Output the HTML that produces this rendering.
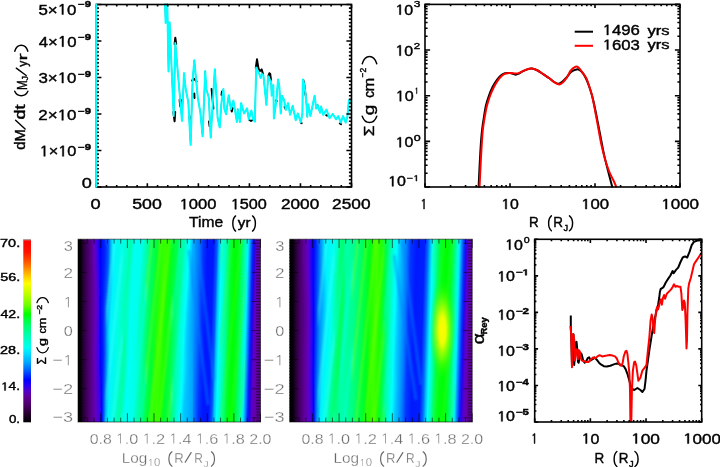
<!DOCTYPE html><html><head><meta charset="utf-8"><title>Figure</title><style>html,body{margin:0;padding:0;background:#fff;}body{width:720px;height:467px;overflow:hidden;}svg{display:block;font-family:"Liberation Sans",sans-serif;}</style></head><body>
<svg width="720" height="467" viewBox="0 0 720 467">
<defs>
<linearGradient id="g1" gradientUnits="userSpaceOnUse" x1="78.0" y1="0" x2="260.5" y2="0">
<stop offset="0.0000" stop-color="rgb(0,0,0)"/>
<stop offset="0.0137" stop-color="rgb(8,0,10)"/>
<stop offset="0.0247" stop-color="rgb(50,0,60)"/>
<stop offset="0.0438" stop-color="rgb(80,0,110)"/>
<stop offset="0.0712" stop-color="rgb(95,0,140)"/>
<stop offset="0.0932" stop-color="rgb(100,0,190)"/>
<stop offset="0.1151" stop-color="rgb(60,0,235)"/>
<stop offset="0.1288" stop-color="rgb(0,0,255)"/>
<stop offset="0.1425" stop-color="rgb(0,40,255)"/>
<stop offset="0.1534" stop-color="rgb(0,140,255)"/>
<stop offset="0.1644" stop-color="rgb(0,220,255)"/>
<stop offset="0.1808" stop-color="rgb(0,250,255)"/>
<stop offset="0.1973" stop-color="rgb(0,215,255)"/>
<stop offset="0.2137" stop-color="rgb(0,205,255)"/>
<stop offset="0.2301" stop-color="rgb(0,240,240)"/>
<stop offset="0.2521" stop-color="rgb(0,255,200)"/>
<stop offset="0.2740" stop-color="rgb(0,255,225)"/>
<stop offset="0.2849" stop-color="rgb(0,255,250)"/>
<stop offset="0.2959" stop-color="rgb(0,255,225)"/>
<stop offset="0.3178" stop-color="rgb(0,255,190)"/>
<stop offset="0.3397" stop-color="rgb(0,255,165)"/>
<stop offset="0.3671" stop-color="rgb(0,255,140)"/>
<stop offset="0.3945" stop-color="rgb(0,255,90)"/>
<stop offset="0.4164" stop-color="rgb(0,255,50)"/>
<stop offset="0.4384" stop-color="rgb(30,255,0)"/>
<stop offset="0.4603" stop-color="rgb(55,255,0)"/>
<stop offset="0.4767" stop-color="rgb(30,255,0)"/>
<stop offset="0.4932" stop-color="rgb(0,255,40)"/>
<stop offset="0.5096" stop-color="rgb(10,255,20)"/>
<stop offset="0.5205" stop-color="rgb(0,255,90)"/>
<stop offset="0.5425" stop-color="rgb(0,255,150)"/>
<stop offset="0.5589" stop-color="rgb(0,255,210)"/>
<stop offset="0.5726" stop-color="rgb(0,255,255)"/>
<stop offset="0.5863" stop-color="rgb(0,210,255)"/>
<stop offset="0.6027" stop-color="rgb(0,175,255)"/>
<stop offset="0.6247" stop-color="rgb(0,150,255)"/>
<stop offset="0.6411" stop-color="rgb(0,90,255)"/>
<stop offset="0.6630" stop-color="rgb(0,40,255)"/>
<stop offset="0.6849" stop-color="rgb(0,20,255)"/>
<stop offset="0.7068" stop-color="rgb(0,30,255)"/>
<stop offset="0.7233" stop-color="rgb(0,60,255)"/>
<stop offset="0.7397" stop-color="rgb(0,140,255)"/>
<stop offset="0.7562" stop-color="rgb(0,220,255)"/>
<stop offset="0.7726" stop-color="rgb(0,255,255)"/>
<stop offset="0.7863" stop-color="rgb(0,255,210)"/>
<stop offset="0.8055" stop-color="rgb(0,255,140)"/>
<stop offset="0.8274" stop-color="rgb(0,255,40)"/>
<stop offset="0.8493" stop-color="rgb(0,255,0)"/>
<stop offset="0.8712" stop-color="rgb(0,255,40)"/>
<stop offset="0.8877" stop-color="rgb(0,255,110)"/>
<stop offset="0.9041" stop-color="rgb(0,255,190)"/>
<stop offset="0.9178" stop-color="rgb(0,240,255)"/>
<stop offset="0.9288" stop-color="rgb(0,150,255)"/>
<stop offset="0.9425" stop-color="rgb(0,40,255)"/>
<stop offset="0.9534" stop-color="rgb(40,0,230)"/>
<stop offset="0.9644" stop-color="rgb(90,0,200)"/>
<stop offset="0.9808" stop-color="rgb(100,0,170)"/>
<stop offset="1.0000" stop-color="rgb(90,0,150)"/>
</linearGradient>
<linearGradient id="g2" gradientUnits="userSpaceOnUse" x1="289.7" y1="0" x2="472.2" y2="0">
<stop offset="0.0000" stop-color="rgb(0,0,0)"/>
<stop offset="0.0153" stop-color="rgb(15,0,20)"/>
<stop offset="0.0290" stop-color="rgb(55,0,70)"/>
<stop offset="0.0510" stop-color="rgb(80,0,115)"/>
<stop offset="0.0729" stop-color="rgb(95,0,150)"/>
<stop offset="0.1003" stop-color="rgb(95,0,200)"/>
<stop offset="0.1222" stop-color="rgb(50,0,240)"/>
<stop offset="0.1359" stop-color="rgb(0,0,255)"/>
<stop offset="0.1496" stop-color="rgb(0,100,255)"/>
<stop offset="0.1660" stop-color="rgb(0,170,255)"/>
<stop offset="0.1825" stop-color="rgb(0,200,255)"/>
<stop offset="0.2044" stop-color="rgb(0,210,255)"/>
<stop offset="0.2208" stop-color="rgb(0,225,255)"/>
<stop offset="0.2318" stop-color="rgb(0,255,230)"/>
<stop offset="0.2482" stop-color="rgb(0,255,200)"/>
<stop offset="0.2701" stop-color="rgb(0,255,180)"/>
<stop offset="0.2921" stop-color="rgb(0,255,185)"/>
<stop offset="0.3085" stop-color="rgb(0,255,235)"/>
<stop offset="0.3222" stop-color="rgb(0,255,200)"/>
<stop offset="0.3414" stop-color="rgb(0,255,150)"/>
<stop offset="0.3688" stop-color="rgb(0,255,120)"/>
<stop offset="0.3962" stop-color="rgb(0,255,80)"/>
<stop offset="0.4181" stop-color="rgb(0,255,40)"/>
<stop offset="0.4400" stop-color="rgb(20,255,0)"/>
<stop offset="0.4674" stop-color="rgb(70,255,0)"/>
<stop offset="0.4893" stop-color="rgb(50,255,0)"/>
<stop offset="0.5112" stop-color="rgb(0,255,60)"/>
<stop offset="0.5277" stop-color="rgb(0,255,120)"/>
<stop offset="0.5496" stop-color="rgb(0,255,190)"/>
<stop offset="0.5688" stop-color="rgb(0,255,255)"/>
<stop offset="0.5852" stop-color="rgb(0,215,255)"/>
<stop offset="0.6044" stop-color="rgb(0,175,255)"/>
<stop offset="0.6263" stop-color="rgb(0,130,255)"/>
<stop offset="0.6427" stop-color="rgb(0,70,255)"/>
<stop offset="0.6701" stop-color="rgb(0,40,255)"/>
<stop offset="0.6975" stop-color="rgb(0,30,255)"/>
<stop offset="0.7195" stop-color="rgb(0,50,255)"/>
<stop offset="0.7359" stop-color="rgb(0,140,255)"/>
<stop offset="0.7523" stop-color="rgb(0,220,255)"/>
<stop offset="0.7660" stop-color="rgb(0,255,255)"/>
<stop offset="0.7797" stop-color="rgb(0,255,190)"/>
<stop offset="0.7962" stop-color="rgb(0,255,100)"/>
<stop offset="0.8126" stop-color="rgb(0,255,40)"/>
<stop offset="0.8345" stop-color="rgb(0,255,0)"/>
<stop offset="0.8564" stop-color="rgb(0,255,0)"/>
<stop offset="0.8784" stop-color="rgb(0,255,40)"/>
<stop offset="0.8948" stop-color="rgb(0,255,140)"/>
<stop offset="0.9112" stop-color="rgb(0,255,220)"/>
<stop offset="0.9222" stop-color="rgb(0,220,255)"/>
<stop offset="0.9332" stop-color="rgb(0,120,255)"/>
<stop offset="0.9468" stop-color="rgb(0,40,255)"/>
<stop offset="0.9605" stop-color="rgb(60,0,230)"/>
<stop offset="0.9770" stop-color="rgb(95,0,190)"/>
<stop offset="1.0000" stop-color="rgb(95,0,160)"/>
</linearGradient>
<linearGradient id="gcb" gradientUnits="userSpaceOnUse" x1="0" y1="239.3" x2="0" y2="422.3">
<stop offset="0.0000" stop-color="rgb(255,0,0)"/>
<stop offset="0.0700" stop-color="rgb(255,20,0)"/>
<stop offset="0.1200" stop-color="rgb(255,80,0)"/>
<stop offset="0.1600" stop-color="rgb(255,140,0)"/>
<stop offset="0.2000" stop-color="rgb(255,200,0)"/>
<stop offset="0.2400" stop-color="rgb(255,255,0)"/>
<stop offset="0.3000" stop-color="rgb(190,255,0)"/>
<stop offset="0.3600" stop-color="rgb(110,255,0)"/>
<stop offset="0.4100" stop-color="rgb(0,255,0)"/>
<stop offset="0.4400" stop-color="rgb(0,255,60)"/>
<stop offset="0.4800" stop-color="rgb(0,255,120)"/>
<stop offset="0.5400" stop-color="rgb(0,255,190)"/>
<stop offset="0.5900" stop-color="rgb(0,255,240)"/>
<stop offset="0.6200" stop-color="rgb(0,225,255)"/>
<stop offset="0.6700" stop-color="rgb(0,170,255)"/>
<stop offset="0.7200" stop-color="rgb(0,90,255)"/>
<stop offset="0.7700" stop-color="rgb(0,0,255)"/>
<stop offset="0.8000" stop-color="rgb(40,0,240)"/>
<stop offset="0.8300" stop-color="rgb(85,0,200)"/>
<stop offset="0.8600" stop-color="rgb(95,0,150)"/>
<stop offset="0.9000" stop-color="rgb(80,0,110)"/>
<stop offset="0.9500" stop-color="rgb(40,0,50)"/>
<stop offset="1.0000" stop-color="rgb(0,0,0)"/>
</linearGradient>
<radialGradient id="yb" cx="0.5" cy="0.5" r="0.5"><stop offset="0" stop-color="rgb(255,250,0)" stop-opacity="1"/><stop offset="0.28" stop-color="rgb(255,255,0)" stop-opacity="0.92"/><stop offset="0.55" stop-color="rgb(180,255,0)" stop-opacity="0.62"/><stop offset="0.8" stop-color="rgb(90,255,0)" stop-opacity="0.28"/><stop offset="1" stop-color="rgb(40,255,0)" stop-opacity="0"/></radialGradient>
<clipPath id="c1"><rect x="78.0" y="239.2" width="182.50" height="182.80"/></clipPath>
<clipPath id="c2"><rect x="289.7" y="239.2" width="182.50" height="182.80"/></clipPath>
<clipPath id="cp1"><rect x="96.30" y="3.70" width="255.20" height="183.30"/></clipPath>
<clipPath id="cp4"><rect x="534.70" y="239.30" width="167.00" height="182.70"/></clipPath>
<filter id="sblur" x="-0.1" y="-0.1" width="1.2" height="1.2"><feGaussianBlur stdDeviation="0.9"/></filter>
</defs>
<g clip-path="url(#c1)">
<g transform="translate(0 330.60) skewX(-0.000) translate(0 -330.60)">
<linearGradient id="c1r" gradientUnits="userSpaceOnUse" x1="176.91" y1="0" x2="260.50" y2="0"><stop offset="0.0000" stop-color="#00ff96"/><stop offset="0.0482" stop-color="#00ffdc"/><stop offset="0.0841" stop-color="#00ffff"/><stop offset="0.1200" stop-color="#00cdff"/><stop offset="0.1806" stop-color="#00a5ff"/><stop offset="0.2404" stop-color="#006eff"/><stop offset="0.2882" stop-color="#0032ff"/><stop offset="0.3361" stop-color="#0016ff"/><stop offset="0.4079" stop-color="#0016ff"/><stop offset="0.4497" stop-color="#005aff"/><stop offset="0.4736" stop-color="#00beff"/><stop offset="0.5036" stop-color="#00ffff"/><stop offset="0.5394" stop-color="#00ffd2"/><stop offset="0.5813" stop-color="#00ff8c"/><stop offset="0.6232" stop-color="#00ff28"/><stop offset="0.6710" stop-color="#00ff00"/><stop offset="0.7189" stop-color="#00ff28"/><stop offset="0.7548" stop-color="#00ff6e"/><stop offset="0.7907" stop-color="#00ffbe"/><stop offset="0.8206" stop-color="#00f0ff"/><stop offset="0.8445" stop-color="#0096ff"/><stop offset="0.8744" stop-color="#0028ff"/><stop offset="0.8983" stop-color="#2800e6"/><stop offset="0.9222" stop-color="#5a00c8"/><stop offset="0.9581" stop-color="#6400aa"/><stop offset="1.0000" stop-color="#5a0096"/></linearGradient>
<g transform="translate(0 330.60) skewX(-1.718) translate(0 -330.60)"><rect x="189.05" y="236.20" width="79.45" height="188.80" fill="url(#c1r)"/></g>
<linearGradient id="c1s0" gradientUnits="userSpaceOnUse" x1="78.00" y1="0" x2="202.10" y2="0"><stop offset="0.000" stop-color="#000000"/><stop offset="0.020" stop-color="#050008"/><stop offset="0.040" stop-color="#230032"/><stop offset="0.073" stop-color="#41005f"/><stop offset="0.105" stop-color="#580087"/><stop offset="0.127" stop-color="#6400be"/><stop offset="0.155" stop-color="#3c00eb"/><stop offset="0.178" stop-color="#0000ff"/><stop offset="0.219" stop-color="#0023ff"/><stop offset="0.247" stop-color="#005aff"/><stop offset="0.263" stop-color="#00b4ff"/><stop offset="0.282" stop-color="#00f5ff"/><stop offset="0.361" stop-color="#00ffe1"/><stop offset="0.408" stop-color="#00ffc3"/><stop offset="0.430" stop-color="#00ffa5"/><stop offset="0.463" stop-color="#00fff5"/><stop offset="0.513" stop-color="#00ffe6"/><stop offset="0.540" stop-color="#00ffbe"/><stop offset="0.566" stop-color="#00ffa0"/><stop offset="0.597" stop-color="#00ff64"/><stop offset="0.639" stop-color="#00ff32"/><stop offset="0.680" stop-color="#2dff00"/><stop offset="0.707" stop-color="#3cff00"/><stop offset="0.734" stop-color="#19ff00"/><stop offset="0.766" stop-color="#00ff28"/><stop offset="0.798" stop-color="#00ff46"/><stop offset="0.839" stop-color="#00ff96"/><stop offset="0.875" stop-color="#00ffdc"/><stop offset="0.899" stop-color="#00ffff"/><stop offset="0.919" stop-color="#00cdff"/><stop offset="0.927" stop-color="#00a5ff"/><stop offset="0.968" stop-color="#006eff"/><stop offset="1.000" stop-color="#0032ff"/></linearGradient>
<rect x="72.0" y="239.00" width="121.05" height="4.00" fill="url(#c1s0)"/>
<linearGradient id="c1s1" gradientUnits="userSpaceOnUse" x1="78.00" y1="0" x2="202.07" y2="0"><stop offset="0.000" stop-color="#000000"/><stop offset="0.020" stop-color="#050008"/><stop offset="0.040" stop-color="#230032"/><stop offset="0.073" stop-color="#41005f"/><stop offset="0.105" stop-color="#580087"/><stop offset="0.128" stop-color="#6400be"/><stop offset="0.156" stop-color="#3c00eb"/><stop offset="0.178" stop-color="#0000ff"/><stop offset="0.219" stop-color="#0023ff"/><stop offset="0.246" stop-color="#005aff"/><stop offset="0.263" stop-color="#00b4ff"/><stop offset="0.283" stop-color="#00f5ff"/><stop offset="0.361" stop-color="#00ffe1"/><stop offset="0.406" stop-color="#00ffc3"/><stop offset="0.428" stop-color="#00ffa5"/><stop offset="0.461" stop-color="#00fff5"/><stop offset="0.512" stop-color="#00ffe6"/><stop offset="0.539" stop-color="#00ffbe"/><stop offset="0.565" stop-color="#00ffa0"/><stop offset="0.596" stop-color="#00ff64"/><stop offset="0.638" stop-color="#00ff32"/><stop offset="0.680" stop-color="#2dff00"/><stop offset="0.706" stop-color="#3cff00"/><stop offset="0.733" stop-color="#19ff00"/><stop offset="0.765" stop-color="#00ff28"/><stop offset="0.797" stop-color="#00ff46"/><stop offset="0.838" stop-color="#00ff96"/><stop offset="0.874" stop-color="#00ffdc"/><stop offset="0.898" stop-color="#00ffff"/><stop offset="0.918" stop-color="#00cdff"/><stop offset="0.927" stop-color="#00a5ff"/><stop offset="0.968" stop-color="#006eff"/><stop offset="1.000" stop-color="#0032ff"/></linearGradient>
<rect x="72.0" y="242.00" width="121.05" height="4.00" fill="url(#c1s1)"/>
<linearGradient id="c1s2" gradientUnits="userSpaceOnUse" x1="78.00" y1="0" x2="202.03" y2="0"><stop offset="0.000" stop-color="#000000"/><stop offset="0.020" stop-color="#050008"/><stop offset="0.040" stop-color="#230032"/><stop offset="0.073" stop-color="#41005f"/><stop offset="0.105" stop-color="#580087"/><stop offset="0.129" stop-color="#6400be"/><stop offset="0.157" stop-color="#3c00eb"/><stop offset="0.178" stop-color="#0000ff"/><stop offset="0.218" stop-color="#0023ff"/><stop offset="0.246" stop-color="#005aff"/><stop offset="0.263" stop-color="#00b4ff"/><stop offset="0.283" stop-color="#00f5ff"/><stop offset="0.360" stop-color="#00ffe1"/><stop offset="0.404" stop-color="#00ffc3"/><stop offset="0.426" stop-color="#00ffa5"/><stop offset="0.460" stop-color="#00fff5"/><stop offset="0.510" stop-color="#00ffe6"/><stop offset="0.538" stop-color="#00ffbe"/><stop offset="0.564" stop-color="#00ffa0"/><stop offset="0.595" stop-color="#00ff64"/><stop offset="0.637" stop-color="#00ff32"/><stop offset="0.679" stop-color="#2dff00"/><stop offset="0.705" stop-color="#3cff00"/><stop offset="0.732" stop-color="#19ff00"/><stop offset="0.764" stop-color="#00ff28"/><stop offset="0.796" stop-color="#00ff46"/><stop offset="0.837" stop-color="#00ff96"/><stop offset="0.873" stop-color="#00ffdc"/><stop offset="0.897" stop-color="#00ffff"/><stop offset="0.917" stop-color="#00cdff"/><stop offset="0.927" stop-color="#00a5ff"/><stop offset="0.968" stop-color="#006eff"/><stop offset="1.000" stop-color="#0032ff"/></linearGradient>
<rect x="72.0" y="245.00" width="121.05" height="4.00" fill="url(#c1s2)"/>
<linearGradient id="c1s3" gradientUnits="userSpaceOnUse" x1="78.00" y1="0" x2="201.99" y2="0"><stop offset="0.000" stop-color="#000000"/><stop offset="0.020" stop-color="#050008"/><stop offset="0.040" stop-color="#230032"/><stop offset="0.073" stop-color="#41005f"/><stop offset="0.105" stop-color="#580087"/><stop offset="0.130" stop-color="#6400be"/><stop offset="0.157" stop-color="#3c00eb"/><stop offset="0.178" stop-color="#0000ff"/><stop offset="0.218" stop-color="#0023ff"/><stop offset="0.245" stop-color="#005aff"/><stop offset="0.263" stop-color="#00b4ff"/><stop offset="0.284" stop-color="#00f5ff"/><stop offset="0.359" stop-color="#00ffe1"/><stop offset="0.403" stop-color="#00ffc3"/><stop offset="0.425" stop-color="#00ffa5"/><stop offset="0.459" stop-color="#00fff5"/><stop offset="0.509" stop-color="#00ffe6"/><stop offset="0.537" stop-color="#00ffbe"/><stop offset="0.563" stop-color="#00ffa0"/><stop offset="0.594" stop-color="#00ff64"/><stop offset="0.637" stop-color="#00ff32"/><stop offset="0.678" stop-color="#2dff00"/><stop offset="0.704" stop-color="#3cff00"/><stop offset="0.730" stop-color="#19ff00"/><stop offset="0.763" stop-color="#00ff28"/><stop offset="0.795" stop-color="#00ff46"/><stop offset="0.836" stop-color="#00ff96"/><stop offset="0.871" stop-color="#00ffdc"/><stop offset="0.896" stop-color="#00ffff"/><stop offset="0.917" stop-color="#00cdff"/><stop offset="0.927" stop-color="#00a5ff"/><stop offset="0.968" stop-color="#006eff"/><stop offset="1.000" stop-color="#0032ff"/></linearGradient>
<rect x="72.0" y="248.00" width="121.05" height="4.00" fill="url(#c1s3)"/>
<linearGradient id="c1s4" gradientUnits="userSpaceOnUse" x1="78.00" y1="0" x2="201.96" y2="0"><stop offset="0.000" stop-color="#000000"/><stop offset="0.020" stop-color="#050008"/><stop offset="0.040" stop-color="#230032"/><stop offset="0.073" stop-color="#41005f"/><stop offset="0.105" stop-color="#580087"/><stop offset="0.131" stop-color="#6400be"/><stop offset="0.158" stop-color="#3c00eb"/><stop offset="0.178" stop-color="#0000ff"/><stop offset="0.217" stop-color="#0023ff"/><stop offset="0.245" stop-color="#005aff"/><stop offset="0.263" stop-color="#00b4ff"/><stop offset="0.284" stop-color="#00f5ff"/><stop offset="0.359" stop-color="#00ffe1"/><stop offset="0.401" stop-color="#00ffc3"/><stop offset="0.423" stop-color="#00ffa5"/><stop offset="0.458" stop-color="#00fff5"/><stop offset="0.508" stop-color="#00ffe6"/><stop offset="0.536" stop-color="#00ffbe"/><stop offset="0.562" stop-color="#00ffa0"/><stop offset="0.594" stop-color="#00ff64"/><stop offset="0.636" stop-color="#00ff32"/><stop offset="0.678" stop-color="#2dff00"/><stop offset="0.703" stop-color="#3cff00"/><stop offset="0.729" stop-color="#19ff00"/><stop offset="0.762" stop-color="#00ff28"/><stop offset="0.794" stop-color="#00ff46"/><stop offset="0.835" stop-color="#00ff96"/><stop offset="0.870" stop-color="#00ffdc"/><stop offset="0.895" stop-color="#00ffff"/><stop offset="0.916" stop-color="#00cdff"/><stop offset="0.927" stop-color="#00a5ff"/><stop offset="0.968" stop-color="#006eff"/><stop offset="1.000" stop-color="#0032ff"/></linearGradient>
<rect x="72.0" y="251.00" width="121.05" height="4.00" fill="url(#c1s4)"/>
<linearGradient id="c1s5" gradientUnits="userSpaceOnUse" x1="78.00" y1="0" x2="201.92" y2="0"><stop offset="0.000" stop-color="#000000"/><stop offset="0.020" stop-color="#050008"/><stop offset="0.040" stop-color="#230032"/><stop offset="0.073" stop-color="#41005f"/><stop offset="0.105" stop-color="#580087"/><stop offset="0.132" stop-color="#6400be"/><stop offset="0.159" stop-color="#3c00eb"/><stop offset="0.178" stop-color="#0000ff"/><stop offset="0.217" stop-color="#0023ff"/><stop offset="0.244" stop-color="#005aff"/><stop offset="0.263" stop-color="#00b4ff"/><stop offset="0.284" stop-color="#00f5ff"/><stop offset="0.358" stop-color="#00ffe1"/><stop offset="0.399" stop-color="#00ffc3"/><stop offset="0.422" stop-color="#00ffa5"/><stop offset="0.456" stop-color="#00fff5"/><stop offset="0.506" stop-color="#00ffe6"/><stop offset="0.535" stop-color="#00ffbe"/><stop offset="0.562" stop-color="#00ffa0"/><stop offset="0.593" stop-color="#00ff64"/><stop offset="0.635" stop-color="#00ff32"/><stop offset="0.677" stop-color="#2dff00"/><stop offset="0.702" stop-color="#3cff00"/><stop offset="0.728" stop-color="#19ff00"/><stop offset="0.761" stop-color="#00ff28"/><stop offset="0.793" stop-color="#00ff46"/><stop offset="0.834" stop-color="#00ff96"/><stop offset="0.869" stop-color="#00ffdc"/><stop offset="0.894" stop-color="#00ffff"/><stop offset="0.915" stop-color="#00cdff"/><stop offset="0.927" stop-color="#00a5ff"/><stop offset="0.968" stop-color="#006eff"/><stop offset="1.000" stop-color="#0032ff"/></linearGradient>
<rect x="72.0" y="254.00" width="121.05" height="4.00" fill="url(#c1s5)"/>
<linearGradient id="c1s6" gradientUnits="userSpaceOnUse" x1="78.00" y1="0" x2="201.88" y2="0"><stop offset="0.000" stop-color="#000000"/><stop offset="0.020" stop-color="#050008"/><stop offset="0.040" stop-color="#230032"/><stop offset="0.073" stop-color="#41005f"/><stop offset="0.105" stop-color="#580087"/><stop offset="0.132" stop-color="#6400be"/><stop offset="0.159" stop-color="#3c00eb"/><stop offset="0.178" stop-color="#0000ff"/><stop offset="0.216" stop-color="#0023ff"/><stop offset="0.244" stop-color="#005aff"/><stop offset="0.263" stop-color="#00b4ff"/><stop offset="0.285" stop-color="#00f5ff"/><stop offset="0.358" stop-color="#00ffe1"/><stop offset="0.397" stop-color="#00ffc3"/><stop offset="0.420" stop-color="#00ffa5"/><stop offset="0.455" stop-color="#00fff5"/><stop offset="0.505" stop-color="#00ffe6"/><stop offset="0.534" stop-color="#00ffbe"/><stop offset="0.561" stop-color="#00ffa0"/><stop offset="0.592" stop-color="#00ff64"/><stop offset="0.635" stop-color="#00ff32"/><stop offset="0.676" stop-color="#2dff00"/><stop offset="0.701" stop-color="#3cff00"/><stop offset="0.727" stop-color="#19ff00"/><stop offset="0.760" stop-color="#00ff28"/><stop offset="0.792" stop-color="#00ff46"/><stop offset="0.833" stop-color="#00ff96"/><stop offset="0.868" stop-color="#00ffdc"/><stop offset="0.893" stop-color="#00ffff"/><stop offset="0.914" stop-color="#00cdff"/><stop offset="0.927" stop-color="#00a5ff"/><stop offset="0.968" stop-color="#006eff"/><stop offset="1.000" stop-color="#0032ff"/></linearGradient>
<rect x="72.0" y="257.00" width="121.05" height="4.00" fill="url(#c1s6)"/>
<linearGradient id="c1s7" gradientUnits="userSpaceOnUse" x1="78.00" y1="0" x2="201.85" y2="0"><stop offset="0.000" stop-color="#000000"/><stop offset="0.020" stop-color="#050008"/><stop offset="0.040" stop-color="#230032"/><stop offset="0.073" stop-color="#41005f"/><stop offset="0.105" stop-color="#580087"/><stop offset="0.133" stop-color="#6400be"/><stop offset="0.160" stop-color="#3c00eb"/><stop offset="0.179" stop-color="#0000ff"/><stop offset="0.216" stop-color="#0023ff"/><stop offset="0.243" stop-color="#005aff"/><stop offset="0.263" stop-color="#00b4ff"/><stop offset="0.285" stop-color="#00f5ff"/><stop offset="0.357" stop-color="#00ffe1"/><stop offset="0.395" stop-color="#00ffc3"/><stop offset="0.418" stop-color="#00ffa5"/><stop offset="0.454" stop-color="#00fff5"/><stop offset="0.503" stop-color="#00ffe6"/><stop offset="0.533" stop-color="#00ffbe"/><stop offset="0.560" stop-color="#00ffa0"/><stop offset="0.591" stop-color="#00ff64"/><stop offset="0.634" stop-color="#00ff32"/><stop offset="0.676" stop-color="#2dff00"/><stop offset="0.700" stop-color="#3cff00"/><stop offset="0.726" stop-color="#19ff00"/><stop offset="0.759" stop-color="#00ff28"/><stop offset="0.791" stop-color="#00ff46"/><stop offset="0.832" stop-color="#00ff96"/><stop offset="0.867" stop-color="#00ffdc"/><stop offset="0.892" stop-color="#00ffff"/><stop offset="0.913" stop-color="#00cdff"/><stop offset="0.927" stop-color="#00a5ff"/><stop offset="0.968" stop-color="#006eff"/><stop offset="1.000" stop-color="#0032ff"/></linearGradient>
<rect x="72.0" y="260.00" width="121.05" height="4.00" fill="url(#c1s7)"/>
<linearGradient id="c1s8" gradientUnits="userSpaceOnUse" x1="78.00" y1="0" x2="201.81" y2="0"><stop offset="0.000" stop-color="#000000"/><stop offset="0.020" stop-color="#050008"/><stop offset="0.040" stop-color="#230032"/><stop offset="0.073" stop-color="#41005f"/><stop offset="0.105" stop-color="#580087"/><stop offset="0.134" stop-color="#6400be"/><stop offset="0.161" stop-color="#3c00eb"/><stop offset="0.179" stop-color="#0000ff"/><stop offset="0.215" stop-color="#0023ff"/><stop offset="0.242" stop-color="#005aff"/><stop offset="0.262" stop-color="#00b4ff"/><stop offset="0.285" stop-color="#00f5ff"/><stop offset="0.356" stop-color="#00ffe1"/><stop offset="0.393" stop-color="#00ffc3"/><stop offset="0.416" stop-color="#00ffa5"/><stop offset="0.452" stop-color="#00fff5"/><stop offset="0.502" stop-color="#00ffe6"/><stop offset="0.532" stop-color="#00ffbe"/><stop offset="0.558" stop-color="#00ffa0"/><stop offset="0.590" stop-color="#00ff64"/><stop offset="0.633" stop-color="#00ff32"/><stop offset="0.675" stop-color="#2dff00"/><stop offset="0.699" stop-color="#3cff00"/><stop offset="0.725" stop-color="#19ff00"/><stop offset="0.757" stop-color="#00ff28"/><stop offset="0.790" stop-color="#00ff46"/><stop offset="0.831" stop-color="#00ff96"/><stop offset="0.866" stop-color="#00ffdc"/><stop offset="0.890" stop-color="#00ffff"/><stop offset="0.912" stop-color="#00cdff"/><stop offset="0.927" stop-color="#00a5ff"/><stop offset="0.968" stop-color="#006eff"/><stop offset="1.000" stop-color="#0032ff"/></linearGradient>
<rect x="72.0" y="263.00" width="121.05" height="4.00" fill="url(#c1s8)"/>
<linearGradient id="c1s9" gradientUnits="userSpaceOnUse" x1="78.00" y1="0" x2="201.77" y2="0"><stop offset="0.000" stop-color="#000000"/><stop offset="0.020" stop-color="#050008"/><stop offset="0.040" stop-color="#230032"/><stop offset="0.073" stop-color="#41005f"/><stop offset="0.105" stop-color="#580087"/><stop offset="0.135" stop-color="#6400be"/><stop offset="0.162" stop-color="#3c00eb"/><stop offset="0.179" stop-color="#0000ff"/><stop offset="0.214" stop-color="#0023ff"/><stop offset="0.241" stop-color="#005aff"/><stop offset="0.261" stop-color="#00b4ff"/><stop offset="0.285" stop-color="#00f5ff"/><stop offset="0.354" stop-color="#00ffe1"/><stop offset="0.391" stop-color="#00ffc3"/><stop offset="0.414" stop-color="#00ffa5"/><stop offset="0.450" stop-color="#00fff5"/><stop offset="0.500" stop-color="#00ffe6"/><stop offset="0.530" stop-color="#00ffbe"/><stop offset="0.557" stop-color="#00ffa0"/><stop offset="0.589" stop-color="#00ff64"/><stop offset="0.632" stop-color="#00ff32"/><stop offset="0.674" stop-color="#2dff00"/><stop offset="0.698" stop-color="#3cff00"/><stop offset="0.724" stop-color="#19ff00"/><stop offset="0.756" stop-color="#00ff28"/><stop offset="0.788" stop-color="#00ff46"/><stop offset="0.830" stop-color="#00ff96"/><stop offset="0.865" stop-color="#00ffdc"/><stop offset="0.889" stop-color="#00ffff"/><stop offset="0.911" stop-color="#00cdff"/><stop offset="0.927" stop-color="#00a5ff"/><stop offset="0.968" stop-color="#006eff"/><stop offset="1.000" stop-color="#0032ff"/></linearGradient>
<rect x="72.0" y="266.00" width="121.05" height="4.00" fill="url(#c1s9)"/>
<linearGradient id="c1s10" gradientUnits="userSpaceOnUse" x1="78.00" y1="0" x2="201.74" y2="0"><stop offset="0.000" stop-color="#000000"/><stop offset="0.020" stop-color="#050008"/><stop offset="0.040" stop-color="#230032"/><stop offset="0.073" stop-color="#41005f"/><stop offset="0.105" stop-color="#580087"/><stop offset="0.137" stop-color="#6400be"/><stop offset="0.163" stop-color="#3c00eb"/><stop offset="0.179" stop-color="#0000ff"/><stop offset="0.213" stop-color="#0023ff"/><stop offset="0.240" stop-color="#005aff"/><stop offset="0.260" stop-color="#00b4ff"/><stop offset="0.284" stop-color="#00f5ff"/><stop offset="0.353" stop-color="#00ffe1"/><stop offset="0.389" stop-color="#00ffc3"/><stop offset="0.412" stop-color="#00ffa5"/><stop offset="0.448" stop-color="#00fff5"/><stop offset="0.498" stop-color="#00ffe6"/><stop offset="0.529" stop-color="#00ffbe"/><stop offset="0.556" stop-color="#00ffa0"/><stop offset="0.588" stop-color="#00ff64"/><stop offset="0.631" stop-color="#00ff32"/><stop offset="0.672" stop-color="#2dff00"/><stop offset="0.697" stop-color="#3cff00"/><stop offset="0.723" stop-color="#19ff00"/><stop offset="0.755" stop-color="#00ff28"/><stop offset="0.787" stop-color="#00ff46"/><stop offset="0.829" stop-color="#00ff96"/><stop offset="0.863" stop-color="#00ffdc"/><stop offset="0.888" stop-color="#00ffff"/><stop offset="0.910" stop-color="#00cdff"/><stop offset="0.927" stop-color="#00a5ff"/><stop offset="0.968" stop-color="#006eff"/><stop offset="1.000" stop-color="#0032ff"/></linearGradient>
<rect x="72.0" y="269.00" width="121.05" height="4.00" fill="url(#c1s10)"/>
<linearGradient id="c1s11" gradientUnits="userSpaceOnUse" x1="78.00" y1="0" x2="201.70" y2="0"><stop offset="0.000" stop-color="#000000"/><stop offset="0.020" stop-color="#050008"/><stop offset="0.040" stop-color="#230032"/><stop offset="0.073" stop-color="#41005f"/><stop offset="0.105" stop-color="#580087"/><stop offset="0.138" stop-color="#6400be"/><stop offset="0.164" stop-color="#3c00eb"/><stop offset="0.179" stop-color="#0000ff"/><stop offset="0.213" stop-color="#0023ff"/><stop offset="0.238" stop-color="#005aff"/><stop offset="0.260" stop-color="#00b4ff"/><stop offset="0.284" stop-color="#00f5ff"/><stop offset="0.352" stop-color="#00ffe1"/><stop offset="0.386" stop-color="#00ffc3"/><stop offset="0.410" stop-color="#00ffa5"/><stop offset="0.447" stop-color="#00fff5"/><stop offset="0.497" stop-color="#00ffe6"/><stop offset="0.527" stop-color="#00ffbe"/><stop offset="0.554" stop-color="#00ffa0"/><stop offset="0.587" stop-color="#00ff64"/><stop offset="0.629" stop-color="#00ff32"/><stop offset="0.671" stop-color="#2dff00"/><stop offset="0.696" stop-color="#3cff00"/><stop offset="0.722" stop-color="#19ff00"/><stop offset="0.754" stop-color="#00ff28"/><stop offset="0.786" stop-color="#00ff46"/><stop offset="0.828" stop-color="#00ff96"/><stop offset="0.862" stop-color="#00ffdc"/><stop offset="0.886" stop-color="#00ffff"/><stop offset="0.909" stop-color="#00cdff"/><stop offset="0.927" stop-color="#00a5ff"/><stop offset="0.968" stop-color="#006eff"/><stop offset="1.000" stop-color="#0032ff"/></linearGradient>
<rect x="72.0" y="272.00" width="121.05" height="4.00" fill="url(#c1s11)"/>
<linearGradient id="c1s12" gradientUnits="userSpaceOnUse" x1="78.00" y1="0" x2="201.66" y2="0"><stop offset="0.000" stop-color="#000000"/><stop offset="0.020" stop-color="#050008"/><stop offset="0.040" stop-color="#230032"/><stop offset="0.073" stop-color="#41005f"/><stop offset="0.105" stop-color="#580087"/><stop offset="0.139" stop-color="#6400be"/><stop offset="0.164" stop-color="#3c00eb"/><stop offset="0.179" stop-color="#0000ff"/><stop offset="0.212" stop-color="#0023ff"/><stop offset="0.237" stop-color="#005aff"/><stop offset="0.259" stop-color="#00b4ff"/><stop offset="0.284" stop-color="#00f5ff"/><stop offset="0.350" stop-color="#00ffe1"/><stop offset="0.384" stop-color="#00ffc3"/><stop offset="0.408" stop-color="#00ffa5"/><stop offset="0.445" stop-color="#00fff5"/><stop offset="0.495" stop-color="#00ffe6"/><stop offset="0.526" stop-color="#00ffbe"/><stop offset="0.553" stop-color="#00ffa0"/><stop offset="0.585" stop-color="#00ff64"/><stop offset="0.628" stop-color="#00ff32"/><stop offset="0.670" stop-color="#2dff00"/><stop offset="0.695" stop-color="#3cff00"/><stop offset="0.720" stop-color="#19ff00"/><stop offset="0.753" stop-color="#00ff28"/><stop offset="0.785" stop-color="#00ff46"/><stop offset="0.827" stop-color="#00ff96"/><stop offset="0.861" stop-color="#00ffdc"/><stop offset="0.885" stop-color="#00ffff"/><stop offset="0.907" stop-color="#00cdff"/><stop offset="0.927" stop-color="#00a5ff"/><stop offset="0.968" stop-color="#006eff"/><stop offset="1.000" stop-color="#0032ff"/></linearGradient>
<rect x="72.0" y="275.00" width="121.05" height="4.00" fill="url(#c1s12)"/>
<linearGradient id="c1s13" gradientUnits="userSpaceOnUse" x1="78.00" y1="0" x2="201.63" y2="0"><stop offset="0.000" stop-color="#000000"/><stop offset="0.020" stop-color="#050008"/><stop offset="0.040" stop-color="#230032"/><stop offset="0.073" stop-color="#41005f"/><stop offset="0.105" stop-color="#580087"/><stop offset="0.140" stop-color="#6400be"/><stop offset="0.165" stop-color="#3c00eb"/><stop offset="0.179" stop-color="#0000ff"/><stop offset="0.211" stop-color="#0023ff"/><stop offset="0.236" stop-color="#005aff"/><stop offset="0.258" stop-color="#00b4ff"/><stop offset="0.284" stop-color="#00f5ff"/><stop offset="0.349" stop-color="#00ffe1"/><stop offset="0.382" stop-color="#00ffc3"/><stop offset="0.406" stop-color="#00ffa5"/><stop offset="0.443" stop-color="#00fff5"/><stop offset="0.494" stop-color="#00ffe6"/><stop offset="0.524" stop-color="#00ffbe"/><stop offset="0.551" stop-color="#00ffa0"/><stop offset="0.584" stop-color="#00ff64"/><stop offset="0.627" stop-color="#00ff32"/><stop offset="0.669" stop-color="#2dff00"/><stop offset="0.693" stop-color="#3cff00"/><stop offset="0.719" stop-color="#19ff00"/><stop offset="0.751" stop-color="#00ff28"/><stop offset="0.783" stop-color="#00ff46"/><stop offset="0.825" stop-color="#00ff96"/><stop offset="0.859" stop-color="#00ffdc"/><stop offset="0.884" stop-color="#00ffff"/><stop offset="0.906" stop-color="#00cdff"/><stop offset="0.927" stop-color="#00a5ff"/><stop offset="0.968" stop-color="#006eff"/><stop offset="1.000" stop-color="#0032ff"/></linearGradient>
<rect x="72.0" y="278.00" width="121.05" height="4.00" fill="url(#c1s13)"/>
<linearGradient id="c1s14" gradientUnits="userSpaceOnUse" x1="78.00" y1="0" x2="201.59" y2="0"><stop offset="0.000" stop-color="#000000"/><stop offset="0.020" stop-color="#050008"/><stop offset="0.040" stop-color="#230032"/><stop offset="0.073" stop-color="#41005f"/><stop offset="0.105" stop-color="#580087"/><stop offset="0.141" stop-color="#6400be"/><stop offset="0.166" stop-color="#3c00eb"/><stop offset="0.179" stop-color="#0000ff"/><stop offset="0.210" stop-color="#0023ff"/><stop offset="0.235" stop-color="#005aff"/><stop offset="0.257" stop-color="#00b4ff"/><stop offset="0.283" stop-color="#00f5ff"/><stop offset="0.347" stop-color="#00ffe1"/><stop offset="0.379" stop-color="#00ffc3"/><stop offset="0.403" stop-color="#00ffa5"/><stop offset="0.441" stop-color="#00fff5"/><stop offset="0.492" stop-color="#00ffe6"/><stop offset="0.523" stop-color="#00ffbe"/><stop offset="0.550" stop-color="#00ffa0"/><stop offset="0.583" stop-color="#00ff64"/><stop offset="0.626" stop-color="#00ff32"/><stop offset="0.668" stop-color="#2dff00"/><stop offset="0.692" stop-color="#3cff00"/><stop offset="0.718" stop-color="#19ff00"/><stop offset="0.750" stop-color="#00ff28"/><stop offset="0.782" stop-color="#00ff46"/><stop offset="0.824" stop-color="#00ff96"/><stop offset="0.858" stop-color="#00ffdc"/><stop offset="0.882" stop-color="#00ffff"/><stop offset="0.905" stop-color="#00cdff"/><stop offset="0.927" stop-color="#00a5ff"/><stop offset="0.968" stop-color="#006eff"/><stop offset="1.000" stop-color="#0032ff"/></linearGradient>
<rect x="72.0" y="281.00" width="121.05" height="4.00" fill="url(#c1s14)"/>
<linearGradient id="c1s15" gradientUnits="userSpaceOnUse" x1="78.00" y1="0" x2="201.55" y2="0"><stop offset="0.000" stop-color="#000000"/><stop offset="0.020" stop-color="#050008"/><stop offset="0.040" stop-color="#230032"/><stop offset="0.073" stop-color="#41005f"/><stop offset="0.105" stop-color="#580087"/><stop offset="0.142" stop-color="#6400be"/><stop offset="0.167" stop-color="#3c00eb"/><stop offset="0.179" stop-color="#0000ff"/><stop offset="0.209" stop-color="#0023ff"/><stop offset="0.234" stop-color="#005aff"/><stop offset="0.256" stop-color="#00b4ff"/><stop offset="0.283" stop-color="#00f5ff"/><stop offset="0.346" stop-color="#00ffe1"/><stop offset="0.377" stop-color="#00ffc3"/><stop offset="0.401" stop-color="#00ffa5"/><stop offset="0.440" stop-color="#00fff5"/><stop offset="0.490" stop-color="#00ffe6"/><stop offset="0.521" stop-color="#00ffbe"/><stop offset="0.548" stop-color="#00ffa0"/><stop offset="0.582" stop-color="#00ff64"/><stop offset="0.625" stop-color="#00ff32"/><stop offset="0.667" stop-color="#2dff00"/><stop offset="0.691" stop-color="#3cff00"/><stop offset="0.717" stop-color="#19ff00"/><stop offset="0.749" stop-color="#00ff28"/><stop offset="0.781" stop-color="#00ff46"/><stop offset="0.823" stop-color="#00ff96"/><stop offset="0.857" stop-color="#00ffdc"/><stop offset="0.881" stop-color="#00ffff"/><stop offset="0.904" stop-color="#00cdff"/><stop offset="0.927" stop-color="#00a5ff"/><stop offset="0.968" stop-color="#006eff"/><stop offset="1.000" stop-color="#0032ff"/></linearGradient>
<rect x="72.0" y="284.00" width="121.05" height="4.00" fill="url(#c1s15)"/>
<linearGradient id="c1s16" gradientUnits="userSpaceOnUse" x1="78.00" y1="0" x2="201.52" y2="0"><stop offset="0.000" stop-color="#000000"/><stop offset="0.020" stop-color="#050008"/><stop offset="0.040" stop-color="#230032"/><stop offset="0.073" stop-color="#41005f"/><stop offset="0.105" stop-color="#580087"/><stop offset="0.142" stop-color="#6400be"/><stop offset="0.167" stop-color="#3c00eb"/><stop offset="0.179" stop-color="#0000ff"/><stop offset="0.208" stop-color="#0023ff"/><stop offset="0.232" stop-color="#005aff"/><stop offset="0.255" stop-color="#00b4ff"/><stop offset="0.281" stop-color="#00f5ff"/><stop offset="0.344" stop-color="#00ffe1"/><stop offset="0.375" stop-color="#00ffc3"/><stop offset="0.400" stop-color="#00ffa5"/><stop offset="0.438" stop-color="#00fff5"/><stop offset="0.489" stop-color="#00ffe6"/><stop offset="0.520" stop-color="#00ffbe"/><stop offset="0.547" stop-color="#00ffa0"/><stop offset="0.581" stop-color="#00ff64"/><stop offset="0.624" stop-color="#00ff32"/><stop offset="0.665" stop-color="#2dff00"/><stop offset="0.690" stop-color="#3cff00"/><stop offset="0.716" stop-color="#19ff00"/><stop offset="0.748" stop-color="#00ff28"/><stop offset="0.779" stop-color="#00ff46"/><stop offset="0.822" stop-color="#00ff96"/><stop offset="0.855" stop-color="#00ffdc"/><stop offset="0.880" stop-color="#00ffff"/><stop offset="0.903" stop-color="#00cdff"/><stop offset="0.927" stop-color="#00a5ff"/><stop offset="0.968" stop-color="#006eff"/><stop offset="1.000" stop-color="#0032ff"/></linearGradient>
<rect x="72.0" y="287.00" width="121.05" height="4.00" fill="url(#c1s16)"/>
<linearGradient id="c1s17" gradientUnits="userSpaceOnUse" x1="78.00" y1="0" x2="201.48" y2="0"><stop offset="0.000" stop-color="#000000"/><stop offset="0.020" stop-color="#050008"/><stop offset="0.040" stop-color="#230032"/><stop offset="0.073" stop-color="#41005f"/><stop offset="0.105" stop-color="#580087"/><stop offset="0.143" stop-color="#6400be"/><stop offset="0.168" stop-color="#3c00eb"/><stop offset="0.179" stop-color="#0000ff"/><stop offset="0.208" stop-color="#0023ff"/><stop offset="0.231" stop-color="#005aff"/><stop offset="0.253" stop-color="#00b4ff"/><stop offset="0.280" stop-color="#00f5ff"/><stop offset="0.342" stop-color="#00ffe1"/><stop offset="0.373" stop-color="#00ffc3"/><stop offset="0.398" stop-color="#00ffa5"/><stop offset="0.436" stop-color="#00fff5"/><stop offset="0.488" stop-color="#00ffe6"/><stop offset="0.518" stop-color="#00ffbe"/><stop offset="0.545" stop-color="#00ffa0"/><stop offset="0.579" stop-color="#00ff64"/><stop offset="0.622" stop-color="#00ff32"/><stop offset="0.664" stop-color="#2dff00"/><stop offset="0.689" stop-color="#3cff00"/><stop offset="0.715" stop-color="#19ff00"/><stop offset="0.747" stop-color="#00ff28"/><stop offset="0.778" stop-color="#00ff46"/><stop offset="0.820" stop-color="#00ff96"/><stop offset="0.854" stop-color="#00ffdc"/><stop offset="0.878" stop-color="#00ffff"/><stop offset="0.901" stop-color="#00cdff"/><stop offset="0.927" stop-color="#00a5ff"/><stop offset="0.968" stop-color="#006eff"/><stop offset="1.000" stop-color="#0032ff"/></linearGradient>
<rect x="72.0" y="290.00" width="121.05" height="4.00" fill="url(#c1s17)"/>
<linearGradient id="c1s18" gradientUnits="userSpaceOnUse" x1="78.00" y1="0" x2="201.45" y2="0"><stop offset="0.000" stop-color="#000000"/><stop offset="0.020" stop-color="#050008"/><stop offset="0.041" stop-color="#230032"/><stop offset="0.073" stop-color="#41005f"/><stop offset="0.105" stop-color="#580087"/><stop offset="0.143" stop-color="#6400be"/><stop offset="0.168" stop-color="#3c00eb"/><stop offset="0.179" stop-color="#0000ff"/><stop offset="0.207" stop-color="#0023ff"/><stop offset="0.229" stop-color="#005aff"/><stop offset="0.252" stop-color="#00b4ff"/><stop offset="0.278" stop-color="#00f5ff"/><stop offset="0.340" stop-color="#00ffe1"/><stop offset="0.371" stop-color="#00ffc3"/><stop offset="0.396" stop-color="#00ffa5"/><stop offset="0.434" stop-color="#00fff5"/><stop offset="0.487" stop-color="#00ffe6"/><stop offset="0.516" stop-color="#00ffbe"/><stop offset="0.543" stop-color="#00ffa0"/><stop offset="0.578" stop-color="#00ff64"/><stop offset="0.620" stop-color="#00ff32"/><stop offset="0.662" stop-color="#2dff00"/><stop offset="0.687" stop-color="#3cff00"/><stop offset="0.714" stop-color="#19ff00"/><stop offset="0.745" stop-color="#00ff28"/><stop offset="0.777" stop-color="#00ff46"/><stop offset="0.819" stop-color="#00ff96"/><stop offset="0.852" stop-color="#00ffdc"/><stop offset="0.877" stop-color="#00ffff"/><stop offset="0.900" stop-color="#00cdff"/><stop offset="0.927" stop-color="#00a5ff"/><stop offset="0.968" stop-color="#006eff"/><stop offset="1.000" stop-color="#0032ff"/></linearGradient>
<rect x="72.0" y="293.00" width="121.05" height="4.00" fill="url(#c1s18)"/>
<linearGradient id="c1s19" gradientUnits="userSpaceOnUse" x1="78.00" y1="0" x2="201.41" y2="0"><stop offset="0.000" stop-color="#000000"/><stop offset="0.020" stop-color="#050008"/><stop offset="0.041" stop-color="#230032"/><stop offset="0.073" stop-color="#41005f"/><stop offset="0.105" stop-color="#580087"/><stop offset="0.143" stop-color="#6400be"/><stop offset="0.169" stop-color="#3c00eb"/><stop offset="0.180" stop-color="#0000ff"/><stop offset="0.206" stop-color="#0023ff"/><stop offset="0.228" stop-color="#005aff"/><stop offset="0.250" stop-color="#00b4ff"/><stop offset="0.276" stop-color="#00f5ff"/><stop offset="0.338" stop-color="#00ffe1"/><stop offset="0.369" stop-color="#00ffc3"/><stop offset="0.394" stop-color="#00ffa5"/><stop offset="0.432" stop-color="#00fff5"/><stop offset="0.485" stop-color="#00ffe6"/><stop offset="0.515" stop-color="#00ffbe"/><stop offset="0.541" stop-color="#00ffa0"/><stop offset="0.576" stop-color="#00ff64"/><stop offset="0.619" stop-color="#00ff32"/><stop offset="0.661" stop-color="#2dff00"/><stop offset="0.686" stop-color="#3cff00"/><stop offset="0.713" stop-color="#19ff00"/><stop offset="0.744" stop-color="#00ff28"/><stop offset="0.775" stop-color="#00ff46"/><stop offset="0.818" stop-color="#00ff96"/><stop offset="0.851" stop-color="#00ffdc"/><stop offset="0.875" stop-color="#00ffff"/><stop offset="0.899" stop-color="#00cdff"/><stop offset="0.927" stop-color="#00a5ff"/><stop offset="0.968" stop-color="#006eff"/><stop offset="1.000" stop-color="#0032ff"/></linearGradient>
<rect x="72.0" y="296.00" width="121.05" height="4.00" fill="url(#c1s19)"/>
<linearGradient id="c1s20" gradientUnits="userSpaceOnUse" x1="78.00" y1="0" x2="201.37" y2="0"><stop offset="0.000" stop-color="#000000"/><stop offset="0.020" stop-color="#050008"/><stop offset="0.041" stop-color="#230032"/><stop offset="0.073" stop-color="#41005f"/><stop offset="0.105" stop-color="#580087"/><stop offset="0.144" stop-color="#6400be"/><stop offset="0.169" stop-color="#3c00eb"/><stop offset="0.180" stop-color="#0000ff"/><stop offset="0.205" stop-color="#0023ff"/><stop offset="0.226" stop-color="#005aff"/><stop offset="0.248" stop-color="#00b4ff"/><stop offset="0.275" stop-color="#00f5ff"/><stop offset="0.336" stop-color="#00ffe1"/><stop offset="0.367" stop-color="#00ffc3"/><stop offset="0.392" stop-color="#00ffa5"/><stop offset="0.431" stop-color="#00fff5"/><stop offset="0.484" stop-color="#00ffe6"/><stop offset="0.513" stop-color="#00ffbe"/><stop offset="0.540" stop-color="#00ffa0"/><stop offset="0.575" stop-color="#00ff64"/><stop offset="0.617" stop-color="#00ff32"/><stop offset="0.659" stop-color="#2dff00"/><stop offset="0.685" stop-color="#3cff00"/><stop offset="0.712" stop-color="#19ff00"/><stop offset="0.743" stop-color="#00ff28"/><stop offset="0.774" stop-color="#00ff46"/><stop offset="0.816" stop-color="#00ff96"/><stop offset="0.849" stop-color="#00ffdc"/><stop offset="0.874" stop-color="#00ffff"/><stop offset="0.897" stop-color="#00cdff"/><stop offset="0.927" stop-color="#00a5ff"/><stop offset="0.968" stop-color="#006eff"/><stop offset="1.000" stop-color="#0032ff"/></linearGradient>
<rect x="72.0" y="299.00" width="121.05" height="4.00" fill="url(#c1s20)"/>
<linearGradient id="c1s21" gradientUnits="userSpaceOnUse" x1="78.00" y1="0" x2="201.34" y2="0"><stop offset="0.000" stop-color="#000000"/><stop offset="0.020" stop-color="#050008"/><stop offset="0.041" stop-color="#230032"/><stop offset="0.073" stop-color="#41005f"/><stop offset="0.105" stop-color="#580087"/><stop offset="0.144" stop-color="#6400be"/><stop offset="0.170" stop-color="#3c00eb"/><stop offset="0.180" stop-color="#0000ff"/><stop offset="0.204" stop-color="#0023ff"/><stop offset="0.225" stop-color="#005aff"/><stop offset="0.247" stop-color="#00b4ff"/><stop offset="0.273" stop-color="#00f5ff"/><stop offset="0.334" stop-color="#00ffe1"/><stop offset="0.365" stop-color="#00ffc3"/><stop offset="0.390" stop-color="#00ffa5"/><stop offset="0.429" stop-color="#00fff5"/><stop offset="0.483" stop-color="#00ffe6"/><stop offset="0.511" stop-color="#00ffbe"/><stop offset="0.538" stop-color="#00ffa0"/><stop offset="0.574" stop-color="#00ff64"/><stop offset="0.616" stop-color="#00ff32"/><stop offset="0.658" stop-color="#2dff00"/><stop offset="0.684" stop-color="#3cff00"/><stop offset="0.711" stop-color="#19ff00"/><stop offset="0.742" stop-color="#00ff28"/><stop offset="0.772" stop-color="#00ff46"/><stop offset="0.815" stop-color="#00ff96"/><stop offset="0.848" stop-color="#00ffdc"/><stop offset="0.872" stop-color="#00ffff"/><stop offset="0.896" stop-color="#00cdff"/><stop offset="0.927" stop-color="#00a5ff"/><stop offset="0.968" stop-color="#006eff"/><stop offset="1.000" stop-color="#0032ff"/></linearGradient>
<rect x="72.0" y="302.00" width="121.05" height="4.00" fill="url(#c1s21)"/>
<linearGradient id="c1s22" gradientUnits="userSpaceOnUse" x1="78.00" y1="0" x2="201.30" y2="0"><stop offset="0.000" stop-color="#000000"/><stop offset="0.020" stop-color="#050008"/><stop offset="0.041" stop-color="#230032"/><stop offset="0.073" stop-color="#41005f"/><stop offset="0.105" stop-color="#580087"/><stop offset="0.145" stop-color="#6400be"/><stop offset="0.170" stop-color="#3c00eb"/><stop offset="0.180" stop-color="#0000ff"/><stop offset="0.204" stop-color="#0023ff"/><stop offset="0.223" stop-color="#005aff"/><stop offset="0.245" stop-color="#00b4ff"/><stop offset="0.272" stop-color="#00f5ff"/><stop offset="0.332" stop-color="#00ffe1"/><stop offset="0.363" stop-color="#00ffc3"/><stop offset="0.389" stop-color="#00ffa5"/><stop offset="0.427" stop-color="#00fff5"/><stop offset="0.482" stop-color="#00ffe6"/><stop offset="0.510" stop-color="#00ffbe"/><stop offset="0.536" stop-color="#00ffa0"/><stop offset="0.572" stop-color="#00ff64"/><stop offset="0.614" stop-color="#00ff32"/><stop offset="0.657" stop-color="#2dff00"/><stop offset="0.683" stop-color="#3cff00"/><stop offset="0.710" stop-color="#19ff00"/><stop offset="0.741" stop-color="#00ff28"/><stop offset="0.771" stop-color="#00ff46"/><stop offset="0.814" stop-color="#00ff96"/><stop offset="0.846" stop-color="#00ffdc"/><stop offset="0.871" stop-color="#00ffff"/><stop offset="0.895" stop-color="#00cdff"/><stop offset="0.927" stop-color="#00a5ff"/><stop offset="0.968" stop-color="#006eff"/><stop offset="1.000" stop-color="#0032ff"/></linearGradient>
<rect x="72.0" y="305.00" width="121.05" height="4.00" fill="url(#c1s22)"/>
<linearGradient id="c1s23" gradientUnits="userSpaceOnUse" x1="78.00" y1="0" x2="201.26" y2="0"><stop offset="0.000" stop-color="#000000"/><stop offset="0.020" stop-color="#050008"/><stop offset="0.041" stop-color="#230032"/><stop offset="0.073" stop-color="#41005f"/><stop offset="0.105" stop-color="#580087"/><stop offset="0.144" stop-color="#6400be"/><stop offset="0.171" stop-color="#3c00eb"/><stop offset="0.180" stop-color="#0000ff"/><stop offset="0.203" stop-color="#0023ff"/><stop offset="0.223" stop-color="#005aff"/><stop offset="0.244" stop-color="#00b4ff"/><stop offset="0.270" stop-color="#00f5ff"/><stop offset="0.330" stop-color="#00ffe1"/><stop offset="0.362" stop-color="#00ffc3"/><stop offset="0.387" stop-color="#00ffa5"/><stop offset="0.426" stop-color="#00fff5"/><stop offset="0.481" stop-color="#00ffe6"/><stop offset="0.508" stop-color="#00ffbe"/><stop offset="0.535" stop-color="#00ffa0"/><stop offset="0.571" stop-color="#00ff64"/><stop offset="0.613" stop-color="#00ff32"/><stop offset="0.655" stop-color="#2dff00"/><stop offset="0.681" stop-color="#3cff00"/><stop offset="0.709" stop-color="#19ff00"/><stop offset="0.739" stop-color="#00ff28"/><stop offset="0.770" stop-color="#00ff46"/><stop offset="0.812" stop-color="#00ff96"/><stop offset="0.845" stop-color="#00ffdc"/><stop offset="0.869" stop-color="#00ffff"/><stop offset="0.894" stop-color="#00cdff"/><stop offset="0.927" stop-color="#00a5ff"/><stop offset="0.968" stop-color="#006eff"/><stop offset="1.000" stop-color="#0032ff"/></linearGradient>
<rect x="72.0" y="308.00" width="121.05" height="4.00" fill="url(#c1s23)"/>
<linearGradient id="c1s24" gradientUnits="userSpaceOnUse" x1="78.00" y1="0" x2="201.23" y2="0"><stop offset="0.000" stop-color="#000000"/><stop offset="0.020" stop-color="#050008"/><stop offset="0.041" stop-color="#230032"/><stop offset="0.073" stop-color="#41005f"/><stop offset="0.105" stop-color="#580087"/><stop offset="0.144" stop-color="#6400be"/><stop offset="0.170" stop-color="#3c00eb"/><stop offset="0.180" stop-color="#0000ff"/><stop offset="0.203" stop-color="#0023ff"/><stop offset="0.222" stop-color="#005aff"/><stop offset="0.243" stop-color="#00b4ff"/><stop offset="0.269" stop-color="#00f5ff"/><stop offset="0.330" stop-color="#00ffe1"/><stop offset="0.361" stop-color="#00ffc3"/><stop offset="0.386" stop-color="#00ffa5"/><stop offset="0.425" stop-color="#00fff5"/><stop offset="0.480" stop-color="#00ffe6"/><stop offset="0.507" stop-color="#00ffbe"/><stop offset="0.534" stop-color="#00ffa0"/><stop offset="0.570" stop-color="#00ff64"/><stop offset="0.612" stop-color="#00ff32"/><stop offset="0.654" stop-color="#2dff00"/><stop offset="0.681" stop-color="#3cff00"/><stop offset="0.708" stop-color="#19ff00"/><stop offset="0.738" stop-color="#00ff28"/><stop offset="0.769" stop-color="#00ff46"/><stop offset="0.811" stop-color="#00ff96"/><stop offset="0.844" stop-color="#00ffdc"/><stop offset="0.868" stop-color="#00ffff"/><stop offset="0.892" stop-color="#00cdff"/><stop offset="0.927" stop-color="#00a5ff"/><stop offset="0.968" stop-color="#006eff"/><stop offset="1.000" stop-color="#0032ff"/></linearGradient>
<rect x="72.0" y="311.00" width="121.05" height="4.00" fill="url(#c1s24)"/>
<linearGradient id="c1s25" gradientUnits="userSpaceOnUse" x1="78.00" y1="0" x2="201.19" y2="0"><stop offset="0.000" stop-color="#000000"/><stop offset="0.020" stop-color="#050008"/><stop offset="0.041" stop-color="#230032"/><stop offset="0.073" stop-color="#41005f"/><stop offset="0.106" stop-color="#580087"/><stop offset="0.143" stop-color="#6400be"/><stop offset="0.170" stop-color="#3c00eb"/><stop offset="0.180" stop-color="#0000ff"/><stop offset="0.203" stop-color="#0023ff"/><stop offset="0.222" stop-color="#005aff"/><stop offset="0.242" stop-color="#00b4ff"/><stop offset="0.267" stop-color="#00f5ff"/><stop offset="0.329" stop-color="#00ffe1"/><stop offset="0.360" stop-color="#00ffc3"/><stop offset="0.385" stop-color="#00ffa5"/><stop offset="0.424" stop-color="#00fff5"/><stop offset="0.479" stop-color="#00ffe6"/><stop offset="0.506" stop-color="#00ffbe"/><stop offset="0.532" stop-color="#00ffa0"/><stop offset="0.569" stop-color="#00ff64"/><stop offset="0.611" stop-color="#00ff32"/><stop offset="0.653" stop-color="#2dff00"/><stop offset="0.680" stop-color="#3cff00"/><stop offset="0.707" stop-color="#19ff00"/><stop offset="0.737" stop-color="#00ff28"/><stop offset="0.767" stop-color="#00ff46"/><stop offset="0.810" stop-color="#00ff96"/><stop offset="0.843" stop-color="#00ffdc"/><stop offset="0.867" stop-color="#00ffff"/><stop offset="0.891" stop-color="#00cdff"/><stop offset="0.927" stop-color="#00a5ff"/><stop offset="0.968" stop-color="#006eff"/><stop offset="1.000" stop-color="#0032ff"/></linearGradient>
<rect x="72.0" y="314.00" width="121.05" height="4.00" fill="url(#c1s25)"/>
<linearGradient id="c1s26" gradientUnits="userSpaceOnUse" x1="78.00" y1="0" x2="201.15" y2="0"><stop offset="0.000" stop-color="#000000"/><stop offset="0.020" stop-color="#050008"/><stop offset="0.041" stop-color="#230032"/><stop offset="0.073" stop-color="#41005f"/><stop offset="0.106" stop-color="#580087"/><stop offset="0.142" stop-color="#6400be"/><stop offset="0.170" stop-color="#3c00eb"/><stop offset="0.180" stop-color="#0000ff"/><stop offset="0.203" stop-color="#0023ff"/><stop offset="0.221" stop-color="#005aff"/><stop offset="0.241" stop-color="#00b4ff"/><stop offset="0.266" stop-color="#00f5ff"/><stop offset="0.328" stop-color="#00ffe1"/><stop offset="0.359" stop-color="#00ffc3"/><stop offset="0.384" stop-color="#00ffa5"/><stop offset="0.423" stop-color="#00fff5"/><stop offset="0.478" stop-color="#00ffe6"/><stop offset="0.505" stop-color="#00ffbe"/><stop offset="0.531" stop-color="#00ffa0"/><stop offset="0.567" stop-color="#00ff64"/><stop offset="0.609" stop-color="#00ff32"/><stop offset="0.652" stop-color="#2dff00"/><stop offset="0.679" stop-color="#3cff00"/><stop offset="0.706" stop-color="#19ff00"/><stop offset="0.736" stop-color="#00ff28"/><stop offset="0.766" stop-color="#00ff46"/><stop offset="0.809" stop-color="#00ff96"/><stop offset="0.842" stop-color="#00ffdc"/><stop offset="0.866" stop-color="#00ffff"/><stop offset="0.890" stop-color="#00cdff"/><stop offset="0.927" stop-color="#00a5ff"/><stop offset="0.968" stop-color="#006eff"/><stop offset="1.000" stop-color="#0032ff"/></linearGradient>
<rect x="72.0" y="317.00" width="121.05" height="4.00" fill="url(#c1s26)"/>
<linearGradient id="c1s27" gradientUnits="userSpaceOnUse" x1="78.00" y1="0" x2="201.12" y2="0"><stop offset="0.000" stop-color="#000000"/><stop offset="0.020" stop-color="#050008"/><stop offset="0.041" stop-color="#230032"/><stop offset="0.073" stop-color="#41005f"/><stop offset="0.106" stop-color="#580087"/><stop offset="0.142" stop-color="#6400be"/><stop offset="0.170" stop-color="#3c00eb"/><stop offset="0.180" stop-color="#0000ff"/><stop offset="0.203" stop-color="#0023ff"/><stop offset="0.221" stop-color="#005aff"/><stop offset="0.241" stop-color="#00b4ff"/><stop offset="0.265" stop-color="#00f5ff"/><stop offset="0.327" stop-color="#00ffe1"/><stop offset="0.358" stop-color="#00ffc3"/><stop offset="0.383" stop-color="#00ffa5"/><stop offset="0.422" stop-color="#00fff5"/><stop offset="0.478" stop-color="#00ffe6"/><stop offset="0.504" stop-color="#00ffbe"/><stop offset="0.530" stop-color="#00ffa0"/><stop offset="0.566" stop-color="#00ff64"/><stop offset="0.608" stop-color="#00ff32"/><stop offset="0.651" stop-color="#2dff00"/><stop offset="0.678" stop-color="#3cff00"/><stop offset="0.705" stop-color="#19ff00"/><stop offset="0.735" stop-color="#00ff28"/><stop offset="0.765" stop-color="#00ff46"/><stop offset="0.808" stop-color="#00ff96"/><stop offset="0.841" stop-color="#00ffdc"/><stop offset="0.865" stop-color="#00ffff"/><stop offset="0.889" stop-color="#00cdff"/><stop offset="0.927" stop-color="#00a5ff"/><stop offset="0.968" stop-color="#006eff"/><stop offset="1.000" stop-color="#0032ff"/></linearGradient>
<rect x="72.0" y="320.00" width="121.05" height="4.00" fill="url(#c1s27)"/>
<linearGradient id="c1s28" gradientUnits="userSpaceOnUse" x1="78.00" y1="0" x2="201.08" y2="0"><stop offset="0.000" stop-color="#000000"/><stop offset="0.020" stop-color="#050008"/><stop offset="0.041" stop-color="#230032"/><stop offset="0.073" stop-color="#41005f"/><stop offset="0.106" stop-color="#580087"/><stop offset="0.141" stop-color="#6400be"/><stop offset="0.170" stop-color="#3c00eb"/><stop offset="0.181" stop-color="#0000ff"/><stop offset="0.203" stop-color="#0023ff"/><stop offset="0.220" stop-color="#005aff"/><stop offset="0.240" stop-color="#00b4ff"/><stop offset="0.263" stop-color="#00f5ff"/><stop offset="0.326" stop-color="#00ffe1"/><stop offset="0.357" stop-color="#00ffc3"/><stop offset="0.383" stop-color="#00ffa5"/><stop offset="0.421" stop-color="#00fff5"/><stop offset="0.477" stop-color="#00ffe6"/><stop offset="0.502" stop-color="#00ffbe"/><stop offset="0.529" stop-color="#00ffa0"/><stop offset="0.565" stop-color="#00ff64"/><stop offset="0.607" stop-color="#00ff32"/><stop offset="0.650" stop-color="#2dff00"/><stop offset="0.677" stop-color="#3cff00"/><stop offset="0.705" stop-color="#19ff00"/><stop offset="0.734" stop-color="#00ff28"/><stop offset="0.764" stop-color="#00ff46"/><stop offset="0.807" stop-color="#00ff96"/><stop offset="0.839" stop-color="#00ffdc"/><stop offset="0.864" stop-color="#00ffff"/><stop offset="0.888" stop-color="#00cdff"/><stop offset="0.927" stop-color="#00a5ff"/><stop offset="0.968" stop-color="#006eff"/><stop offset="1.000" stop-color="#0032ff"/></linearGradient>
<rect x="72.0" y="323.00" width="121.05" height="4.00" fill="url(#c1s28)"/>
<linearGradient id="c1s29" gradientUnits="userSpaceOnUse" x1="78.00" y1="0" x2="201.04" y2="0"><stop offset="0.000" stop-color="#000000"/><stop offset="0.020" stop-color="#050008"/><stop offset="0.041" stop-color="#230032"/><stop offset="0.073" stop-color="#41005f"/><stop offset="0.106" stop-color="#580087"/><stop offset="0.140" stop-color="#6400be"/><stop offset="0.170" stop-color="#3c00eb"/><stop offset="0.181" stop-color="#0000ff"/><stop offset="0.203" stop-color="#0023ff"/><stop offset="0.220" stop-color="#005aff"/><stop offset="0.239" stop-color="#00b4ff"/><stop offset="0.262" stop-color="#00f5ff"/><stop offset="0.325" stop-color="#00ffe1"/><stop offset="0.356" stop-color="#00ffc3"/><stop offset="0.382" stop-color="#00ffa5"/><stop offset="0.420" stop-color="#00fff5"/><stop offset="0.476" stop-color="#00ffe6"/><stop offset="0.501" stop-color="#00ffbe"/><stop offset="0.528" stop-color="#00ffa0"/><stop offset="0.563" stop-color="#00ff64"/><stop offset="0.606" stop-color="#00ff32"/><stop offset="0.649" stop-color="#2dff00"/><stop offset="0.676" stop-color="#3cff00"/><stop offset="0.704" stop-color="#19ff00"/><stop offset="0.733" stop-color="#00ff28"/><stop offset="0.763" stop-color="#00ff46"/><stop offset="0.805" stop-color="#00ff96"/><stop offset="0.838" stop-color="#00ffdc"/><stop offset="0.863" stop-color="#00ffff"/><stop offset="0.887" stop-color="#00cdff"/><stop offset="0.927" stop-color="#00a5ff"/><stop offset="0.967" stop-color="#006eff"/><stop offset="1.000" stop-color="#0032ff"/></linearGradient>
<rect x="72.0" y="326.00" width="121.05" height="4.00" fill="url(#c1s29)"/>
<linearGradient id="c1s30" gradientUnits="userSpaceOnUse" x1="78.00" y1="0" x2="201.01" y2="0"><stop offset="0.000" stop-color="#000000"/><stop offset="0.020" stop-color="#050008"/><stop offset="0.041" stop-color="#230032"/><stop offset="0.073" stop-color="#41005f"/><stop offset="0.106" stop-color="#580087"/><stop offset="0.140" stop-color="#6400be"/><stop offset="0.170" stop-color="#3c00eb"/><stop offset="0.181" stop-color="#0000ff"/><stop offset="0.203" stop-color="#0023ff"/><stop offset="0.220" stop-color="#005aff"/><stop offset="0.238" stop-color="#00b4ff"/><stop offset="0.260" stop-color="#00f5ff"/><stop offset="0.324" stop-color="#00ffe1"/><stop offset="0.355" stop-color="#00ffc3"/><stop offset="0.381" stop-color="#00ffa5"/><stop offset="0.419" stop-color="#00fff5"/><stop offset="0.476" stop-color="#00ffe6"/><stop offset="0.500" stop-color="#00ffbe"/><stop offset="0.526" stop-color="#00ffa0"/><stop offset="0.562" stop-color="#00ff64"/><stop offset="0.604" stop-color="#00ff32"/><stop offset="0.648" stop-color="#2dff00"/><stop offset="0.675" stop-color="#3cff00"/><stop offset="0.703" stop-color="#19ff00"/><stop offset="0.732" stop-color="#00ff28"/><stop offset="0.762" stop-color="#00ff46"/><stop offset="0.804" stop-color="#00ff96"/><stop offset="0.837" stop-color="#00ffdc"/><stop offset="0.861" stop-color="#00ffff"/><stop offset="0.886" stop-color="#00cdff"/><stop offset="0.927" stop-color="#00a5ff"/><stop offset="0.967" stop-color="#006eff"/><stop offset="1.000" stop-color="#0032ff"/></linearGradient>
<rect x="72.0" y="329.00" width="121.05" height="4.00" fill="url(#c1s30)"/>
<linearGradient id="c1s31" gradientUnits="userSpaceOnUse" x1="78.00" y1="0" x2="201.02" y2="0"><stop offset="0.000" stop-color="#000000"/><stop offset="0.020" stop-color="#050008"/><stop offset="0.041" stop-color="#230032"/><stop offset="0.073" stop-color="#41005f"/><stop offset="0.106" stop-color="#580087"/><stop offset="0.139" stop-color="#6400be"/><stop offset="0.170" stop-color="#3c00eb"/><stop offset="0.181" stop-color="#0000ff"/><stop offset="0.203" stop-color="#0023ff"/><stop offset="0.220" stop-color="#005aff"/><stop offset="0.238" stop-color="#00b4ff"/><stop offset="0.260" stop-color="#00f5ff"/><stop offset="0.324" stop-color="#00ffe1"/><stop offset="0.355" stop-color="#00ffc3"/><stop offset="0.380" stop-color="#00ffa5"/><stop offset="0.419" stop-color="#00fff5"/><stop offset="0.475" stop-color="#00ffe6"/><stop offset="0.499" stop-color="#00ffbe"/><stop offset="0.525" stop-color="#00ffa0"/><stop offset="0.561" stop-color="#00ff64"/><stop offset="0.603" stop-color="#00ff32"/><stop offset="0.647" stop-color="#2dff00"/><stop offset="0.674" stop-color="#3cff00"/><stop offset="0.702" stop-color="#19ff00"/><stop offset="0.731" stop-color="#00ff28"/><stop offset="0.760" stop-color="#00ff46"/><stop offset="0.803" stop-color="#00ff96"/><stop offset="0.836" stop-color="#00ffdc"/><stop offset="0.860" stop-color="#00ffff"/><stop offset="0.885" stop-color="#00cdff"/><stop offset="0.927" stop-color="#00a5ff"/><stop offset="0.967" stop-color="#006eff"/><stop offset="1.000" stop-color="#0032ff"/></linearGradient>
<rect x="72.0" y="332.00" width="121.05" height="4.00" fill="url(#c1s31)"/>
<linearGradient id="c1s32" gradientUnits="userSpaceOnUse" x1="78.00" y1="0" x2="201.03" y2="0"><stop offset="0.000" stop-color="#000000"/><stop offset="0.020" stop-color="#050008"/><stop offset="0.041" stop-color="#230032"/><stop offset="0.073" stop-color="#41005f"/><stop offset="0.106" stop-color="#580087"/><stop offset="0.139" stop-color="#6400be"/><stop offset="0.169" stop-color="#3c00eb"/><stop offset="0.181" stop-color="#0000ff"/><stop offset="0.204" stop-color="#0023ff"/><stop offset="0.220" stop-color="#005aff"/><stop offset="0.238" stop-color="#00b4ff"/><stop offset="0.260" stop-color="#00f5ff"/><stop offset="0.324" stop-color="#00ffe1"/><stop offset="0.354" stop-color="#00ffc3"/><stop offset="0.379" stop-color="#00ffa5"/><stop offset="0.418" stop-color="#00fff5"/><stop offset="0.474" stop-color="#00ffe6"/><stop offset="0.499" stop-color="#00ffbe"/><stop offset="0.525" stop-color="#00ffa0"/><stop offset="0.560" stop-color="#00ff64"/><stop offset="0.602" stop-color="#00ff32"/><stop offset="0.646" stop-color="#2dff00"/><stop offset="0.673" stop-color="#3cff00"/><stop offset="0.701" stop-color="#19ff00"/><stop offset="0.730" stop-color="#00ff28"/><stop offset="0.759" stop-color="#00ff46"/><stop offset="0.802" stop-color="#00ff96"/><stop offset="0.835" stop-color="#00ffdc"/><stop offset="0.859" stop-color="#00ffff"/><stop offset="0.884" stop-color="#00cdff"/><stop offset="0.927" stop-color="#00a5ff"/><stop offset="0.967" stop-color="#006eff"/><stop offset="1.000" stop-color="#0032ff"/></linearGradient>
<rect x="72.0" y="335.00" width="121.05" height="4.00" fill="url(#c1s32)"/>
<linearGradient id="c1s33" gradientUnits="userSpaceOnUse" x1="78.00" y1="0" x2="201.05" y2="0"><stop offset="0.000" stop-color="#000000"/><stop offset="0.020" stop-color="#050008"/><stop offset="0.041" stop-color="#230032"/><stop offset="0.073" stop-color="#41005f"/><stop offset="0.106" stop-color="#580087"/><stop offset="0.138" stop-color="#6400be"/><stop offset="0.169" stop-color="#3c00eb"/><stop offset="0.181" stop-color="#0000ff"/><stop offset="0.204" stop-color="#0023ff"/><stop offset="0.220" stop-color="#005aff"/><stop offset="0.238" stop-color="#00b4ff"/><stop offset="0.260" stop-color="#00f5ff"/><stop offset="0.324" stop-color="#00ffe1"/><stop offset="0.353" stop-color="#00ffc3"/><stop offset="0.378" stop-color="#00ffa5"/><stop offset="0.418" stop-color="#00fff5"/><stop offset="0.473" stop-color="#00ffe6"/><stop offset="0.498" stop-color="#00ffbe"/><stop offset="0.524" stop-color="#00ffa0"/><stop offset="0.559" stop-color="#00ff64"/><stop offset="0.601" stop-color="#00ff32"/><stop offset="0.645" stop-color="#2dff00"/><stop offset="0.672" stop-color="#3cff00"/><stop offset="0.700" stop-color="#19ff00"/><stop offset="0.728" stop-color="#00ff28"/><stop offset="0.758" stop-color="#00ff46"/><stop offset="0.801" stop-color="#00ff96"/><stop offset="0.834" stop-color="#00ffdc"/><stop offset="0.858" stop-color="#00ffff"/><stop offset="0.883" stop-color="#00cdff"/><stop offset="0.926" stop-color="#00a5ff"/><stop offset="0.967" stop-color="#006eff"/><stop offset="1.000" stop-color="#0032ff"/></linearGradient>
<rect x="72.0" y="338.00" width="121.05" height="4.00" fill="url(#c1s33)"/>
<linearGradient id="c1s34" gradientUnits="userSpaceOnUse" x1="78.00" y1="0" x2="201.07" y2="0"><stop offset="0.000" stop-color="#000000"/><stop offset="0.020" stop-color="#050008"/><stop offset="0.041" stop-color="#230032"/><stop offset="0.073" stop-color="#41005f"/><stop offset="0.106" stop-color="#580087"/><stop offset="0.138" stop-color="#6400be"/><stop offset="0.169" stop-color="#3c00eb"/><stop offset="0.182" stop-color="#0000ff"/><stop offset="0.204" stop-color="#0023ff"/><stop offset="0.220" stop-color="#005aff"/><stop offset="0.238" stop-color="#00b4ff"/><stop offset="0.261" stop-color="#00f5ff"/><stop offset="0.324" stop-color="#00ffe1"/><stop offset="0.353" stop-color="#00ffc3"/><stop offset="0.378" stop-color="#00ffa5"/><stop offset="0.417" stop-color="#00fff5"/><stop offset="0.473" stop-color="#00ffe6"/><stop offset="0.497" stop-color="#00ffbe"/><stop offset="0.523" stop-color="#00ffa0"/><stop offset="0.557" stop-color="#00ff64"/><stop offset="0.600" stop-color="#00ff32"/><stop offset="0.644" stop-color="#2dff00"/><stop offset="0.671" stop-color="#3cff00"/><stop offset="0.698" stop-color="#19ff00"/><stop offset="0.727" stop-color="#00ff28"/><stop offset="0.757" stop-color="#00ff46"/><stop offset="0.800" stop-color="#00ff96"/><stop offset="0.833" stop-color="#00ffdc"/><stop offset="0.857" stop-color="#00ffff"/><stop offset="0.882" stop-color="#00cdff"/><stop offset="0.926" stop-color="#00a5ff"/><stop offset="0.967" stop-color="#006eff"/><stop offset="1.000" stop-color="#0032ff"/></linearGradient>
<rect x="72.0" y="341.00" width="121.05" height="4.00" fill="url(#c1s34)"/>
<linearGradient id="c1s35" gradientUnits="userSpaceOnUse" x1="78.00" y1="0" x2="201.09" y2="0"><stop offset="0.000" stop-color="#000000"/><stop offset="0.020" stop-color="#050008"/><stop offset="0.041" stop-color="#230032"/><stop offset="0.073" stop-color="#41005f"/><stop offset="0.106" stop-color="#580087"/><stop offset="0.137" stop-color="#6400be"/><stop offset="0.169" stop-color="#3c00eb"/><stop offset="0.182" stop-color="#0000ff"/><stop offset="0.204" stop-color="#0023ff"/><stop offset="0.220" stop-color="#005aff"/><stop offset="0.239" stop-color="#00b4ff"/><stop offset="0.261" stop-color="#00f5ff"/><stop offset="0.323" stop-color="#00ffe1"/><stop offset="0.352" stop-color="#00ffc3"/><stop offset="0.377" stop-color="#00ffa5"/><stop offset="0.417" stop-color="#00fff5"/><stop offset="0.472" stop-color="#00ffe6"/><stop offset="0.497" stop-color="#00ffbe"/><stop offset="0.522" stop-color="#00ffa0"/><stop offset="0.556" stop-color="#00ff64"/><stop offset="0.599" stop-color="#00ff32"/><stop offset="0.643" stop-color="#2dff00"/><stop offset="0.670" stop-color="#3cff00"/><stop offset="0.697" stop-color="#19ff00"/><stop offset="0.726" stop-color="#00ff28"/><stop offset="0.756" stop-color="#00ff46"/><stop offset="0.799" stop-color="#00ff96"/><stop offset="0.832" stop-color="#00ffdc"/><stop offset="0.856" stop-color="#00ffff"/><stop offset="0.881" stop-color="#00cdff"/><stop offset="0.926" stop-color="#00a5ff"/><stop offset="0.968" stop-color="#006eff"/><stop offset="1.000" stop-color="#0032ff"/></linearGradient>
<rect x="72.0" y="344.00" width="121.05" height="4.00" fill="url(#c1s35)"/>
<linearGradient id="c1s36" gradientUnits="userSpaceOnUse" x1="78.00" y1="0" x2="201.11" y2="0"><stop offset="0.000" stop-color="#000000"/><stop offset="0.020" stop-color="#050008"/><stop offset="0.041" stop-color="#230032"/><stop offset="0.073" stop-color="#41005f"/><stop offset="0.106" stop-color="#580087"/><stop offset="0.137" stop-color="#6400be"/><stop offset="0.169" stop-color="#3c00eb"/><stop offset="0.182" stop-color="#0000ff"/><stop offset="0.205" stop-color="#0023ff"/><stop offset="0.220" stop-color="#005aff"/><stop offset="0.239" stop-color="#00b4ff"/><stop offset="0.261" stop-color="#00f5ff"/><stop offset="0.323" stop-color="#00ffe1"/><stop offset="0.351" stop-color="#00ffc3"/><stop offset="0.376" stop-color="#00ffa5"/><stop offset="0.416" stop-color="#00fff5"/><stop offset="0.471" stop-color="#00ffe6"/><stop offset="0.496" stop-color="#00ffbe"/><stop offset="0.521" stop-color="#00ffa0"/><stop offset="0.555" stop-color="#00ff64"/><stop offset="0.598" stop-color="#00ff32"/><stop offset="0.642" stop-color="#2dff00"/><stop offset="0.668" stop-color="#3cff00"/><stop offset="0.696" stop-color="#19ff00"/><stop offset="0.725" stop-color="#00ff28"/><stop offset="0.755" stop-color="#00ff46"/><stop offset="0.798" stop-color="#00ff96"/><stop offset="0.831" stop-color="#00ffdc"/><stop offset="0.855" stop-color="#00ffff"/><stop offset="0.880" stop-color="#00cdff"/><stop offset="0.926" stop-color="#00a5ff"/><stop offset="0.968" stop-color="#006eff"/><stop offset="1.000" stop-color="#0032ff"/></linearGradient>
<rect x="72.0" y="347.00" width="121.05" height="4.00" fill="url(#c1s36)"/>
<linearGradient id="c1s37" gradientUnits="userSpaceOnUse" x1="78.00" y1="0" x2="201.13" y2="0"><stop offset="0.000" stop-color="#000000"/><stop offset="0.020" stop-color="#050008"/><stop offset="0.041" stop-color="#230032"/><stop offset="0.073" stop-color="#41005f"/><stop offset="0.106" stop-color="#580087"/><stop offset="0.136" stop-color="#6400be"/><stop offset="0.168" stop-color="#3c00eb"/><stop offset="0.182" stop-color="#0000ff"/><stop offset="0.205" stop-color="#0023ff"/><stop offset="0.220" stop-color="#005aff"/><stop offset="0.239" stop-color="#00b4ff"/><stop offset="0.261" stop-color="#00f5ff"/><stop offset="0.323" stop-color="#00ffe1"/><stop offset="0.350" stop-color="#00ffc3"/><stop offset="0.375" stop-color="#00ffa5"/><stop offset="0.416" stop-color="#00fff5"/><stop offset="0.470" stop-color="#00ffe6"/><stop offset="0.495" stop-color="#00ffbe"/><stop offset="0.521" stop-color="#00ffa0"/><stop offset="0.554" stop-color="#00ff64"/><stop offset="0.597" stop-color="#00ff32"/><stop offset="0.641" stop-color="#2dff00"/><stop offset="0.667" stop-color="#3cff00"/><stop offset="0.695" stop-color="#19ff00"/><stop offset="0.723" stop-color="#00ff28"/><stop offset="0.754" stop-color="#00ff46"/><stop offset="0.796" stop-color="#00ff96"/><stop offset="0.830" stop-color="#00ffdc"/><stop offset="0.854" stop-color="#00ffff"/><stop offset="0.879" stop-color="#00cdff"/><stop offset="0.926" stop-color="#00a5ff"/><stop offset="0.968" stop-color="#006eff"/><stop offset="1.000" stop-color="#0032ff"/></linearGradient>
<rect x="72.0" y="350.00" width="121.05" height="4.00" fill="url(#c1s37)"/>
<linearGradient id="c1s38" gradientUnits="userSpaceOnUse" x1="78.00" y1="0" x2="201.15" y2="0"><stop offset="0.000" stop-color="#000000"/><stop offset="0.020" stop-color="#050008"/><stop offset="0.041" stop-color="#230032"/><stop offset="0.073" stop-color="#41005f"/><stop offset="0.106" stop-color="#580087"/><stop offset="0.136" stop-color="#6400be"/><stop offset="0.168" stop-color="#3c00eb"/><stop offset="0.182" stop-color="#0000ff"/><stop offset="0.205" stop-color="#0023ff"/><stop offset="0.220" stop-color="#005aff"/><stop offset="0.239" stop-color="#00b4ff"/><stop offset="0.261" stop-color="#00f5ff"/><stop offset="0.323" stop-color="#00ffe1"/><stop offset="0.350" stop-color="#00ffc3"/><stop offset="0.375" stop-color="#00ffa5"/><stop offset="0.415" stop-color="#00fff5"/><stop offset="0.470" stop-color="#00ffe6"/><stop offset="0.494" stop-color="#00ffbe"/><stop offset="0.520" stop-color="#00ffa0"/><stop offset="0.553" stop-color="#00ff64"/><stop offset="0.596" stop-color="#00ff32"/><stop offset="0.640" stop-color="#2dff00"/><stop offset="0.666" stop-color="#3cff00"/><stop offset="0.694" stop-color="#19ff00"/><stop offset="0.722" stop-color="#00ff28"/><stop offset="0.752" stop-color="#00ff46"/><stop offset="0.795" stop-color="#00ff96"/><stop offset="0.829" stop-color="#00ffdc"/><stop offset="0.853" stop-color="#00ffff"/><stop offset="0.878" stop-color="#00cdff"/><stop offset="0.926" stop-color="#00a5ff"/><stop offset="0.968" stop-color="#006eff"/><stop offset="1.000" stop-color="#0032ff"/></linearGradient>
<rect x="72.0" y="353.00" width="121.05" height="4.00" fill="url(#c1s38)"/>
<linearGradient id="c1s39" gradientUnits="userSpaceOnUse" x1="78.00" y1="0" x2="201.17" y2="0"><stop offset="0.000" stop-color="#000000"/><stop offset="0.020" stop-color="#050008"/><stop offset="0.041" stop-color="#230032"/><stop offset="0.073" stop-color="#41005f"/><stop offset="0.106" stop-color="#580087"/><stop offset="0.136" stop-color="#6400be"/><stop offset="0.169" stop-color="#3c00eb"/><stop offset="0.183" stop-color="#0000ff"/><stop offset="0.205" stop-color="#0023ff"/><stop offset="0.219" stop-color="#005aff"/><stop offset="0.239" stop-color="#00b4ff"/><stop offset="0.261" stop-color="#00f5ff"/><stop offset="0.322" stop-color="#00ffe1"/><stop offset="0.348" stop-color="#00ffc3"/><stop offset="0.373" stop-color="#00ffa5"/><stop offset="0.414" stop-color="#00fff5"/><stop offset="0.468" stop-color="#00ffe6"/><stop offset="0.494" stop-color="#00ffbe"/><stop offset="0.519" stop-color="#00ffa0"/><stop offset="0.552" stop-color="#00ff64"/><stop offset="0.595" stop-color="#00ff32"/><stop offset="0.639" stop-color="#2dff00"/><stop offset="0.665" stop-color="#3cff00"/><stop offset="0.692" stop-color="#19ff00"/><stop offset="0.721" stop-color="#00ff28"/><stop offset="0.751" stop-color="#00ff46"/><stop offset="0.794" stop-color="#00ff96"/><stop offset="0.828" stop-color="#00ffdc"/><stop offset="0.852" stop-color="#00ffff"/><stop offset="0.877" stop-color="#00cdff"/><stop offset="0.926" stop-color="#00a5ff"/><stop offset="0.968" stop-color="#006eff"/><stop offset="1.000" stop-color="#0032ff"/></linearGradient>
<rect x="72.0" y="356.00" width="121.05" height="4.00" fill="url(#c1s39)"/>
<linearGradient id="c1s40" gradientUnits="userSpaceOnUse" x1="78.00" y1="0" x2="201.18" y2="0"><stop offset="0.000" stop-color="#000000"/><stop offset="0.020" stop-color="#050008"/><stop offset="0.041" stop-color="#230032"/><stop offset="0.073" stop-color="#41005f"/><stop offset="0.106" stop-color="#580087"/><stop offset="0.136" stop-color="#6400be"/><stop offset="0.169" stop-color="#3c00eb"/><stop offset="0.183" stop-color="#0000ff"/><stop offset="0.204" stop-color="#0023ff"/><stop offset="0.219" stop-color="#005aff"/><stop offset="0.239" stop-color="#00b4ff"/><stop offset="0.261" stop-color="#00f5ff"/><stop offset="0.321" stop-color="#00ffe1"/><stop offset="0.347" stop-color="#00ffc3"/><stop offset="0.372" stop-color="#00ffa5"/><stop offset="0.413" stop-color="#00fff5"/><stop offset="0.467" stop-color="#00ffe6"/><stop offset="0.493" stop-color="#00ffbe"/><stop offset="0.518" stop-color="#00ffa0"/><stop offset="0.550" stop-color="#00ff64"/><stop offset="0.594" stop-color="#00ff32"/><stop offset="0.637" stop-color="#2dff00"/><stop offset="0.663" stop-color="#3cff00"/><stop offset="0.690" stop-color="#19ff00"/><stop offset="0.719" stop-color="#00ff28"/><stop offset="0.750" stop-color="#00ff46"/><stop offset="0.793" stop-color="#00ff96"/><stop offset="0.827" stop-color="#00ffdc"/><stop offset="0.851" stop-color="#00ffff"/><stop offset="0.876" stop-color="#00cdff"/><stop offset="0.925" stop-color="#00a5ff"/><stop offset="0.968" stop-color="#006eff"/><stop offset="1.000" stop-color="#0032ff"/></linearGradient>
<rect x="72.0" y="359.00" width="121.05" height="4.00" fill="url(#c1s40)"/>
<linearGradient id="c1s41" gradientUnits="userSpaceOnUse" x1="78.00" y1="0" x2="201.20" y2="0"><stop offset="0.000" stop-color="#000000"/><stop offset="0.020" stop-color="#050008"/><stop offset="0.041" stop-color="#230032"/><stop offset="0.073" stop-color="#41005f"/><stop offset="0.106" stop-color="#580087"/><stop offset="0.137" stop-color="#6400be"/><stop offset="0.169" stop-color="#3c00eb"/><stop offset="0.183" stop-color="#0000ff"/><stop offset="0.204" stop-color="#0023ff"/><stop offset="0.218" stop-color="#005aff"/><stop offset="0.238" stop-color="#00b4ff"/><stop offset="0.261" stop-color="#00f5ff"/><stop offset="0.319" stop-color="#00ffe1"/><stop offset="0.345" stop-color="#00ffc3"/><stop offset="0.371" stop-color="#00ffa5"/><stop offset="0.412" stop-color="#00fff5"/><stop offset="0.466" stop-color="#00ffe6"/><stop offset="0.492" stop-color="#00ffbe"/><stop offset="0.517" stop-color="#00ffa0"/><stop offset="0.549" stop-color="#00ff64"/><stop offset="0.592" stop-color="#00ff32"/><stop offset="0.636" stop-color="#2dff00"/><stop offset="0.662" stop-color="#3cff00"/><stop offset="0.689" stop-color="#19ff00"/><stop offset="0.718" stop-color="#00ff28"/><stop offset="0.749" stop-color="#00ff46"/><stop offset="0.792" stop-color="#00ff96"/><stop offset="0.826" stop-color="#00ffdc"/><stop offset="0.850" stop-color="#00ffff"/><stop offset="0.874" stop-color="#00cdff"/><stop offset="0.925" stop-color="#00a5ff"/><stop offset="0.968" stop-color="#006eff"/><stop offset="1.000" stop-color="#0032ff"/></linearGradient>
<rect x="72.0" y="362.00" width="121.05" height="4.00" fill="url(#c1s41)"/>
<linearGradient id="c1s42" gradientUnits="userSpaceOnUse" x1="78.00" y1="0" x2="201.22" y2="0"><stop offset="0.000" stop-color="#000000"/><stop offset="0.020" stop-color="#050008"/><stop offset="0.041" stop-color="#230032"/><stop offset="0.073" stop-color="#41005f"/><stop offset="0.106" stop-color="#580087"/><stop offset="0.137" stop-color="#6400be"/><stop offset="0.170" stop-color="#3c00eb"/><stop offset="0.184" stop-color="#0000ff"/><stop offset="0.203" stop-color="#0023ff"/><stop offset="0.218" stop-color="#005aff"/><stop offset="0.238" stop-color="#00b4ff"/><stop offset="0.261" stop-color="#00f5ff"/><stop offset="0.318" stop-color="#00ffe1"/><stop offset="0.343" stop-color="#00ffc3"/><stop offset="0.369" stop-color="#00ffa5"/><stop offset="0.411" stop-color="#00fff5"/><stop offset="0.465" stop-color="#00ffe6"/><stop offset="0.491" stop-color="#00ffbe"/><stop offset="0.516" stop-color="#00ffa0"/><stop offset="0.548" stop-color="#00ff64"/><stop offset="0.591" stop-color="#00ff32"/><stop offset="0.635" stop-color="#2dff00"/><stop offset="0.660" stop-color="#3cff00"/><stop offset="0.687" stop-color="#19ff00"/><stop offset="0.716" stop-color="#00ff28"/><stop offset="0.748" stop-color="#00ff46"/><stop offset="0.791" stop-color="#00ff96"/><stop offset="0.825" stop-color="#00ffdc"/><stop offset="0.849" stop-color="#00ffff"/><stop offset="0.873" stop-color="#00cdff"/><stop offset="0.925" stop-color="#00a5ff"/><stop offset="0.968" stop-color="#006eff"/><stop offset="1.000" stop-color="#0032ff"/></linearGradient>
<rect x="72.0" y="365.00" width="121.05" height="4.00" fill="url(#c1s42)"/>
<linearGradient id="c1s43" gradientUnits="userSpaceOnUse" x1="78.00" y1="0" x2="201.24" y2="0"><stop offset="0.000" stop-color="#000000"/><stop offset="0.020" stop-color="#050008"/><stop offset="0.041" stop-color="#230032"/><stop offset="0.073" stop-color="#41005f"/><stop offset="0.105" stop-color="#580087"/><stop offset="0.138" stop-color="#6400be"/><stop offset="0.170" stop-color="#3c00eb"/><stop offset="0.184" stop-color="#0000ff"/><stop offset="0.203" stop-color="#0023ff"/><stop offset="0.217" stop-color="#005aff"/><stop offset="0.238" stop-color="#00b4ff"/><stop offset="0.261" stop-color="#00f5ff"/><stop offset="0.317" stop-color="#00ffe1"/><stop offset="0.342" stop-color="#00ffc3"/><stop offset="0.368" stop-color="#00ffa5"/><stop offset="0.410" stop-color="#00fff5"/><stop offset="0.464" stop-color="#00ffe6"/><stop offset="0.490" stop-color="#00ffbe"/><stop offset="0.515" stop-color="#00ffa0"/><stop offset="0.547" stop-color="#00ff64"/><stop offset="0.590" stop-color="#00ff32"/><stop offset="0.634" stop-color="#2dff00"/><stop offset="0.658" stop-color="#3cff00"/><stop offset="0.686" stop-color="#19ff00"/><stop offset="0.715" stop-color="#00ff28"/><stop offset="0.747" stop-color="#00ff46"/><stop offset="0.790" stop-color="#00ff96"/><stop offset="0.824" stop-color="#00ffdc"/><stop offset="0.848" stop-color="#00ffff"/><stop offset="0.872" stop-color="#00cdff"/><stop offset="0.925" stop-color="#00a5ff"/><stop offset="0.968" stop-color="#006eff"/><stop offset="1.000" stop-color="#0032ff"/></linearGradient>
<rect x="72.0" y="368.00" width="121.05" height="4.00" fill="url(#c1s43)"/>
<linearGradient id="c1s44" gradientUnits="userSpaceOnUse" x1="78.00" y1="0" x2="201.26" y2="0"><stop offset="0.000" stop-color="#000000"/><stop offset="0.020" stop-color="#050008"/><stop offset="0.041" stop-color="#230032"/><stop offset="0.073" stop-color="#41005f"/><stop offset="0.105" stop-color="#580087"/><stop offset="0.138" stop-color="#6400be"/><stop offset="0.170" stop-color="#3c00eb"/><stop offset="0.184" stop-color="#0000ff"/><stop offset="0.203" stop-color="#0023ff"/><stop offset="0.217" stop-color="#005aff"/><stop offset="0.238" stop-color="#00b4ff"/><stop offset="0.261" stop-color="#00f5ff"/><stop offset="0.316" stop-color="#00ffe1"/><stop offset="0.340" stop-color="#00ffc3"/><stop offset="0.367" stop-color="#00ffa5"/><stop offset="0.409" stop-color="#00fff5"/><stop offset="0.463" stop-color="#00ffe6"/><stop offset="0.489" stop-color="#00ffbe"/><stop offset="0.514" stop-color="#00ffa0"/><stop offset="0.546" stop-color="#00ff64"/><stop offset="0.589" stop-color="#00ff32"/><stop offset="0.632" stop-color="#2dff00"/><stop offset="0.657" stop-color="#3cff00"/><stop offset="0.684" stop-color="#19ff00"/><stop offset="0.714" stop-color="#00ff28"/><stop offset="0.745" stop-color="#00ff46"/><stop offset="0.789" stop-color="#00ff96"/><stop offset="0.823" stop-color="#00ffdc"/><stop offset="0.847" stop-color="#00ffff"/><stop offset="0.871" stop-color="#00cdff"/><stop offset="0.925" stop-color="#00a5ff"/><stop offset="0.968" stop-color="#006eff"/><stop offset="1.000" stop-color="#0032ff"/></linearGradient>
<rect x="72.0" y="371.00" width="121.05" height="4.00" fill="url(#c1s44)"/>
<linearGradient id="c1s45" gradientUnits="userSpaceOnUse" x1="78.00" y1="0" x2="201.28" y2="0"><stop offset="0.000" stop-color="#000000"/><stop offset="0.020" stop-color="#050008"/><stop offset="0.041" stop-color="#230032"/><stop offset="0.073" stop-color="#41005f"/><stop offset="0.105" stop-color="#580087"/><stop offset="0.139" stop-color="#6400be"/><stop offset="0.171" stop-color="#3c00eb"/><stop offset="0.185" stop-color="#0000ff"/><stop offset="0.202" stop-color="#0023ff"/><stop offset="0.216" stop-color="#005aff"/><stop offset="0.238" stop-color="#00b4ff"/><stop offset="0.262" stop-color="#00f5ff"/><stop offset="0.315" stop-color="#00ffe1"/><stop offset="0.339" stop-color="#00ffc3"/><stop offset="0.365" stop-color="#00ffa5"/><stop offset="0.409" stop-color="#00fff5"/><stop offset="0.462" stop-color="#00ffe6"/><stop offset="0.489" stop-color="#00ffbe"/><stop offset="0.513" stop-color="#00ffa0"/><stop offset="0.544" stop-color="#00ff64"/><stop offset="0.588" stop-color="#00ff32"/><stop offset="0.631" stop-color="#2dff00"/><stop offset="0.655" stop-color="#3cff00"/><stop offset="0.682" stop-color="#19ff00"/><stop offset="0.712" stop-color="#00ff28"/><stop offset="0.744" stop-color="#00ff46"/><stop offset="0.788" stop-color="#00ff96"/><stop offset="0.822" stop-color="#00ffdc"/><stop offset="0.846" stop-color="#00ffff"/><stop offset="0.870" stop-color="#00cdff"/><stop offset="0.925" stop-color="#00a5ff"/><stop offset="0.968" stop-color="#006eff"/><stop offset="1.000" stop-color="#0032ff"/></linearGradient>
<rect x="72.0" y="374.00" width="121.05" height="4.00" fill="url(#c1s45)"/>
<linearGradient id="c1s46" gradientUnits="userSpaceOnUse" x1="78.00" y1="0" x2="201.30" y2="0"><stop offset="0.000" stop-color="#000000"/><stop offset="0.020" stop-color="#050008"/><stop offset="0.041" stop-color="#230032"/><stop offset="0.073" stop-color="#41005f"/><stop offset="0.105" stop-color="#580087"/><stop offset="0.139" stop-color="#6400be"/><stop offset="0.171" stop-color="#3c00eb"/><stop offset="0.185" stop-color="#0000ff"/><stop offset="0.202" stop-color="#0023ff"/><stop offset="0.216" stop-color="#005aff"/><stop offset="0.237" stop-color="#00b4ff"/><stop offset="0.261" stop-color="#00f5ff"/><stop offset="0.313" stop-color="#00ffe1"/><stop offset="0.337" stop-color="#00ffc3"/><stop offset="0.364" stop-color="#00ffa5"/><stop offset="0.407" stop-color="#00fff5"/><stop offset="0.461" stop-color="#00ffe6"/><stop offset="0.487" stop-color="#00ffbe"/><stop offset="0.512" stop-color="#00ffa0"/><stop offset="0.543" stop-color="#00ff64"/><stop offset="0.586" stop-color="#00ff32"/><stop offset="0.630" stop-color="#2dff00"/><stop offset="0.654" stop-color="#3cff00"/><stop offset="0.681" stop-color="#19ff00"/><stop offset="0.711" stop-color="#00ff28"/><stop offset="0.743" stop-color="#00ff46"/><stop offset="0.787" stop-color="#00ff96"/><stop offset="0.820" stop-color="#00ffdc"/><stop offset="0.845" stop-color="#00ffff"/><stop offset="0.869" stop-color="#00cdff"/><stop offset="0.925" stop-color="#00a5ff"/><stop offset="0.968" stop-color="#006eff"/><stop offset="1.000" stop-color="#0032ff"/></linearGradient>
<rect x="72.0" y="377.00" width="121.05" height="4.00" fill="url(#c1s46)"/>
<linearGradient id="c1s47" gradientUnits="userSpaceOnUse" x1="78.00" y1="0" x2="201.32" y2="0"><stop offset="0.000" stop-color="#000000"/><stop offset="0.020" stop-color="#050008"/><stop offset="0.041" stop-color="#230032"/><stop offset="0.073" stop-color="#41005f"/><stop offset="0.105" stop-color="#580087"/><stop offset="0.140" stop-color="#6400be"/><stop offset="0.172" stop-color="#3c00eb"/><stop offset="0.186" stop-color="#0000ff"/><stop offset="0.202" stop-color="#0023ff"/><stop offset="0.215" stop-color="#005aff"/><stop offset="0.236" stop-color="#00b4ff"/><stop offset="0.260" stop-color="#00f5ff"/><stop offset="0.311" stop-color="#00ffe1"/><stop offset="0.335" stop-color="#00ffc3"/><stop offset="0.362" stop-color="#00ffa5"/><stop offset="0.406" stop-color="#00fff5"/><stop offset="0.459" stop-color="#00ffe6"/><stop offset="0.486" stop-color="#00ffbe"/><stop offset="0.510" stop-color="#00ffa0"/><stop offset="0.542" stop-color="#00ff64"/><stop offset="0.585" stop-color="#00ff32"/><stop offset="0.628" stop-color="#2dff00"/><stop offset="0.652" stop-color="#3cff00"/><stop offset="0.679" stop-color="#19ff00"/><stop offset="0.709" stop-color="#00ff28"/><stop offset="0.741" stop-color="#00ff46"/><stop offset="0.785" stop-color="#00ff96"/><stop offset="0.819" stop-color="#00ffdc"/><stop offset="0.843" stop-color="#00ffff"/><stop offset="0.868" stop-color="#00cdff"/><stop offset="0.924" stop-color="#00a5ff"/><stop offset="0.968" stop-color="#006eff"/><stop offset="1.000" stop-color="#0032ff"/></linearGradient>
<rect x="72.0" y="380.00" width="121.05" height="4.00" fill="url(#c1s47)"/>
<linearGradient id="c1s48" gradientUnits="userSpaceOnUse" x1="78.00" y1="0" x2="201.33" y2="0"><stop offset="0.000" stop-color="#000000"/><stop offset="0.020" stop-color="#050008"/><stop offset="0.041" stop-color="#230032"/><stop offset="0.073" stop-color="#41005f"/><stop offset="0.105" stop-color="#580087"/><stop offset="0.140" stop-color="#6400be"/><stop offset="0.172" stop-color="#3c00eb"/><stop offset="0.187" stop-color="#0000ff"/><stop offset="0.201" stop-color="#0023ff"/><stop offset="0.214" stop-color="#005aff"/><stop offset="0.235" stop-color="#00b4ff"/><stop offset="0.258" stop-color="#00f5ff"/><stop offset="0.308" stop-color="#00ffe1"/><stop offset="0.332" stop-color="#00ffc3"/><stop offset="0.360" stop-color="#00ffa5"/><stop offset="0.404" stop-color="#00fff5"/><stop offset="0.458" stop-color="#00ffe6"/><stop offset="0.484" stop-color="#00ffbe"/><stop offset="0.509" stop-color="#00ffa0"/><stop offset="0.540" stop-color="#00ff64"/><stop offset="0.583" stop-color="#00ff32"/><stop offset="0.626" stop-color="#2dff00"/><stop offset="0.650" stop-color="#3cff00"/><stop offset="0.677" stop-color="#19ff00"/><stop offset="0.708" stop-color="#00ff28"/><stop offset="0.740" stop-color="#00ff46"/><stop offset="0.784" stop-color="#00ff96"/><stop offset="0.818" stop-color="#00ffdc"/><stop offset="0.842" stop-color="#00ffff"/><stop offset="0.866" stop-color="#00cdff"/><stop offset="0.924" stop-color="#00a5ff"/><stop offset="0.968" stop-color="#006eff"/><stop offset="1.000" stop-color="#0032ff"/></linearGradient>
<rect x="72.0" y="383.00" width="121.05" height="4.00" fill="url(#c1s48)"/>
<linearGradient id="c1s49" gradientUnits="userSpaceOnUse" x1="78.00" y1="0" x2="201.35" y2="0"><stop offset="0.000" stop-color="#000000"/><stop offset="0.020" stop-color="#050008"/><stop offset="0.041" stop-color="#230032"/><stop offset="0.073" stop-color="#41005f"/><stop offset="0.105" stop-color="#580087"/><stop offset="0.141" stop-color="#6400be"/><stop offset="0.173" stop-color="#3c00eb"/><stop offset="0.187" stop-color="#0000ff"/><stop offset="0.201" stop-color="#0023ff"/><stop offset="0.214" stop-color="#005aff"/><stop offset="0.234" stop-color="#00b4ff"/><stop offset="0.257" stop-color="#00f5ff"/><stop offset="0.306" stop-color="#00ffe1"/><stop offset="0.330" stop-color="#00ffc3"/><stop offset="0.358" stop-color="#00ffa5"/><stop offset="0.402" stop-color="#00fff5"/><stop offset="0.456" stop-color="#00ffe6"/><stop offset="0.483" stop-color="#00ffbe"/><stop offset="0.507" stop-color="#00ffa0"/><stop offset="0.539" stop-color="#00ff64"/><stop offset="0.582" stop-color="#00ff32"/><stop offset="0.624" stop-color="#2dff00"/><stop offset="0.648" stop-color="#3cff00"/><stop offset="0.675" stop-color="#19ff00"/><stop offset="0.706" stop-color="#00ff28"/><stop offset="0.738" stop-color="#00ff46"/><stop offset="0.782" stop-color="#00ff96"/><stop offset="0.816" stop-color="#00ffdc"/><stop offset="0.840" stop-color="#00ffff"/><stop offset="0.865" stop-color="#00cdff"/><stop offset="0.924" stop-color="#00a5ff"/><stop offset="0.968" stop-color="#006eff"/><stop offset="1.000" stop-color="#0032ff"/></linearGradient>
<rect x="72.0" y="386.00" width="121.05" height="4.00" fill="url(#c1s49)"/>
<linearGradient id="c1s50" gradientUnits="userSpaceOnUse" x1="78.00" y1="0" x2="201.37" y2="0"><stop offset="0.000" stop-color="#000000"/><stop offset="0.020" stop-color="#050008"/><stop offset="0.041" stop-color="#230032"/><stop offset="0.073" stop-color="#41005f"/><stop offset="0.105" stop-color="#580087"/><stop offset="0.141" stop-color="#6400be"/><stop offset="0.173" stop-color="#3c00eb"/><stop offset="0.188" stop-color="#0000ff"/><stop offset="0.200" stop-color="#0023ff"/><stop offset="0.213" stop-color="#005aff"/><stop offset="0.233" stop-color="#00b4ff"/><stop offset="0.256" stop-color="#00f5ff"/><stop offset="0.303" stop-color="#00ffe1"/><stop offset="0.327" stop-color="#00ffc3"/><stop offset="0.356" stop-color="#00ffa5"/><stop offset="0.400" stop-color="#00fff5"/><stop offset="0.455" stop-color="#00ffe6"/><stop offset="0.481" stop-color="#00ffbe"/><stop offset="0.506" stop-color="#00ffa0"/><stop offset="0.537" stop-color="#00ff64"/><stop offset="0.580" stop-color="#00ff32"/><stop offset="0.623" stop-color="#2dff00"/><stop offset="0.646" stop-color="#3cff00"/><stop offset="0.674" stop-color="#19ff00"/><stop offset="0.705" stop-color="#00ff28"/><stop offset="0.737" stop-color="#00ff46"/><stop offset="0.781" stop-color="#00ff96"/><stop offset="0.815" stop-color="#00ffdc"/><stop offset="0.839" stop-color="#00ffff"/><stop offset="0.863" stop-color="#00cdff"/><stop offset="0.924" stop-color="#00a5ff"/><stop offset="0.968" stop-color="#006eff"/><stop offset="1.000" stop-color="#0032ff"/></linearGradient>
<rect x="72.0" y="389.00" width="121.05" height="4.00" fill="url(#c1s50)"/>
<linearGradient id="c1s51" gradientUnits="userSpaceOnUse" x1="78.00" y1="0" x2="201.39" y2="0"><stop offset="0.000" stop-color="#000000"/><stop offset="0.020" stop-color="#050008"/><stop offset="0.041" stop-color="#230032"/><stop offset="0.073" stop-color="#41005f"/><stop offset="0.105" stop-color="#580087"/><stop offset="0.142" stop-color="#6400be"/><stop offset="0.174" stop-color="#3c00eb"/><stop offset="0.188" stop-color="#0000ff"/><stop offset="0.200" stop-color="#0023ff"/><stop offset="0.212" stop-color="#005aff"/><stop offset="0.232" stop-color="#00b4ff"/><stop offset="0.254" stop-color="#00f5ff"/><stop offset="0.301" stop-color="#00ffe1"/><stop offset="0.325" stop-color="#00ffc3"/><stop offset="0.354" stop-color="#00ffa5"/><stop offset="0.399" stop-color="#00fff5"/><stop offset="0.453" stop-color="#00ffe6"/><stop offset="0.480" stop-color="#00ffbe"/><stop offset="0.504" stop-color="#00ffa0"/><stop offset="0.536" stop-color="#00ff64"/><stop offset="0.579" stop-color="#00ff32"/><stop offset="0.621" stop-color="#2dff00"/><stop offset="0.645" stop-color="#3cff00"/><stop offset="0.672" stop-color="#19ff00"/><stop offset="0.703" stop-color="#00ff28"/><stop offset="0.736" stop-color="#00ff46"/><stop offset="0.780" stop-color="#00ff96"/><stop offset="0.813" stop-color="#00ffdc"/><stop offset="0.838" stop-color="#00ffff"/><stop offset="0.862" stop-color="#00cdff"/><stop offset="0.924" stop-color="#00a5ff"/><stop offset="0.968" stop-color="#006eff"/><stop offset="1.000" stop-color="#0032ff"/></linearGradient>
<rect x="72.0" y="392.00" width="121.05" height="4.00" fill="url(#c1s51)"/>
<linearGradient id="c1s52" gradientUnits="userSpaceOnUse" x1="78.00" y1="0" x2="201.41" y2="0"><stop offset="0.000" stop-color="#000000"/><stop offset="0.020" stop-color="#050008"/><stop offset="0.041" stop-color="#230032"/><stop offset="0.073" stop-color="#41005f"/><stop offset="0.105" stop-color="#580087"/><stop offset="0.142" stop-color="#6400be"/><stop offset="0.175" stop-color="#3c00eb"/><stop offset="0.189" stop-color="#0000ff"/><stop offset="0.199" stop-color="#0023ff"/><stop offset="0.211" stop-color="#005aff"/><stop offset="0.230" stop-color="#00b4ff"/><stop offset="0.253" stop-color="#00f5ff"/><stop offset="0.299" stop-color="#00ffe1"/><stop offset="0.323" stop-color="#00ffc3"/><stop offset="0.352" stop-color="#00ffa5"/><stop offset="0.397" stop-color="#00fff5"/><stop offset="0.452" stop-color="#00ffe6"/><stop offset="0.478" stop-color="#00ffbe"/><stop offset="0.503" stop-color="#00ffa0"/><stop offset="0.534" stop-color="#00ff64"/><stop offset="0.577" stop-color="#00ff32"/><stop offset="0.619" stop-color="#2dff00"/><stop offset="0.643" stop-color="#3cff00"/><stop offset="0.670" stop-color="#19ff00"/><stop offset="0.702" stop-color="#00ff28"/><stop offset="0.734" stop-color="#00ff46"/><stop offset="0.778" stop-color="#00ff96"/><stop offset="0.812" stop-color="#00ffdc"/><stop offset="0.836" stop-color="#00ffff"/><stop offset="0.860" stop-color="#00cdff"/><stop offset="0.924" stop-color="#00a5ff"/><stop offset="0.968" stop-color="#006eff"/><stop offset="1.000" stop-color="#0032ff"/></linearGradient>
<rect x="72.0" y="395.00" width="121.05" height="4.00" fill="url(#c1s52)"/>
<linearGradient id="c1s53" gradientUnits="userSpaceOnUse" x1="78.00" y1="0" x2="201.43" y2="0"><stop offset="0.000" stop-color="#000000"/><stop offset="0.020" stop-color="#050008"/><stop offset="0.041" stop-color="#230032"/><stop offset="0.073" stop-color="#41005f"/><stop offset="0.105" stop-color="#580087"/><stop offset="0.143" stop-color="#6400be"/><stop offset="0.175" stop-color="#3c00eb"/><stop offset="0.190" stop-color="#0000ff"/><stop offset="0.199" stop-color="#0023ff"/><stop offset="0.211" stop-color="#005aff"/><stop offset="0.229" stop-color="#00b4ff"/><stop offset="0.251" stop-color="#00f5ff"/><stop offset="0.296" stop-color="#00ffe1"/><stop offset="0.320" stop-color="#00ffc3"/><stop offset="0.350" stop-color="#00ffa5"/><stop offset="0.395" stop-color="#00fff5"/><stop offset="0.451" stop-color="#00ffe6"/><stop offset="0.477" stop-color="#00ffbe"/><stop offset="0.501" stop-color="#00ffa0"/><stop offset="0.533" stop-color="#00ff64"/><stop offset="0.576" stop-color="#00ff32"/><stop offset="0.617" stop-color="#2dff00"/><stop offset="0.641" stop-color="#3cff00"/><stop offset="0.668" stop-color="#19ff00"/><stop offset="0.700" stop-color="#00ff28"/><stop offset="0.733" stop-color="#00ff46"/><stop offset="0.777" stop-color="#00ff96"/><stop offset="0.810" stop-color="#00ffdc"/><stop offset="0.835" stop-color="#00ffff"/><stop offset="0.859" stop-color="#00cdff"/><stop offset="0.924" stop-color="#00a5ff"/><stop offset="0.968" stop-color="#006eff"/><stop offset="1.000" stop-color="#0032ff"/></linearGradient>
<rect x="72.0" y="398.00" width="121.05" height="4.00" fill="url(#c1s53)"/>
<linearGradient id="c1s54" gradientUnits="userSpaceOnUse" x1="78.00" y1="0" x2="201.45" y2="0"><stop offset="0.000" stop-color="#000000"/><stop offset="0.020" stop-color="#050008"/><stop offset="0.041" stop-color="#230032"/><stop offset="0.073" stop-color="#41005f"/><stop offset="0.105" stop-color="#580087"/><stop offset="0.143" stop-color="#6400be"/><stop offset="0.175" stop-color="#3c00eb"/><stop offset="0.190" stop-color="#0000ff"/><stop offset="0.199" stop-color="#0023ff"/><stop offset="0.210" stop-color="#005aff"/><stop offset="0.228" stop-color="#00b4ff"/><stop offset="0.250" stop-color="#00f5ff"/><stop offset="0.294" stop-color="#00ffe1"/><stop offset="0.318" stop-color="#00ffc3"/><stop offset="0.348" stop-color="#00ffa5"/><stop offset="0.394" stop-color="#00fff5"/><stop offset="0.449" stop-color="#00ffe6"/><stop offset="0.475" stop-color="#00ffbe"/><stop offset="0.499" stop-color="#00ffa0"/><stop offset="0.531" stop-color="#00ff64"/><stop offset="0.574" stop-color="#00ff32"/><stop offset="0.616" stop-color="#2dff00"/><stop offset="0.639" stop-color="#3cff00"/><stop offset="0.667" stop-color="#19ff00"/><stop offset="0.699" stop-color="#00ff28"/><stop offset="0.731" stop-color="#00ff46"/><stop offset="0.775" stop-color="#00ff96"/><stop offset="0.809" stop-color="#00ffdc"/><stop offset="0.833" stop-color="#00ffff"/><stop offset="0.857" stop-color="#00cdff"/><stop offset="0.923" stop-color="#00a5ff"/><stop offset="0.968" stop-color="#006eff"/><stop offset="1.000" stop-color="#0032ff"/></linearGradient>
<rect x="72.0" y="401.00" width="121.05" height="4.00" fill="url(#c1s54)"/>
<linearGradient id="c1s55" gradientUnits="userSpaceOnUse" x1="78.00" y1="0" x2="201.47" y2="0"><stop offset="0.000" stop-color="#000000"/><stop offset="0.020" stop-color="#050008"/><stop offset="0.040" stop-color="#230032"/><stop offset="0.073" stop-color="#41005f"/><stop offset="0.105" stop-color="#580087"/><stop offset="0.143" stop-color="#6400be"/><stop offset="0.176" stop-color="#3c00eb"/><stop offset="0.191" stop-color="#0000ff"/><stop offset="0.199" stop-color="#0023ff"/><stop offset="0.210" stop-color="#005aff"/><stop offset="0.227" stop-color="#00b4ff"/><stop offset="0.248" stop-color="#00f5ff"/><stop offset="0.291" stop-color="#00ffe1"/><stop offset="0.315" stop-color="#00ffc3"/><stop offset="0.346" stop-color="#00ffa5"/><stop offset="0.392" stop-color="#00fff5"/><stop offset="0.447" stop-color="#00ffe6"/><stop offset="0.473" stop-color="#00ffbe"/><stop offset="0.498" stop-color="#00ffa0"/><stop offset="0.529" stop-color="#00ff64"/><stop offset="0.572" stop-color="#00ff32"/><stop offset="0.614" stop-color="#2dff00"/><stop offset="0.638" stop-color="#3cff00"/><stop offset="0.665" stop-color="#19ff00"/><stop offset="0.697" stop-color="#00ff28"/><stop offset="0.730" stop-color="#00ff46"/><stop offset="0.774" stop-color="#00ff96"/><stop offset="0.807" stop-color="#00ffdc"/><stop offset="0.831" stop-color="#00ffff"/><stop offset="0.856" stop-color="#00cdff"/><stop offset="0.923" stop-color="#00a5ff"/><stop offset="0.968" stop-color="#006eff"/><stop offset="1.000" stop-color="#0032ff"/></linearGradient>
<rect x="72.0" y="404.00" width="121.05" height="4.00" fill="url(#c1s55)"/>
<linearGradient id="c1s56" gradientUnits="userSpaceOnUse" x1="78.00" y1="0" x2="201.48" y2="0"><stop offset="0.000" stop-color="#000000"/><stop offset="0.020" stop-color="#050008"/><stop offset="0.040" stop-color="#230032"/><stop offset="0.073" stop-color="#41005f"/><stop offset="0.105" stop-color="#580087"/><stop offset="0.143" stop-color="#6400be"/><stop offset="0.176" stop-color="#3c00eb"/><stop offset="0.191" stop-color="#0000ff"/><stop offset="0.199" stop-color="#0023ff"/><stop offset="0.210" stop-color="#005aff"/><stop offset="0.225" stop-color="#00b4ff"/><stop offset="0.246" stop-color="#00f5ff"/><stop offset="0.289" stop-color="#00ffe1"/><stop offset="0.313" stop-color="#00ffc3"/><stop offset="0.344" stop-color="#00ffa5"/><stop offset="0.390" stop-color="#00fff5"/><stop offset="0.446" stop-color="#00ffe6"/><stop offset="0.472" stop-color="#00ffbe"/><stop offset="0.496" stop-color="#00ffa0"/><stop offset="0.528" stop-color="#00ff64"/><stop offset="0.571" stop-color="#00ff32"/><stop offset="0.612" stop-color="#2dff00"/><stop offset="0.636" stop-color="#3cff00"/><stop offset="0.663" stop-color="#19ff00"/><stop offset="0.696" stop-color="#00ff28"/><stop offset="0.728" stop-color="#00ff46"/><stop offset="0.772" stop-color="#00ff96"/><stop offset="0.805" stop-color="#00ffdc"/><stop offset="0.830" stop-color="#00ffff"/><stop offset="0.854" stop-color="#00cdff"/><stop offset="0.923" stop-color="#00a5ff"/><stop offset="0.968" stop-color="#006eff"/><stop offset="1.000" stop-color="#0032ff"/></linearGradient>
<rect x="72.0" y="407.00" width="121.05" height="4.00" fill="url(#c1s56)"/>
<linearGradient id="c1s57" gradientUnits="userSpaceOnUse" x1="78.00" y1="0" x2="201.50" y2="0"><stop offset="0.000" stop-color="#000000"/><stop offset="0.020" stop-color="#050008"/><stop offset="0.040" stop-color="#230032"/><stop offset="0.073" stop-color="#41005f"/><stop offset="0.105" stop-color="#580087"/><stop offset="0.143" stop-color="#6400be"/><stop offset="0.177" stop-color="#3c00eb"/><stop offset="0.192" stop-color="#0000ff"/><stop offset="0.198" stop-color="#0023ff"/><stop offset="0.209" stop-color="#005aff"/><stop offset="0.224" stop-color="#00b4ff"/><stop offset="0.244" stop-color="#00f5ff"/><stop offset="0.287" stop-color="#00ffe1"/><stop offset="0.311" stop-color="#00ffc3"/><stop offset="0.342" stop-color="#00ffa5"/><stop offset="0.388" stop-color="#00fff5"/><stop offset="0.444" stop-color="#00ffe6"/><stop offset="0.470" stop-color="#00ffbe"/><stop offset="0.494" stop-color="#00ffa0"/><stop offset="0.526" stop-color="#00ff64"/><stop offset="0.569" stop-color="#00ff32"/><stop offset="0.610" stop-color="#2dff00"/><stop offset="0.634" stop-color="#3cff00"/><stop offset="0.662" stop-color="#19ff00"/><stop offset="0.694" stop-color="#00ff28"/><stop offset="0.726" stop-color="#00ff46"/><stop offset="0.771" stop-color="#00ff96"/><stop offset="0.804" stop-color="#00ffdc"/><stop offset="0.828" stop-color="#00ffff"/><stop offset="0.852" stop-color="#00cdff"/><stop offset="0.923" stop-color="#00a5ff"/><stop offset="0.968" stop-color="#006eff"/><stop offset="1.000" stop-color="#0032ff"/></linearGradient>
<rect x="72.0" y="410.00" width="121.05" height="4.00" fill="url(#c1s57)"/>
<linearGradient id="c1s58" gradientUnits="userSpaceOnUse" x1="78.00" y1="0" x2="201.52" y2="0"><stop offset="0.000" stop-color="#000000"/><stop offset="0.020" stop-color="#050008"/><stop offset="0.040" stop-color="#230032"/><stop offset="0.073" stop-color="#41005f"/><stop offset="0.105" stop-color="#580087"/><stop offset="0.143" stop-color="#6400be"/><stop offset="0.177" stop-color="#3c00eb"/><stop offset="0.193" stop-color="#0000ff"/><stop offset="0.198" stop-color="#0023ff"/><stop offset="0.209" stop-color="#005aff"/><stop offset="0.223" stop-color="#00b4ff"/><stop offset="0.242" stop-color="#00f5ff"/><stop offset="0.284" stop-color="#00ffe1"/><stop offset="0.308" stop-color="#00ffc3"/><stop offset="0.340" stop-color="#00ffa5"/><stop offset="0.386" stop-color="#00fff5"/><stop offset="0.443" stop-color="#00ffe6"/><stop offset="0.468" stop-color="#00ffbe"/><stop offset="0.492" stop-color="#00ffa0"/><stop offset="0.524" stop-color="#00ff64"/><stop offset="0.567" stop-color="#00ff32"/><stop offset="0.608" stop-color="#2dff00"/><stop offset="0.632" stop-color="#3cff00"/><stop offset="0.660" stop-color="#19ff00"/><stop offset="0.692" stop-color="#00ff28"/><stop offset="0.725" stop-color="#00ff46"/><stop offset="0.769" stop-color="#00ff96"/><stop offset="0.802" stop-color="#00ffdc"/><stop offset="0.826" stop-color="#00ffff"/><stop offset="0.851" stop-color="#00cdff"/><stop offset="0.923" stop-color="#00a5ff"/><stop offset="0.968" stop-color="#006eff"/><stop offset="1.000" stop-color="#0032ff"/></linearGradient>
<rect x="72.0" y="413.00" width="121.05" height="4.00" fill="url(#c1s58)"/>
<linearGradient id="c1s59" gradientUnits="userSpaceOnUse" x1="78.00" y1="0" x2="201.54" y2="0"><stop offset="0.000" stop-color="#000000"/><stop offset="0.020" stop-color="#050008"/><stop offset="0.040" stop-color="#230032"/><stop offset="0.073" stop-color="#41005f"/><stop offset="0.105" stop-color="#580087"/><stop offset="0.143" stop-color="#6400be"/><stop offset="0.177" stop-color="#3c00eb"/><stop offset="0.193" stop-color="#0000ff"/><stop offset="0.198" stop-color="#0023ff"/><stop offset="0.208" stop-color="#005aff"/><stop offset="0.221" stop-color="#00b4ff"/><stop offset="0.240" stop-color="#00f5ff"/><stop offset="0.282" stop-color="#00ffe1"/><stop offset="0.306" stop-color="#00ffc3"/><stop offset="0.338" stop-color="#00ffa5"/><stop offset="0.384" stop-color="#00fff5"/><stop offset="0.441" stop-color="#00ffe6"/><stop offset="0.466" stop-color="#00ffbe"/><stop offset="0.491" stop-color="#00ffa0"/><stop offset="0.523" stop-color="#00ff64"/><stop offset="0.566" stop-color="#00ff32"/><stop offset="0.607" stop-color="#2dff00"/><stop offset="0.631" stop-color="#3cff00"/><stop offset="0.659" stop-color="#19ff00"/><stop offset="0.691" stop-color="#00ff28"/><stop offset="0.723" stop-color="#00ff46"/><stop offset="0.768" stop-color="#00ff96"/><stop offset="0.801" stop-color="#00ffdc"/><stop offset="0.825" stop-color="#00ffff"/><stop offset="0.849" stop-color="#00cdff"/><stop offset="0.923" stop-color="#00a5ff"/><stop offset="0.968" stop-color="#006eff"/><stop offset="1.000" stop-color="#0032ff"/></linearGradient>
<rect x="72.0" y="416.00" width="121.05" height="4.00" fill="url(#c1s59)"/>
<linearGradient id="c1s60" gradientUnits="userSpaceOnUse" x1="78.00" y1="0" x2="201.56" y2="0"><stop offset="0.000" stop-color="#000000"/><stop offset="0.020" stop-color="#050008"/><stop offset="0.040" stop-color="#230032"/><stop offset="0.073" stop-color="#41005f"/><stop offset="0.105" stop-color="#580087"/><stop offset="0.143" stop-color="#6400be"/><stop offset="0.178" stop-color="#3c00eb"/><stop offset="0.194" stop-color="#0000ff"/><stop offset="0.198" stop-color="#0023ff"/><stop offset="0.208" stop-color="#005aff"/><stop offset="0.220" stop-color="#00b4ff"/><stop offset="0.238" stop-color="#00f5ff"/><stop offset="0.279" stop-color="#00ffe1"/><stop offset="0.304" stop-color="#00ffc3"/><stop offset="0.335" stop-color="#00ffa5"/><stop offset="0.383" stop-color="#00fff5"/><stop offset="0.440" stop-color="#00ffe6"/><stop offset="0.465" stop-color="#00ffbe"/><stop offset="0.489" stop-color="#00ffa0"/><stop offset="0.521" stop-color="#00ff64"/><stop offset="0.564" stop-color="#00ff32"/><stop offset="0.605" stop-color="#2dff00"/><stop offset="0.629" stop-color="#3cff00"/><stop offset="0.657" stop-color="#19ff00"/><stop offset="0.689" stop-color="#00ff28"/><stop offset="0.722" stop-color="#00ff46"/><stop offset="0.766" stop-color="#00ff96"/><stop offset="0.799" stop-color="#00ffdc"/><stop offset="0.823" stop-color="#00ffff"/><stop offset="0.847" stop-color="#00cdff"/><stop offset="0.923" stop-color="#00a5ff"/><stop offset="0.968" stop-color="#006eff"/><stop offset="1.000" stop-color="#0032ff"/></linearGradient>
<rect x="72.0" y="419.00" width="121.05" height="4.00" fill="url(#c1s60)"/>
</g>
<g filter="url(#sblur)">
<clipPath id="c1b0"><rect x="106" y="239.2" width="16" height="182.80"/></clipPath>
<path clip-path="url(#c1b0)" d="M106.00,237.20L85.45,424.00M115.00,237.20L94.45,424.00M124.00,237.20L103.45,424.00M133.00,237.20L112.45,424.00M142.00,237.20L121.45,424.00M151.00,237.20L130.45,424.00" stroke="rgb(60,255,255)" stroke-opacity="0.5" stroke-width="2.2" fill="none"/>
<clipPath id="c1b1"><rect x="122" y="239.2" width="24" height="182.80"/></clipPath>
<path clip-path="url(#c1b1)" d="M125.10,237.20L104.55,424.00M134.10,237.20L113.55,424.00M143.10,237.20L122.55,424.00M152.10,237.20L131.55,424.00M161.10,237.20L140.55,424.00M170.10,237.20L149.55,424.00" stroke="rgb(0,255,255)" stroke-opacity="0.4" stroke-width="2.2" fill="none"/>
<clipPath id="c1b2"><rect x="146" y="239.2" width="26" height="182.80"/></clipPath>
<path clip-path="url(#c1b2)" d="M152.20,237.20L131.65,424.00M161.20,237.20L140.65,424.00M170.20,237.20L149.65,424.00M179.20,237.20L158.65,424.00M188.20,237.20L167.65,424.00M197.20,237.20L176.65,424.00" stroke="rgb(130,255,0)" stroke-opacity="0.45" stroke-width="2.2" fill="none"/>
<clipPath id="c1b3"><rect x="172" y="239.2" width="14" height="182.80"/></clipPath>
<path clip-path="url(#c1b3)" d="M172.30,237.20L151.75,424.00M181.30,237.20L160.75,424.00M190.30,237.20L169.75,424.00M199.30,237.20L178.75,424.00M208.30,237.20L187.75,424.00" stroke="rgb(0,255,255)" stroke-opacity="0.35" stroke-width="2.2" fill="none"/>
<clipPath id="c1b4"><rect x="220" y="239.2" width="26" height="182.80"/></clipPath>
<path clip-path="url(#c1b4)" d="M223.40,237.20L202.85,424.00M232.40,237.20L211.85,424.00M241.40,237.20L220.85,424.00M250.40,237.20L229.85,424.00M259.40,237.20L238.85,424.00M268.40,237.20L247.85,424.00" stroke="rgb(80,255,0)" stroke-opacity="0.3" stroke-width="2.2" fill="none"/>
<path d="M189.0,250.0L208.0,405.0" stroke="rgb(0,130,255)" stroke-opacity="0.45" stroke-width="3" fill="none"/>
<path d="M197.0,240.0L214.0,380.0" stroke="rgb(0,130,255)" stroke-opacity="0.45" stroke-width="3" fill="none"/>
</g>
</g>
<rect x="78.00" y="239.20" width="182.50" height="182.80" fill="none" stroke="#000" stroke-width="1" stroke-opacity="0.55"/>
<path d="M100.76,422.00V413.20M100.76,239.20V248.00M127.39,422.00V413.20M127.39,239.20V248.00M154.01,422.00V413.20M154.01,239.20V248.00M180.63,422.00V413.20M180.63,239.20V248.00M207.25,422.00V413.20M207.25,239.20V248.00M233.88,422.00V413.20M233.88,239.20V248.00M260.50,422.00V413.20M260.50,239.20V248.00" stroke="#000" stroke-width="1" stroke-opacity="0.6" fill="none"/>
<path d="M80.80,422.00V417.60M80.80,239.20V243.60M87.45,422.00V417.60M87.45,239.20V243.60M94.11,422.00V417.60M94.11,239.20V243.60M107.42,422.00V417.60M107.42,239.20V243.60M114.07,422.00V417.60M114.07,239.20V243.60M120.73,422.00V417.60M120.73,239.20V243.60M134.04,422.00V417.60M134.04,239.20V243.60M140.70,422.00V417.60M140.70,239.20V243.60M147.35,422.00V417.60M147.35,239.20V243.60M160.66,422.00V417.60M160.66,239.20V243.60M167.32,422.00V417.60M167.32,239.20V243.60M173.98,422.00V417.60M173.98,239.20V243.60M187.29,422.00V417.60M187.29,239.20V243.60M193.94,422.00V417.60M193.94,239.20V243.60M200.60,422.00V417.60M200.60,239.20V243.60M213.91,422.00V417.60M213.91,239.20V243.60M220.57,422.00V417.60M220.57,239.20V243.60M227.22,422.00V417.60M227.22,239.20V243.60M240.53,422.00V417.60M240.53,239.20V243.60M247.19,422.00V417.60M247.19,239.20V243.60M253.84,422.00V417.60M253.84,239.20V243.60" stroke="#000" stroke-width="1" stroke-opacity="0.6" fill="none"/>
<path d="M78.00,417.88H86.80M260.50,417.88H251.70M78.00,388.79H86.80M260.50,388.79H251.70M78.00,359.69H86.80M260.50,359.69H251.70M78.00,330.60H86.80M260.50,330.60H251.70M78.00,301.51H86.80M260.50,301.51H251.70M78.00,272.41H86.80M260.50,272.41H251.70M78.00,243.32H86.80M260.50,243.32H251.70" stroke="#000" stroke-width="1" stroke-opacity="0.5" fill="none"/>
<path d="M78.00,420.79H82.40M260.50,420.79H256.10M78.00,414.97H82.40M260.50,414.97H256.10M78.00,412.06H82.40M260.50,412.06H256.10M78.00,409.15H82.40M260.50,409.15H256.10M78.00,406.24H82.40M260.50,406.24H256.10M78.00,403.33H82.40M260.50,403.33H256.10M78.00,400.42H82.40M260.50,400.42H256.10M78.00,397.52H82.40M260.50,397.52H256.10M78.00,394.61H82.40M260.50,394.61H256.10M78.00,391.70H82.40M260.50,391.70H256.10M78.00,385.88H82.40M260.50,385.88H256.10M78.00,382.97H82.40M260.50,382.97H256.10M78.00,380.06H82.40M260.50,380.06H256.10M78.00,377.15H82.40M260.50,377.15H256.10M78.00,374.24H82.40M260.50,374.24H256.10M78.00,371.33H82.40M260.50,371.33H256.10M78.00,368.42H82.40M260.50,368.42H256.10M78.00,365.51H82.40M260.50,365.51H256.10M78.00,362.60H82.40M260.50,362.60H256.10M78.00,356.78H82.40M260.50,356.78H256.10M78.00,353.87H82.40M260.50,353.87H256.10M78.00,350.97H82.40M260.50,350.97H256.10M78.00,348.06H82.40M260.50,348.06H256.10M78.00,345.15H82.40M260.50,345.15H256.10M78.00,342.24H82.40M260.50,342.24H256.10M78.00,339.33H82.40M260.50,339.33H256.10M78.00,336.42H82.40M260.50,336.42H256.10M78.00,333.51H82.40M260.50,333.51H256.10M78.00,327.69H82.40M260.50,327.69H256.10M78.00,324.78H82.40M260.50,324.78H256.10M78.00,321.87H82.40M260.50,321.87H256.10M78.00,318.96H82.40M260.50,318.96H256.10M78.00,316.05H82.40M260.50,316.05H256.10M78.00,313.14H82.40M260.50,313.14H256.10M78.00,310.23H82.40M260.50,310.23H256.10M78.00,307.33H82.40M260.50,307.33H256.10M78.00,304.42H82.40M260.50,304.42H256.10M78.00,298.60H82.40M260.50,298.60H256.10M78.00,295.69H82.40M260.50,295.69H256.10M78.00,292.78H82.40M260.50,292.78H256.10M78.00,289.87H82.40M260.50,289.87H256.10M78.00,286.96H82.40M260.50,286.96H256.10M78.00,284.05H82.40M260.50,284.05H256.10M78.00,281.14H82.40M260.50,281.14H256.10M78.00,278.23H82.40M260.50,278.23H256.10M78.00,275.32H82.40M260.50,275.32H256.10M78.00,269.50H82.40M260.50,269.50H256.10M78.00,266.59H82.40M260.50,266.59H256.10M78.00,263.68H82.40M260.50,263.68H256.10M78.00,260.78H82.40M260.50,260.78H256.10M78.00,257.87H82.40M260.50,257.87H256.10M78.00,254.96H82.40M260.50,254.96H256.10M78.00,252.05H82.40M260.50,252.05H256.10M78.00,249.14H82.40M260.50,249.14H256.10M78.00,246.23H82.40M260.50,246.23H256.10M78.00,240.41H82.40M260.50,240.41H256.10" stroke="#000" stroke-width="1" stroke-opacity="0.5" fill="none"/>
<g clip-path="url(#c2)">
<g transform="translate(0 330.60) skewX(-0.000) translate(0 -330.60)">
<linearGradient id="c2r" gradientUnits="userSpaceOnUse" x1="333.31" y1="0" x2="472.20" y2="0"><stop offset="0.0000" stop-color="#00ffc8"/><stop offset="0.0295" stop-color="#00ff78"/><stop offset="0.0513" stop-color="#00ff5a"/><stop offset="0.0779" stop-color="#00ffaa"/><stop offset="0.1130" stop-color="#00ff96"/><stop offset="0.1418" stop-color="#00ff8c"/><stop offset="0.1850" stop-color="#00ff64"/><stop offset="0.2210" stop-color="#00ff37"/><stop offset="0.2462" stop-color="#00ff19"/><stop offset="0.2714" stop-color="#28ff00"/><stop offset="0.3002" stop-color="#41ff00"/><stop offset="0.3290" stop-color="#1eff00"/><stop offset="0.3578" stop-color="#00ff3c"/><stop offset="0.3866" stop-color="#00ff8c"/><stop offset="0.4118" stop-color="#00ffd2"/><stop offset="0.4370" stop-color="#00ffff"/><stop offset="0.4586" stop-color="#00cdff"/><stop offset="0.4874" stop-color="#00a5ff"/><stop offset="0.5126" stop-color="#0078ff"/><stop offset="0.5378" stop-color="#0037ff"/><stop offset="0.5810" stop-color="#0019ff"/><stop offset="0.6386" stop-color="#001eff"/><stop offset="0.6638" stop-color="#006eff"/><stop offset="0.6818" stop-color="#00c8ff"/><stop offset="0.6962" stop-color="#00ffff"/><stop offset="0.7142" stop-color="#00ffc8"/><stop offset="0.7322" stop-color="#00ff78"/><stop offset="0.7538" stop-color="#00ff32"/><stop offset="0.7790" stop-color="#00ff0a"/><stop offset="0.8042" stop-color="#00ff05"/><stop offset="0.8330" stop-color="#00ff28"/><stop offset="0.8582" stop-color="#00ff82"/><stop offset="0.8762" stop-color="#00ffd2"/><stop offset="0.8906" stop-color="#00ebff"/><stop offset="0.9050" stop-color="#008cff"/><stop offset="0.9230" stop-color="#0032ff"/><stop offset="0.9374" stop-color="#2d00eb"/><stop offset="0.9554" stop-color="#5a00c8"/><stop offset="0.9770" stop-color="#6400aa"/><stop offset="1.0000" stop-color="#5a0096"/></linearGradient>
<g transform="translate(0 330.60) skewX(-1.718) translate(0 -330.60)"><rect x="344.30" y="236.20" width="135.90" height="188.80" fill="url(#c2r)"/></g>
<linearGradient id="c2s0" gradientUnits="userSpaceOnUse" x1="289.70" y1="0" x2="360.10" y2="0"><stop offset="0.000" stop-color="#000000"/><stop offset="0.047" stop-color="#08000c"/><stop offset="0.089" stop-color="#280037"/><stop offset="0.146" stop-color="#460069"/><stop offset="0.201" stop-color="#5f0096"/><stop offset="0.253" stop-color="#5f00c8"/><stop offset="0.300" stop-color="#3200f0"/><stop offset="0.335" stop-color="#0000ff"/><stop offset="0.392" stop-color="#003cff"/><stop offset="0.439" stop-color="#008cff"/><stop offset="0.469" stop-color="#00beff"/><stop offset="0.506" stop-color="#00f0ff"/><stop offset="0.626" stop-color="#00fff0"/><stop offset="0.676" stop-color="#00ffc8"/><stop offset="0.734" stop-color="#00ff78"/><stop offset="0.770" stop-color="#00ff5a"/><stop offset="0.818" stop-color="#00ffaa"/><stop offset="0.858" stop-color="#00ff96"/><stop offset="0.915" stop-color="#00ff5a"/><stop offset="1.000" stop-color="#00ff64"/></linearGradient>
<rect x="283.7" y="239.00" width="64.60" height="4.00" fill="url(#c2s0)"/>
<linearGradient id="c2s1" gradientUnits="userSpaceOnUse" x1="289.70" y1="0" x2="360.07" y2="0"><stop offset="0.000" stop-color="#000000"/><stop offset="0.047" stop-color="#08000c"/><stop offset="0.090" stop-color="#280037"/><stop offset="0.146" stop-color="#460069"/><stop offset="0.202" stop-color="#5f0096"/><stop offset="0.254" stop-color="#5f00c8"/><stop offset="0.300" stop-color="#3200f0"/><stop offset="0.335" stop-color="#0000ff"/><stop offset="0.391" stop-color="#003cff"/><stop offset="0.439" stop-color="#008cff"/><stop offset="0.470" stop-color="#00beff"/><stop offset="0.507" stop-color="#00f0ff"/><stop offset="0.624" stop-color="#00fff0"/><stop offset="0.673" stop-color="#00ffc8"/><stop offset="0.732" stop-color="#00ff78"/><stop offset="0.769" stop-color="#00ff5a"/><stop offset="0.818" stop-color="#00ffaa"/><stop offset="0.858" stop-color="#00ff96"/><stop offset="0.915" stop-color="#00ff5a"/><stop offset="1.000" stop-color="#00ff64"/></linearGradient>
<rect x="283.7" y="242.00" width="64.60" height="4.00" fill="url(#c2s1)"/>
<linearGradient id="c2s2" gradientUnits="userSpaceOnUse" x1="289.70" y1="0" x2="360.03" y2="0"><stop offset="0.000" stop-color="#000000"/><stop offset="0.047" stop-color="#08000c"/><stop offset="0.090" stop-color="#280037"/><stop offset="0.146" stop-color="#460069"/><stop offset="0.202" stop-color="#5f0096"/><stop offset="0.254" stop-color="#5f00c8"/><stop offset="0.300" stop-color="#3200f0"/><stop offset="0.335" stop-color="#0000ff"/><stop offset="0.391" stop-color="#003cff"/><stop offset="0.439" stop-color="#008cff"/><stop offset="0.470" stop-color="#00beff"/><stop offset="0.508" stop-color="#00f0ff"/><stop offset="0.622" stop-color="#00fff0"/><stop offset="0.670" stop-color="#00ffc8"/><stop offset="0.730" stop-color="#00ff78"/><stop offset="0.767" stop-color="#00ff5a"/><stop offset="0.817" stop-color="#00ffaa"/><stop offset="0.858" stop-color="#00ff96"/><stop offset="0.915" stop-color="#00ff5a"/><stop offset="1.000" stop-color="#00ff64"/></linearGradient>
<rect x="283.7" y="245.00" width="64.60" height="4.00" fill="url(#c2s2)"/>
<linearGradient id="c2s3" gradientUnits="userSpaceOnUse" x1="289.70" y1="0" x2="359.99" y2="0"><stop offset="0.000" stop-color="#000000"/><stop offset="0.047" stop-color="#08000c"/><stop offset="0.090" stop-color="#280037"/><stop offset="0.147" stop-color="#460069"/><stop offset="0.203" stop-color="#5f0096"/><stop offset="0.255" stop-color="#5f00c8"/><stop offset="0.300" stop-color="#3200f0"/><stop offset="0.334" stop-color="#0000ff"/><stop offset="0.390" stop-color="#003cff"/><stop offset="0.438" stop-color="#008cff"/><stop offset="0.470" stop-color="#00beff"/><stop offset="0.509" stop-color="#00f0ff"/><stop offset="0.619" stop-color="#00fff0"/><stop offset="0.668" stop-color="#00ffc8"/><stop offset="0.728" stop-color="#00ff78"/><stop offset="0.766" stop-color="#00ff5a"/><stop offset="0.817" stop-color="#00ffaa"/><stop offset="0.858" stop-color="#00ff96"/><stop offset="0.915" stop-color="#00ff5a"/><stop offset="1.000" stop-color="#00ff64"/></linearGradient>
<rect x="283.7" y="248.00" width="64.60" height="4.00" fill="url(#c2s3)"/>
<linearGradient id="c2s4" gradientUnits="userSpaceOnUse" x1="289.70" y1="0" x2="359.96" y2="0"><stop offset="0.000" stop-color="#000000"/><stop offset="0.047" stop-color="#08000c"/><stop offset="0.090" stop-color="#280037"/><stop offset="0.147" stop-color="#460069"/><stop offset="0.203" stop-color="#5f0096"/><stop offset="0.256" stop-color="#5f00c8"/><stop offset="0.300" stop-color="#3200f0"/><stop offset="0.334" stop-color="#0000ff"/><stop offset="0.389" stop-color="#003cff"/><stop offset="0.438" stop-color="#008cff"/><stop offset="0.471" stop-color="#00beff"/><stop offset="0.510" stop-color="#00f0ff"/><stop offset="0.617" stop-color="#00fff0"/><stop offset="0.665" stop-color="#00ffc8"/><stop offset="0.726" stop-color="#00ff78"/><stop offset="0.765" stop-color="#00ff5a"/><stop offset="0.816" stop-color="#00ffaa"/><stop offset="0.858" stop-color="#00ff96"/><stop offset="0.915" stop-color="#00ff5c"/><stop offset="1.000" stop-color="#00ff64"/></linearGradient>
<rect x="283.7" y="251.00" width="64.60" height="4.00" fill="url(#c2s4)"/>
<linearGradient id="c2s5" gradientUnits="userSpaceOnUse" x1="289.70" y1="0" x2="359.92" y2="0"><stop offset="0.000" stop-color="#000000"/><stop offset="0.047" stop-color="#08000c"/><stop offset="0.090" stop-color="#280037"/><stop offset="0.147" stop-color="#460069"/><stop offset="0.204" stop-color="#5f0096"/><stop offset="0.256" stop-color="#5f00c8"/><stop offset="0.300" stop-color="#3200f0"/><stop offset="0.334" stop-color="#0000ff"/><stop offset="0.389" stop-color="#003cff"/><stop offset="0.438" stop-color="#008cff"/><stop offset="0.471" stop-color="#00beff"/><stop offset="0.511" stop-color="#00f0ff"/><stop offset="0.614" stop-color="#00fff0"/><stop offset="0.662" stop-color="#00ffc8"/><stop offset="0.724" stop-color="#00ff78"/><stop offset="0.763" stop-color="#00ff5a"/><stop offset="0.816" stop-color="#00ffaa"/><stop offset="0.858" stop-color="#00ff96"/><stop offset="0.915" stop-color="#00ff5e"/><stop offset="1.000" stop-color="#00ff64"/></linearGradient>
<rect x="283.7" y="254.00" width="64.60" height="4.00" fill="url(#c2s5)"/>
<linearGradient id="c2s6" gradientUnits="userSpaceOnUse" x1="289.70" y1="0" x2="359.88" y2="0"><stop offset="0.000" stop-color="#000000"/><stop offset="0.047" stop-color="#08000c"/><stop offset="0.090" stop-color="#280037"/><stop offset="0.147" stop-color="#460069"/><stop offset="0.204" stop-color="#5f0096"/><stop offset="0.257" stop-color="#5f00c8"/><stop offset="0.300" stop-color="#3200f0"/><stop offset="0.334" stop-color="#0000ff"/><stop offset="0.388" stop-color="#003cff"/><stop offset="0.438" stop-color="#008cff"/><stop offset="0.472" stop-color="#00beff"/><stop offset="0.512" stop-color="#00f0ff"/><stop offset="0.612" stop-color="#00fff0"/><stop offset="0.660" stop-color="#00ffc8"/><stop offset="0.722" stop-color="#00ff78"/><stop offset="0.762" stop-color="#00ff5a"/><stop offset="0.815" stop-color="#00ffaa"/><stop offset="0.858" stop-color="#00ff96"/><stop offset="0.915" stop-color="#00ff60"/><stop offset="1.000" stop-color="#00ff64"/></linearGradient>
<rect x="283.7" y="257.00" width="64.60" height="4.00" fill="url(#c2s6)"/>
<linearGradient id="c2s7" gradientUnits="userSpaceOnUse" x1="289.70" y1="0" x2="359.85" y2="0"><stop offset="0.000" stop-color="#000000"/><stop offset="0.047" stop-color="#08000c"/><stop offset="0.090" stop-color="#280037"/><stop offset="0.147" stop-color="#460069"/><stop offset="0.205" stop-color="#5f0096"/><stop offset="0.257" stop-color="#5f00c8"/><stop offset="0.300" stop-color="#3200f0"/><stop offset="0.333" stop-color="#0000ff"/><stop offset="0.387" stop-color="#003cff"/><stop offset="0.438" stop-color="#008cff"/><stop offset="0.472" stop-color="#00beff"/><stop offset="0.513" stop-color="#00f0ff"/><stop offset="0.609" stop-color="#00fff0"/><stop offset="0.657" stop-color="#00ffc8"/><stop offset="0.720" stop-color="#00ff78"/><stop offset="0.761" stop-color="#00ff5a"/><stop offset="0.815" stop-color="#00ffaa"/><stop offset="0.857" stop-color="#00ff96"/><stop offset="0.914" stop-color="#00ff62"/><stop offset="1.000" stop-color="#00ff64"/></linearGradient>
<rect x="283.7" y="260.00" width="64.60" height="4.00" fill="url(#c2s7)"/>
<linearGradient id="c2s8" gradientUnits="userSpaceOnUse" x1="289.70" y1="0" x2="359.81" y2="0"><stop offset="0.000" stop-color="#000000"/><stop offset="0.047" stop-color="#08000c"/><stop offset="0.090" stop-color="#280037"/><stop offset="0.147" stop-color="#460069"/><stop offset="0.206" stop-color="#5f0096"/><stop offset="0.258" stop-color="#5f00c8"/><stop offset="0.300" stop-color="#3200f0"/><stop offset="0.334" stop-color="#0000ff"/><stop offset="0.386" stop-color="#003cff"/><stop offset="0.438" stop-color="#008cff"/><stop offset="0.473" stop-color="#00beff"/><stop offset="0.516" stop-color="#00f0ff"/><stop offset="0.608" stop-color="#00fff0"/><stop offset="0.655" stop-color="#00ffc8"/><stop offset="0.719" stop-color="#00ff78"/><stop offset="0.760" stop-color="#00ff5a"/><stop offset="0.815" stop-color="#00ffaa"/><stop offset="0.857" stop-color="#00ff96"/><stop offset="0.914" stop-color="#00ff63"/><stop offset="1.000" stop-color="#00ff64"/></linearGradient>
<rect x="283.7" y="263.00" width="64.60" height="4.00" fill="url(#c2s8)"/>
<linearGradient id="c2s9" gradientUnits="userSpaceOnUse" x1="289.70" y1="0" x2="359.77" y2="0"><stop offset="0.000" stop-color="#000000"/><stop offset="0.047" stop-color="#08000c"/><stop offset="0.090" stop-color="#280037"/><stop offset="0.147" stop-color="#460069"/><stop offset="0.207" stop-color="#5f0096"/><stop offset="0.260" stop-color="#5f00c8"/><stop offset="0.300" stop-color="#3200f0"/><stop offset="0.334" stop-color="#0000ff"/><stop offset="0.386" stop-color="#003cff"/><stop offset="0.438" stop-color="#008cff"/><stop offset="0.474" stop-color="#00beff"/><stop offset="0.518" stop-color="#00f0ff"/><stop offset="0.606" stop-color="#00fff0"/><stop offset="0.653" stop-color="#00ffc8"/><stop offset="0.717" stop-color="#00ff78"/><stop offset="0.759" stop-color="#00ff5a"/><stop offset="0.815" stop-color="#00ffaa"/><stop offset="0.857" stop-color="#00ff96"/><stop offset="0.914" stop-color="#00ff65"/><stop offset="1.000" stop-color="#00ff64"/></linearGradient>
<rect x="283.7" y="266.00" width="64.60" height="4.00" fill="url(#c2s9)"/>
<linearGradient id="c2s10" gradientUnits="userSpaceOnUse" x1="289.70" y1="0" x2="359.74" y2="0"><stop offset="0.000" stop-color="#000000"/><stop offset="0.047" stop-color="#08000c"/><stop offset="0.090" stop-color="#280037"/><stop offset="0.147" stop-color="#460069"/><stop offset="0.208" stop-color="#5f0096"/><stop offset="0.261" stop-color="#5f00c8"/><stop offset="0.301" stop-color="#3200f0"/><stop offset="0.334" stop-color="#0000ff"/><stop offset="0.385" stop-color="#003cff"/><stop offset="0.438" stop-color="#008cff"/><stop offset="0.476" stop-color="#00beff"/><stop offset="0.520" stop-color="#00f0ff"/><stop offset="0.604" stop-color="#00fff0"/><stop offset="0.651" stop-color="#00ffc8"/><stop offset="0.716" stop-color="#00ff78"/><stop offset="0.758" stop-color="#00ff5a"/><stop offset="0.814" stop-color="#00ffaa"/><stop offset="0.857" stop-color="#00ff96"/><stop offset="0.914" stop-color="#00ff67"/><stop offset="1.000" stop-color="#00ff64"/></linearGradient>
<rect x="283.7" y="269.00" width="64.60" height="4.00" fill="url(#c2s10)"/>
<linearGradient id="c2s11" gradientUnits="userSpaceOnUse" x1="289.70" y1="0" x2="359.70" y2="0"><stop offset="0.000" stop-color="#000000"/><stop offset="0.047" stop-color="#08000c"/><stop offset="0.090" stop-color="#280037"/><stop offset="0.147" stop-color="#460069"/><stop offset="0.210" stop-color="#5f0096"/><stop offset="0.262" stop-color="#5f00c8"/><stop offset="0.301" stop-color="#3200f0"/><stop offset="0.334" stop-color="#0000ff"/><stop offset="0.384" stop-color="#003cff"/><stop offset="0.438" stop-color="#008cff"/><stop offset="0.477" stop-color="#00beff"/><stop offset="0.522" stop-color="#00f0ff"/><stop offset="0.602" stop-color="#00fff0"/><stop offset="0.648" stop-color="#00ffc8"/><stop offset="0.714" stop-color="#00ff78"/><stop offset="0.758" stop-color="#00ff5a"/><stop offset="0.814" stop-color="#00ffaa"/><stop offset="0.857" stop-color="#00ff96"/><stop offset="0.914" stop-color="#00ff69"/><stop offset="1.000" stop-color="#00ff64"/></linearGradient>
<rect x="283.7" y="272.00" width="64.60" height="4.00" fill="url(#c2s11)"/>
<linearGradient id="c2s12" gradientUnits="userSpaceOnUse" x1="289.70" y1="0" x2="359.66" y2="0"><stop offset="0.000" stop-color="#000000"/><stop offset="0.047" stop-color="#08000c"/><stop offset="0.090" stop-color="#280037"/><stop offset="0.147" stop-color="#460069"/><stop offset="0.211" stop-color="#5f0096"/><stop offset="0.263" stop-color="#5f00c8"/><stop offset="0.302" stop-color="#3200f0"/><stop offset="0.334" stop-color="#0000ff"/><stop offset="0.384" stop-color="#003cff"/><stop offset="0.438" stop-color="#008cff"/><stop offset="0.478" stop-color="#00beff"/><stop offset="0.525" stop-color="#00f0ff"/><stop offset="0.600" stop-color="#00fff0"/><stop offset="0.646" stop-color="#00ffc8"/><stop offset="0.713" stop-color="#00ff78"/><stop offset="0.757" stop-color="#00ff5a"/><stop offset="0.814" stop-color="#00ffaa"/><stop offset="0.857" stop-color="#00ff96"/><stop offset="0.914" stop-color="#00ff6b"/><stop offset="1.000" stop-color="#00ff64"/></linearGradient>
<rect x="283.7" y="275.00" width="64.60" height="4.00" fill="url(#c2s12)"/>
<linearGradient id="c2s13" gradientUnits="userSpaceOnUse" x1="289.70" y1="0" x2="359.63" y2="0"><stop offset="0.000" stop-color="#000000"/><stop offset="0.047" stop-color="#08000c"/><stop offset="0.090" stop-color="#280037"/><stop offset="0.147" stop-color="#460069"/><stop offset="0.212" stop-color="#5f0096"/><stop offset="0.264" stop-color="#5f00c8"/><stop offset="0.302" stop-color="#3200f0"/><stop offset="0.335" stop-color="#0000ff"/><stop offset="0.383" stop-color="#003cff"/><stop offset="0.438" stop-color="#008cff"/><stop offset="0.479" stop-color="#00beff"/><stop offset="0.527" stop-color="#00f0ff"/><stop offset="0.599" stop-color="#00fff0"/><stop offset="0.644" stop-color="#00ffc8"/><stop offset="0.711" stop-color="#00ff78"/><stop offset="0.756" stop-color="#00ff5a"/><stop offset="0.814" stop-color="#00ffaa"/><stop offset="0.857" stop-color="#00ff96"/><stop offset="0.914" stop-color="#00ff6d"/><stop offset="1.000" stop-color="#00ff64"/></linearGradient>
<rect x="283.7" y="278.00" width="64.60" height="4.00" fill="url(#c2s13)"/>
<linearGradient id="c2s14" gradientUnits="userSpaceOnUse" x1="289.70" y1="0" x2="359.59" y2="0"><stop offset="0.000" stop-color="#000000"/><stop offset="0.047" stop-color="#08000c"/><stop offset="0.090" stop-color="#280037"/><stop offset="0.147" stop-color="#460069"/><stop offset="0.213" stop-color="#5f0096"/><stop offset="0.265" stop-color="#5f00c8"/><stop offset="0.303" stop-color="#3200f0"/><stop offset="0.335" stop-color="#0000ff"/><stop offset="0.382" stop-color="#003cff"/><stop offset="0.438" stop-color="#008cff"/><stop offset="0.481" stop-color="#00beff"/><stop offset="0.529" stop-color="#00f0ff"/><stop offset="0.597" stop-color="#00fff0"/><stop offset="0.642" stop-color="#00ffc8"/><stop offset="0.710" stop-color="#00ff78"/><stop offset="0.756" stop-color="#00ff5a"/><stop offset="0.814" stop-color="#00ffaa"/><stop offset="0.857" stop-color="#00ff96"/><stop offset="0.914" stop-color="#00ff6e"/><stop offset="1.000" stop-color="#00ff64"/></linearGradient>
<rect x="283.7" y="281.00" width="64.60" height="4.00" fill="url(#c2s14)"/>
<linearGradient id="c2s15" gradientUnits="userSpaceOnUse" x1="289.70" y1="0" x2="359.55" y2="0"><stop offset="0.000" stop-color="#000000"/><stop offset="0.047" stop-color="#08000c"/><stop offset="0.090" stop-color="#280037"/><stop offset="0.147" stop-color="#460069"/><stop offset="0.215" stop-color="#5f0096"/><stop offset="0.267" stop-color="#5f00c8"/><stop offset="0.303" stop-color="#3200f0"/><stop offset="0.335" stop-color="#0000ff"/><stop offset="0.382" stop-color="#003cff"/><stop offset="0.438" stop-color="#008cff"/><stop offset="0.482" stop-color="#00beff"/><stop offset="0.531" stop-color="#00f0ff"/><stop offset="0.595" stop-color="#00fff0"/><stop offset="0.640" stop-color="#00ffc8"/><stop offset="0.708" stop-color="#00ff78"/><stop offset="0.755" stop-color="#00ff5a"/><stop offset="0.813" stop-color="#00ffaa"/><stop offset="0.857" stop-color="#00ff96"/><stop offset="0.914" stop-color="#00ff70"/><stop offset="1.000" stop-color="#00ff64"/></linearGradient>
<rect x="283.7" y="284.00" width="64.60" height="4.00" fill="url(#c2s15)"/>
<linearGradient id="c2s16" gradientUnits="userSpaceOnUse" x1="289.70" y1="0" x2="359.52" y2="0"><stop offset="0.000" stop-color="#000000"/><stop offset="0.047" stop-color="#08000c"/><stop offset="0.090" stop-color="#280037"/><stop offset="0.148" stop-color="#460069"/><stop offset="0.216" stop-color="#5f0096"/><stop offset="0.268" stop-color="#5f00c8"/><stop offset="0.304" stop-color="#3200f0"/><stop offset="0.336" stop-color="#0000ff"/><stop offset="0.381" stop-color="#003cff"/><stop offset="0.437" stop-color="#008cff"/><stop offset="0.482" stop-color="#00beff"/><stop offset="0.532" stop-color="#00f0ff"/><stop offset="0.595" stop-color="#00fff0"/><stop offset="0.639" stop-color="#00ffc8"/><stop offset="0.707" stop-color="#00ff78"/><stop offset="0.754" stop-color="#00ff5a"/><stop offset="0.812" stop-color="#00ffaa"/><stop offset="0.857" stop-color="#00ff96"/><stop offset="0.914" stop-color="#00ff72"/><stop offset="1.000" stop-color="#00ff64"/></linearGradient>
<rect x="283.7" y="287.00" width="64.60" height="4.00" fill="url(#c2s16)"/>
<linearGradient id="c2s17" gradientUnits="userSpaceOnUse" x1="289.70" y1="0" x2="359.48" y2="0"><stop offset="0.000" stop-color="#000000"/><stop offset="0.047" stop-color="#08000c"/><stop offset="0.090" stop-color="#280037"/><stop offset="0.148" stop-color="#460069"/><stop offset="0.217" stop-color="#5f0096"/><stop offset="0.269" stop-color="#5f00c8"/><stop offset="0.305" stop-color="#3200f0"/><stop offset="0.337" stop-color="#0000ff"/><stop offset="0.381" stop-color="#003cff"/><stop offset="0.437" stop-color="#008cff"/><stop offset="0.483" stop-color="#00beff"/><stop offset="0.533" stop-color="#00f0ff"/><stop offset="0.595" stop-color="#00fff0"/><stop offset="0.638" stop-color="#00ffc8"/><stop offset="0.706" stop-color="#00ff78"/><stop offset="0.753" stop-color="#00ff5a"/><stop offset="0.811" stop-color="#00ffaa"/><stop offset="0.857" stop-color="#00ff96"/><stop offset="0.914" stop-color="#00ff74"/><stop offset="1.000" stop-color="#00ff64"/></linearGradient>
<rect x="283.7" y="290.00" width="64.60" height="4.00" fill="url(#c2s17)"/>
<linearGradient id="c2s18" gradientUnits="userSpaceOnUse" x1="289.70" y1="0" x2="359.45" y2="0"><stop offset="0.000" stop-color="#000000"/><stop offset="0.047" stop-color="#08000c"/><stop offset="0.090" stop-color="#280037"/><stop offset="0.148" stop-color="#460069"/><stop offset="0.219" stop-color="#5f0096"/><stop offset="0.270" stop-color="#5f00c8"/><stop offset="0.306" stop-color="#3200f0"/><stop offset="0.338" stop-color="#0000ff"/><stop offset="0.380" stop-color="#003cff"/><stop offset="0.437" stop-color="#008cff"/><stop offset="0.484" stop-color="#00beff"/><stop offset="0.534" stop-color="#00f0ff"/><stop offset="0.594" stop-color="#00fff0"/><stop offset="0.638" stop-color="#00ffc8"/><stop offset="0.705" stop-color="#00ff78"/><stop offset="0.752" stop-color="#00ff5a"/><stop offset="0.810" stop-color="#00ffaa"/><stop offset="0.857" stop-color="#00ff96"/><stop offset="0.914" stop-color="#00ff76"/><stop offset="1.000" stop-color="#00ff64"/></linearGradient>
<rect x="283.7" y="293.00" width="64.60" height="4.00" fill="url(#c2s18)"/>
<linearGradient id="c2s19" gradientUnits="userSpaceOnUse" x1="289.70" y1="0" x2="359.41" y2="0"><stop offset="0.000" stop-color="#000000"/><stop offset="0.047" stop-color="#08000c"/><stop offset="0.090" stop-color="#280037"/><stop offset="0.148" stop-color="#460069"/><stop offset="0.220" stop-color="#5f0096"/><stop offset="0.271" stop-color="#5f00c8"/><stop offset="0.307" stop-color="#3200f0"/><stop offset="0.338" stop-color="#0000ff"/><stop offset="0.380" stop-color="#003cff"/><stop offset="0.436" stop-color="#008cff"/><stop offset="0.484" stop-color="#00beff"/><stop offset="0.535" stop-color="#00f0ff"/><stop offset="0.594" stop-color="#00fff0"/><stop offset="0.637" stop-color="#00ffc8"/><stop offset="0.704" stop-color="#00ff78"/><stop offset="0.751" stop-color="#00ff5a"/><stop offset="0.809" stop-color="#00ffaa"/><stop offset="0.857" stop-color="#00ff96"/><stop offset="0.914" stop-color="#00ff78"/><stop offset="1.000" stop-color="#00ff64"/></linearGradient>
<rect x="283.7" y="296.00" width="64.60" height="4.00" fill="url(#c2s19)"/>
<linearGradient id="c2s20" gradientUnits="userSpaceOnUse" x1="289.70" y1="0" x2="359.37" y2="0"><stop offset="0.000" stop-color="#000000"/><stop offset="0.047" stop-color="#08000c"/><stop offset="0.090" stop-color="#280037"/><stop offset="0.148" stop-color="#460069"/><stop offset="0.221" stop-color="#5f0096"/><stop offset="0.273" stop-color="#5f00c8"/><stop offset="0.308" stop-color="#3200f0"/><stop offset="0.339" stop-color="#0000ff"/><stop offset="0.380" stop-color="#003cff"/><stop offset="0.436" stop-color="#008cff"/><stop offset="0.485" stop-color="#00beff"/><stop offset="0.536" stop-color="#00f0ff"/><stop offset="0.594" stop-color="#00fff0"/><stop offset="0.636" stop-color="#00ffc8"/><stop offset="0.703" stop-color="#00ff78"/><stop offset="0.750" stop-color="#00ff5a"/><stop offset="0.808" stop-color="#00ffaa"/><stop offset="0.856" stop-color="#00ff96"/><stop offset="0.914" stop-color="#00ff79"/><stop offset="1.000" stop-color="#00ff64"/></linearGradient>
<rect x="283.7" y="299.00" width="64.60" height="4.00" fill="url(#c2s20)"/>
<linearGradient id="c2s21" gradientUnits="userSpaceOnUse" x1="289.70" y1="0" x2="359.34" y2="0"><stop offset="0.000" stop-color="#000000"/><stop offset="0.047" stop-color="#08000c"/><stop offset="0.090" stop-color="#280037"/><stop offset="0.148" stop-color="#460069"/><stop offset="0.222" stop-color="#5f0096"/><stop offset="0.274" stop-color="#5f00c8"/><stop offset="0.309" stop-color="#3200f0"/><stop offset="0.340" stop-color="#0000ff"/><stop offset="0.379" stop-color="#003cff"/><stop offset="0.436" stop-color="#008cff"/><stop offset="0.486" stop-color="#00beff"/><stop offset="0.537" stop-color="#00f0ff"/><stop offset="0.593" stop-color="#00fff0"/><stop offset="0.635" stop-color="#00ffc8"/><stop offset="0.702" stop-color="#00ff78"/><stop offset="0.749" stop-color="#00ff5a"/><stop offset="0.806" stop-color="#00ffaa"/><stop offset="0.856" stop-color="#00ff96"/><stop offset="0.914" stop-color="#00ff7b"/><stop offset="1.000" stop-color="#00ff64"/></linearGradient>
<rect x="283.7" y="302.00" width="64.60" height="4.00" fill="url(#c2s21)"/>
<linearGradient id="c2s22" gradientUnits="userSpaceOnUse" x1="289.70" y1="0" x2="359.30" y2="0"><stop offset="0.000" stop-color="#000000"/><stop offset="0.047" stop-color="#08000c"/><stop offset="0.091" stop-color="#280037"/><stop offset="0.148" stop-color="#460069"/><stop offset="0.224" stop-color="#5f0096"/><stop offset="0.275" stop-color="#5f00c8"/><stop offset="0.310" stop-color="#3200f0"/><stop offset="0.341" stop-color="#0000ff"/><stop offset="0.379" stop-color="#003cff"/><stop offset="0.435" stop-color="#008cff"/><stop offset="0.486" stop-color="#00beff"/><stop offset="0.538" stop-color="#00f0ff"/><stop offset="0.593" stop-color="#00fff0"/><stop offset="0.634" stop-color="#00ffc8"/><stop offset="0.701" stop-color="#00ff78"/><stop offset="0.748" stop-color="#00ff5a"/><stop offset="0.805" stop-color="#00ffaa"/><stop offset="0.856" stop-color="#00ff96"/><stop offset="0.914" stop-color="#00ff7d"/><stop offset="1.000" stop-color="#00ff64"/></linearGradient>
<rect x="283.7" y="305.00" width="64.60" height="4.00" fill="url(#c2s22)"/>
<linearGradient id="c2s23" gradientUnits="userSpaceOnUse" x1="289.70" y1="0" x2="359.26" y2="0"><stop offset="0.000" stop-color="#000000"/><stop offset="0.047" stop-color="#08000c"/><stop offset="0.091" stop-color="#280037"/><stop offset="0.148" stop-color="#460069"/><stop offset="0.224" stop-color="#5f0096"/><stop offset="0.276" stop-color="#5f00c8"/><stop offset="0.311" stop-color="#3200f0"/><stop offset="0.341" stop-color="#0000ff"/><stop offset="0.379" stop-color="#003cff"/><stop offset="0.435" stop-color="#008cff"/><stop offset="0.486" stop-color="#00beff"/><stop offset="0.538" stop-color="#00f0ff"/><stop offset="0.593" stop-color="#00fff0"/><stop offset="0.634" stop-color="#00ffc8"/><stop offset="0.699" stop-color="#00ff78"/><stop offset="0.747" stop-color="#00ff5a"/><stop offset="0.803" stop-color="#00ffaa"/><stop offset="0.856" stop-color="#00ff96"/><stop offset="0.914" stop-color="#00ff7f"/><stop offset="1.000" stop-color="#00ff64"/></linearGradient>
<rect x="283.7" y="308.00" width="64.60" height="4.00" fill="url(#c2s23)"/>
<linearGradient id="c2s24" gradientUnits="userSpaceOnUse" x1="289.70" y1="0" x2="359.23" y2="0"><stop offset="0.000" stop-color="#000000"/><stop offset="0.047" stop-color="#08000c"/><stop offset="0.091" stop-color="#280037"/><stop offset="0.148" stop-color="#460069"/><stop offset="0.224" stop-color="#5f0096"/><stop offset="0.276" stop-color="#5f00c8"/><stop offset="0.312" stop-color="#3200f0"/><stop offset="0.342" stop-color="#0000ff"/><stop offset="0.379" stop-color="#003cff"/><stop offset="0.434" stop-color="#008cff"/><stop offset="0.485" stop-color="#00beff"/><stop offset="0.536" stop-color="#00f0ff"/><stop offset="0.592" stop-color="#00fff0"/><stop offset="0.633" stop-color="#00ffc8"/><stop offset="0.698" stop-color="#00ff78"/><stop offset="0.745" stop-color="#00ff5a"/><stop offset="0.801" stop-color="#00ffaa"/><stop offset="0.856" stop-color="#00ff96"/><stop offset="0.914" stop-color="#00ff81"/><stop offset="1.000" stop-color="#00ff64"/></linearGradient>
<rect x="283.7" y="311.00" width="64.60" height="4.00" fill="url(#c2s24)"/>
<linearGradient id="c2s25" gradientUnits="userSpaceOnUse" x1="289.70" y1="0" x2="359.19" y2="0"><stop offset="0.000" stop-color="#000000"/><stop offset="0.047" stop-color="#08000c"/><stop offset="0.091" stop-color="#280037"/><stop offset="0.148" stop-color="#460069"/><stop offset="0.224" stop-color="#5f0096"/><stop offset="0.276" stop-color="#5f00c8"/><stop offset="0.312" stop-color="#3200f0"/><stop offset="0.342" stop-color="#0000ff"/><stop offset="0.379" stop-color="#003cff"/><stop offset="0.433" stop-color="#008cff"/><stop offset="0.483" stop-color="#00beff"/><stop offset="0.534" stop-color="#00f0ff"/><stop offset="0.592" stop-color="#00fff0"/><stop offset="0.633" stop-color="#00ffc8"/><stop offset="0.696" stop-color="#00ff78"/><stop offset="0.743" stop-color="#00ff5a"/><stop offset="0.798" stop-color="#00ffaa"/><stop offset="0.856" stop-color="#00ff96"/><stop offset="0.914" stop-color="#00ff83"/><stop offset="1.000" stop-color="#00ff64"/></linearGradient>
<rect x="283.7" y="314.00" width="64.60" height="4.00" fill="url(#c2s25)"/>
<linearGradient id="c2s26" gradientUnits="userSpaceOnUse" x1="289.70" y1="0" x2="359.15" y2="0"><stop offset="0.000" stop-color="#000000"/><stop offset="0.048" stop-color="#08000c"/><stop offset="0.091" stop-color="#280037"/><stop offset="0.148" stop-color="#460069"/><stop offset="0.224" stop-color="#5f0096"/><stop offset="0.276" stop-color="#5f00c8"/><stop offset="0.313" stop-color="#3200f0"/><stop offset="0.343" stop-color="#0000ff"/><stop offset="0.379" stop-color="#003cff"/><stop offset="0.432" stop-color="#008cff"/><stop offset="0.482" stop-color="#00beff"/><stop offset="0.532" stop-color="#00f0ff"/><stop offset="0.592" stop-color="#00fff0"/><stop offset="0.632" stop-color="#00ffc8"/><stop offset="0.695" stop-color="#00ff78"/><stop offset="0.741" stop-color="#00ff5a"/><stop offset="0.796" stop-color="#00ffaa"/><stop offset="0.856" stop-color="#00ff96"/><stop offset="0.914" stop-color="#00ff84"/><stop offset="1.000" stop-color="#00ff64"/></linearGradient>
<rect x="283.7" y="317.00" width="64.60" height="4.00" fill="url(#c2s26)"/>
<linearGradient id="c2s27" gradientUnits="userSpaceOnUse" x1="289.70" y1="0" x2="359.12" y2="0"><stop offset="0.000" stop-color="#000000"/><stop offset="0.048" stop-color="#08000c"/><stop offset="0.091" stop-color="#280037"/><stop offset="0.148" stop-color="#460069"/><stop offset="0.224" stop-color="#5f0096"/><stop offset="0.276" stop-color="#5f00c8"/><stop offset="0.313" stop-color="#3200f0"/><stop offset="0.343" stop-color="#0000ff"/><stop offset="0.379" stop-color="#003cff"/><stop offset="0.431" stop-color="#008cff"/><stop offset="0.481" stop-color="#00beff"/><stop offset="0.530" stop-color="#00f0ff"/><stop offset="0.591" stop-color="#00fff0"/><stop offset="0.631" stop-color="#00ffc8"/><stop offset="0.693" stop-color="#00ff78"/><stop offset="0.739" stop-color="#00ff5a"/><stop offset="0.793" stop-color="#00ffaa"/><stop offset="0.856" stop-color="#00ff96"/><stop offset="0.914" stop-color="#00ff86"/><stop offset="1.000" stop-color="#00ff64"/></linearGradient>
<rect x="283.7" y="320.00" width="64.60" height="4.00" fill="url(#c2s27)"/>
<linearGradient id="c2s28" gradientUnits="userSpaceOnUse" x1="289.70" y1="0" x2="359.08" y2="0"><stop offset="0.000" stop-color="#000000"/><stop offset="0.048" stop-color="#08000c"/><stop offset="0.091" stop-color="#280037"/><stop offset="0.148" stop-color="#460069"/><stop offset="0.224" stop-color="#5f0096"/><stop offset="0.276" stop-color="#5f00c8"/><stop offset="0.314" stop-color="#3200f0"/><stop offset="0.343" stop-color="#0000ff"/><stop offset="0.379" stop-color="#003cff"/><stop offset="0.431" stop-color="#008cff"/><stop offset="0.480" stop-color="#00beff"/><stop offset="0.528" stop-color="#00f0ff"/><stop offset="0.591" stop-color="#00fff0"/><stop offset="0.631" stop-color="#00ffc8"/><stop offset="0.692" stop-color="#00ff78"/><stop offset="0.737" stop-color="#00ff5a"/><stop offset="0.791" stop-color="#00ffaa"/><stop offset="0.856" stop-color="#00ff96"/><stop offset="0.914" stop-color="#00ff88"/><stop offset="1.000" stop-color="#00ff64"/></linearGradient>
<rect x="283.7" y="323.00" width="64.60" height="4.00" fill="url(#c2s28)"/>
<linearGradient id="c2s29" gradientUnits="userSpaceOnUse" x1="289.70" y1="0" x2="359.04" y2="0"><stop offset="0.000" stop-color="#000000"/><stop offset="0.048" stop-color="#08000c"/><stop offset="0.091" stop-color="#280037"/><stop offset="0.149" stop-color="#460069"/><stop offset="0.224" stop-color="#5f0096"/><stop offset="0.276" stop-color="#5f00c8"/><stop offset="0.315" stop-color="#3200f0"/><stop offset="0.344" stop-color="#0000ff"/><stop offset="0.379" stop-color="#003cff"/><stop offset="0.430" stop-color="#008cff"/><stop offset="0.478" stop-color="#00beff"/><stop offset="0.526" stop-color="#00f0ff"/><stop offset="0.590" stop-color="#00fff0"/><stop offset="0.630" stop-color="#00ffc8"/><stop offset="0.690" stop-color="#00ff78"/><stop offset="0.735" stop-color="#00ff5a"/><stop offset="0.788" stop-color="#00ffaa"/><stop offset="0.856" stop-color="#00ff96"/><stop offset="0.913" stop-color="#00ff8a"/><stop offset="1.000" stop-color="#00ff64"/></linearGradient>
<rect x="283.7" y="326.00" width="64.60" height="4.00" fill="url(#c2s29)"/>
<linearGradient id="c2s30" gradientUnits="userSpaceOnUse" x1="289.70" y1="0" x2="359.01" y2="0"><stop offset="0.000" stop-color="#000000"/><stop offset="0.048" stop-color="#08000c"/><stop offset="0.091" stop-color="#280037"/><stop offset="0.149" stop-color="#460069"/><stop offset="0.224" stop-color="#5f0096"/><stop offset="0.276" stop-color="#5f00c8"/><stop offset="0.315" stop-color="#3200f0"/><stop offset="0.344" stop-color="#0000ff"/><stop offset="0.379" stop-color="#003cff"/><stop offset="0.429" stop-color="#008cff"/><stop offset="0.477" stop-color="#00beff"/><stop offset="0.524" stop-color="#00f0ff"/><stop offset="0.590" stop-color="#00fff0"/><stop offset="0.629" stop-color="#00ffc8"/><stop offset="0.689" stop-color="#00ff78"/><stop offset="0.732" stop-color="#00ff5a"/><stop offset="0.786" stop-color="#00ffaa"/><stop offset="0.856" stop-color="#00ff96"/><stop offset="0.913" stop-color="#00ff8c"/><stop offset="1.000" stop-color="#00ff64"/></linearGradient>
<rect x="283.7" y="329.00" width="64.60" height="4.00" fill="url(#c2s30)"/>
<linearGradient id="c2s31" gradientUnits="userSpaceOnUse" x1="289.70" y1="0" x2="359.06" y2="0"><stop offset="0.000" stop-color="#000000"/><stop offset="0.048" stop-color="#08000c"/><stop offset="0.091" stop-color="#280037"/><stop offset="0.148" stop-color="#460069"/><stop offset="0.222" stop-color="#5f0096"/><stop offset="0.275" stop-color="#5f00c8"/><stop offset="0.315" stop-color="#3200f0"/><stop offset="0.344" stop-color="#0000ff"/><stop offset="0.378" stop-color="#003cff"/><stop offset="0.427" stop-color="#008cff"/><stop offset="0.474" stop-color="#00beff"/><stop offset="0.520" stop-color="#00f0ff"/><stop offset="0.587" stop-color="#00fff0"/><stop offset="0.627" stop-color="#00ffc8"/><stop offset="0.686" stop-color="#00ff78"/><stop offset="0.729" stop-color="#00ff5a"/><stop offset="0.782" stop-color="#00ffaa"/><stop offset="0.856" stop-color="#00ff96"/><stop offset="0.914" stop-color="#00ff8c"/><stop offset="1.000" stop-color="#00ff64"/></linearGradient>
<rect x="283.7" y="332.00" width="64.60" height="4.00" fill="url(#c2s31)"/>
<linearGradient id="c2s32" gradientUnits="userSpaceOnUse" x1="289.70" y1="0" x2="359.14" y2="0"><stop offset="0.000" stop-color="#000000"/><stop offset="0.048" stop-color="#08000c"/><stop offset="0.091" stop-color="#280037"/><stop offset="0.148" stop-color="#460069"/><stop offset="0.221" stop-color="#5f0096"/><stop offset="0.274" stop-color="#5f00c8"/><stop offset="0.314" stop-color="#3200f0"/><stop offset="0.343" stop-color="#0000ff"/><stop offset="0.377" stop-color="#003cff"/><stop offset="0.426" stop-color="#008cff"/><stop offset="0.472" stop-color="#00beff"/><stop offset="0.516" stop-color="#00f0ff"/><stop offset="0.584" stop-color="#00fff0"/><stop offset="0.624" stop-color="#00ffc8"/><stop offset="0.683" stop-color="#00ff78"/><stop offset="0.726" stop-color="#00ff5a"/><stop offset="0.779" stop-color="#00ffaa"/><stop offset="0.857" stop-color="#00ff96"/><stop offset="0.916" stop-color="#00ff8d"/><stop offset="1.000" stop-color="#00ff64"/></linearGradient>
<rect x="283.7" y="335.00" width="64.60" height="4.00" fill="url(#c2s32)"/>
<linearGradient id="c2s33" gradientUnits="userSpaceOnUse" x1="289.70" y1="0" x2="359.21" y2="0"><stop offset="0.000" stop-color="#000000"/><stop offset="0.047" stop-color="#08000c"/><stop offset="0.091" stop-color="#280037"/><stop offset="0.148" stop-color="#460069"/><stop offset="0.220" stop-color="#5f0096"/><stop offset="0.272" stop-color="#5f00c8"/><stop offset="0.314" stop-color="#3200f0"/><stop offset="0.342" stop-color="#0000ff"/><stop offset="0.376" stop-color="#003cff"/><stop offset="0.424" stop-color="#008cff"/><stop offset="0.469" stop-color="#00beff"/><stop offset="0.512" stop-color="#00f0ff"/><stop offset="0.581" stop-color="#00fff0"/><stop offset="0.620" stop-color="#00ffc8"/><stop offset="0.679" stop-color="#00ff78"/><stop offset="0.723" stop-color="#00ff5a"/><stop offset="0.775" stop-color="#00ffaa"/><stop offset="0.858" stop-color="#00ff96"/><stop offset="0.917" stop-color="#00ff8d"/><stop offset="1.000" stop-color="#00ff64"/></linearGradient>
<rect x="283.7" y="338.00" width="64.60" height="4.00" fill="url(#c2s33)"/>
<linearGradient id="c2s34" gradientUnits="userSpaceOnUse" x1="289.70" y1="0" x2="359.29" y2="0"><stop offset="0.000" stop-color="#000000"/><stop offset="0.047" stop-color="#08000c"/><stop offset="0.091" stop-color="#280037"/><stop offset="0.148" stop-color="#460069"/><stop offset="0.219" stop-color="#5f0096"/><stop offset="0.271" stop-color="#5f00c8"/><stop offset="0.313" stop-color="#3200f0"/><stop offset="0.341" stop-color="#0000ff"/><stop offset="0.375" stop-color="#003cff"/><stop offset="0.422" stop-color="#008cff"/><stop offset="0.466" stop-color="#00beff"/><stop offset="0.507" stop-color="#00f0ff"/><stop offset="0.578" stop-color="#00fff0"/><stop offset="0.617" stop-color="#00ffc8"/><stop offset="0.676" stop-color="#00ff78"/><stop offset="0.720" stop-color="#00ff5a"/><stop offset="0.772" stop-color="#00ffaa"/><stop offset="0.858" stop-color="#00ff96"/><stop offset="0.918" stop-color="#00ff8d"/><stop offset="1.000" stop-color="#00ff64"/></linearGradient>
<rect x="283.7" y="341.00" width="64.60" height="4.00" fill="url(#c2s34)"/>
<linearGradient id="c2s35" gradientUnits="userSpaceOnUse" x1="289.70" y1="0" x2="359.36" y2="0"><stop offset="0.000" stop-color="#000000"/><stop offset="0.047" stop-color="#08000c"/><stop offset="0.090" stop-color="#280037"/><stop offset="0.148" stop-color="#460069"/><stop offset="0.217" stop-color="#5f0096"/><stop offset="0.270" stop-color="#5f00c8"/><stop offset="0.312" stop-color="#3200f0"/><stop offset="0.340" stop-color="#0000ff"/><stop offset="0.374" stop-color="#003cff"/><stop offset="0.421" stop-color="#008cff"/><stop offset="0.463" stop-color="#00beff"/><stop offset="0.503" stop-color="#00f0ff"/><stop offset="0.574" stop-color="#00fff0"/><stop offset="0.614" stop-color="#00ffc8"/><stop offset="0.673" stop-color="#00ff78"/><stop offset="0.717" stop-color="#00ff5a"/><stop offset="0.768" stop-color="#00ffaa"/><stop offset="0.859" stop-color="#00ff96"/><stop offset="0.919" stop-color="#00ff8e"/><stop offset="1.000" stop-color="#00ff64"/></linearGradient>
<rect x="283.7" y="344.00" width="64.60" height="4.00" fill="url(#c2s35)"/>
<linearGradient id="c2s36" gradientUnits="userSpaceOnUse" x1="289.70" y1="0" x2="359.44" y2="0"><stop offset="0.000" stop-color="#000000"/><stop offset="0.047" stop-color="#08000c"/><stop offset="0.090" stop-color="#280037"/><stop offset="0.148" stop-color="#460069"/><stop offset="0.216" stop-color="#5f0096"/><stop offset="0.269" stop-color="#5f00c8"/><stop offset="0.312" stop-color="#3200f0"/><stop offset="0.339" stop-color="#0000ff"/><stop offset="0.373" stop-color="#003cff"/><stop offset="0.419" stop-color="#008cff"/><stop offset="0.460" stop-color="#00beff"/><stop offset="0.499" stop-color="#00f0ff"/><stop offset="0.571" stop-color="#00fff0"/><stop offset="0.611" stop-color="#00ffc8"/><stop offset="0.670" stop-color="#00ff78"/><stop offset="0.714" stop-color="#00ff5a"/><stop offset="0.765" stop-color="#00ffaa"/><stop offset="0.860" stop-color="#00ff96"/><stop offset="0.920" stop-color="#00ff8e"/><stop offset="1.000" stop-color="#00ff64"/></linearGradient>
<rect x="283.7" y="347.00" width="64.60" height="4.00" fill="url(#c2s36)"/>
<linearGradient id="c2s37" gradientUnits="userSpaceOnUse" x1="289.70" y1="0" x2="359.51" y2="0"><stop offset="0.000" stop-color="#000000"/><stop offset="0.047" stop-color="#08000c"/><stop offset="0.090" stop-color="#280037"/><stop offset="0.148" stop-color="#460069"/><stop offset="0.215" stop-color="#5f0096"/><stop offset="0.268" stop-color="#5f00c8"/><stop offset="0.311" stop-color="#3200f0"/><stop offset="0.338" stop-color="#0000ff"/><stop offset="0.372" stop-color="#003cff"/><stop offset="0.417" stop-color="#008cff"/><stop offset="0.457" stop-color="#00beff"/><stop offset="0.495" stop-color="#00f0ff"/><stop offset="0.568" stop-color="#00fff0"/><stop offset="0.608" stop-color="#00ffc8"/><stop offset="0.667" stop-color="#00ff78"/><stop offset="0.710" stop-color="#00ff5a"/><stop offset="0.761" stop-color="#00ffaa"/><stop offset="0.860" stop-color="#00ff96"/><stop offset="0.921" stop-color="#00ff8f"/><stop offset="1.000" stop-color="#00ff64"/></linearGradient>
<rect x="283.7" y="350.00" width="64.60" height="4.00" fill="url(#c2s37)"/>
<linearGradient id="c2s38" gradientUnits="userSpaceOnUse" x1="289.70" y1="0" x2="359.59" y2="0"><stop offset="0.000" stop-color="#000000"/><stop offset="0.047" stop-color="#08000c"/><stop offset="0.090" stop-color="#280037"/><stop offset="0.147" stop-color="#460069"/><stop offset="0.213" stop-color="#5f0096"/><stop offset="0.267" stop-color="#5f00c8"/><stop offset="0.311" stop-color="#3200f0"/><stop offset="0.337" stop-color="#0000ff"/><stop offset="0.371" stop-color="#003cff"/><stop offset="0.416" stop-color="#008cff"/><stop offset="0.454" stop-color="#00beff"/><stop offset="0.491" stop-color="#00f0ff"/><stop offset="0.564" stop-color="#00fff0"/><stop offset="0.605" stop-color="#00ffc8"/><stop offset="0.663" stop-color="#00ff78"/><stop offset="0.707" stop-color="#00ff5a"/><stop offset="0.758" stop-color="#00ffaa"/><stop offset="0.861" stop-color="#00ff96"/><stop offset="0.923" stop-color="#00ff8f"/><stop offset="1.000" stop-color="#00ff64"/></linearGradient>
<rect x="283.7" y="353.00" width="64.60" height="4.00" fill="url(#c2s38)"/>
<linearGradient id="c2s39" gradientUnits="userSpaceOnUse" x1="289.70" y1="0" x2="359.66" y2="0"><stop offset="0.000" stop-color="#000000"/><stop offset="0.047" stop-color="#08000c"/><stop offset="0.090" stop-color="#280037"/><stop offset="0.147" stop-color="#460069"/><stop offset="0.213" stop-color="#5f0096"/><stop offset="0.266" stop-color="#5f00c8"/><stop offset="0.310" stop-color="#3200f0"/><stop offset="0.337" stop-color="#0000ff"/><stop offset="0.370" stop-color="#003cff"/><stop offset="0.414" stop-color="#008cff"/><stop offset="0.452" stop-color="#00beff"/><stop offset="0.487" stop-color="#00f0ff"/><stop offset="0.559" stop-color="#00fff0"/><stop offset="0.600" stop-color="#00ffc8"/><stop offset="0.660" stop-color="#00ff78"/><stop offset="0.705" stop-color="#00ff5a"/><stop offset="0.755" stop-color="#00ffaa"/><stop offset="0.862" stop-color="#00ff96"/><stop offset="0.924" stop-color="#00ff8f"/><stop offset="1.000" stop-color="#00ff64"/></linearGradient>
<rect x="283.7" y="356.00" width="64.60" height="4.00" fill="url(#c2s39)"/>
<linearGradient id="c2s40" gradientUnits="userSpaceOnUse" x1="289.70" y1="0" x2="359.74" y2="0"><stop offset="0.000" stop-color="#000000"/><stop offset="0.047" stop-color="#08000c"/><stop offset="0.090" stop-color="#280037"/><stop offset="0.147" stop-color="#460069"/><stop offset="0.212" stop-color="#5f0096"/><stop offset="0.266" stop-color="#5f00c8"/><stop offset="0.310" stop-color="#3200f0"/><stop offset="0.336" stop-color="#0000ff"/><stop offset="0.369" stop-color="#003cff"/><stop offset="0.412" stop-color="#008cff"/><stop offset="0.449" stop-color="#00beff"/><stop offset="0.484" stop-color="#00f0ff"/><stop offset="0.554" stop-color="#00fff0"/><stop offset="0.596" stop-color="#00ffc8"/><stop offset="0.656" stop-color="#00ff78"/><stop offset="0.702" stop-color="#00ff5a"/><stop offset="0.752" stop-color="#00ffaa"/><stop offset="0.862" stop-color="#00ff96"/><stop offset="0.925" stop-color="#00ff90"/><stop offset="1.000" stop-color="#00ff64"/></linearGradient>
<rect x="283.7" y="359.00" width="64.60" height="4.00" fill="url(#c2s40)"/>
<linearGradient id="c2s41" gradientUnits="userSpaceOnUse" x1="289.70" y1="0" x2="359.81" y2="0"><stop offset="0.000" stop-color="#000000"/><stop offset="0.047" stop-color="#08000c"/><stop offset="0.090" stop-color="#280037"/><stop offset="0.147" stop-color="#460069"/><stop offset="0.212" stop-color="#5f0096"/><stop offset="0.265" stop-color="#5f00c8"/><stop offset="0.309" stop-color="#3200f0"/><stop offset="0.336" stop-color="#0000ff"/><stop offset="0.367" stop-color="#003cff"/><stop offset="0.411" stop-color="#008cff"/><stop offset="0.447" stop-color="#00beff"/><stop offset="0.480" stop-color="#00f0ff"/><stop offset="0.550" stop-color="#00fff0"/><stop offset="0.591" stop-color="#00ffc8"/><stop offset="0.653" stop-color="#00ff78"/><stop offset="0.699" stop-color="#00ff5a"/><stop offset="0.749" stop-color="#00ffaa"/><stop offset="0.863" stop-color="#00ff96"/><stop offset="0.926" stop-color="#00ff90"/><stop offset="1.000" stop-color="#00ff64"/></linearGradient>
<rect x="283.7" y="362.00" width="64.60" height="4.00" fill="url(#c2s41)"/>
<linearGradient id="c2s42" gradientUnits="userSpaceOnUse" x1="289.70" y1="0" x2="359.89" y2="0"><stop offset="0.000" stop-color="#000000"/><stop offset="0.047" stop-color="#08000c"/><stop offset="0.090" stop-color="#280037"/><stop offset="0.147" stop-color="#460069"/><stop offset="0.211" stop-color="#5f0096"/><stop offset="0.265" stop-color="#5f00c8"/><stop offset="0.309" stop-color="#3200f0"/><stop offset="0.335" stop-color="#0000ff"/><stop offset="0.366" stop-color="#003cff"/><stop offset="0.409" stop-color="#008cff"/><stop offset="0.445" stop-color="#00beff"/><stop offset="0.477" stop-color="#00f0ff"/><stop offset="0.545" stop-color="#00fff0"/><stop offset="0.587" stop-color="#00ffc8"/><stop offset="0.649" stop-color="#00ff78"/><stop offset="0.697" stop-color="#00ff5a"/><stop offset="0.747" stop-color="#00ffaa"/><stop offset="0.864" stop-color="#00ff96"/><stop offset="0.927" stop-color="#00ff90"/><stop offset="1.000" stop-color="#00ff64"/></linearGradient>
<rect x="283.7" y="365.00" width="64.60" height="4.00" fill="url(#c2s42)"/>
<linearGradient id="c2s43" gradientUnits="userSpaceOnUse" x1="289.70" y1="0" x2="359.96" y2="0"><stop offset="0.000" stop-color="#000000"/><stop offset="0.047" stop-color="#08000c"/><stop offset="0.090" stop-color="#280037"/><stop offset="0.147" stop-color="#460069"/><stop offset="0.210" stop-color="#5f0096"/><stop offset="0.264" stop-color="#5f00c8"/><stop offset="0.308" stop-color="#3200f0"/><stop offset="0.334" stop-color="#0000ff"/><stop offset="0.365" stop-color="#003cff"/><stop offset="0.407" stop-color="#008cff"/><stop offset="0.442" stop-color="#00beff"/><stop offset="0.474" stop-color="#00f0ff"/><stop offset="0.540" stop-color="#00fff0"/><stop offset="0.582" stop-color="#00ffc8"/><stop offset="0.646" stop-color="#00ff78"/><stop offset="0.694" stop-color="#00ff5a"/><stop offset="0.744" stop-color="#00ffaa"/><stop offset="0.865" stop-color="#00ff96"/><stop offset="0.928" stop-color="#00ff91"/><stop offset="1.000" stop-color="#00ff64"/></linearGradient>
<rect x="283.7" y="368.00" width="64.60" height="4.00" fill="url(#c2s43)"/>
<linearGradient id="c2s44" gradientUnits="userSpaceOnUse" x1="289.70" y1="0" x2="360.04" y2="0"><stop offset="0.000" stop-color="#000000"/><stop offset="0.047" stop-color="#08000c"/><stop offset="0.090" stop-color="#280037"/><stop offset="0.146" stop-color="#460069"/><stop offset="0.210" stop-color="#5f0096"/><stop offset="0.264" stop-color="#5f00c8"/><stop offset="0.308" stop-color="#3200f0"/><stop offset="0.334" stop-color="#0000ff"/><stop offset="0.364" stop-color="#003cff"/><stop offset="0.406" stop-color="#008cff"/><stop offset="0.440" stop-color="#00beff"/><stop offset="0.470" stop-color="#00f0ff"/><stop offset="0.535" stop-color="#00fff0"/><stop offset="0.578" stop-color="#00ffc8"/><stop offset="0.642" stop-color="#00ff78"/><stop offset="0.692" stop-color="#00ff5a"/><stop offset="0.741" stop-color="#00ffaa"/><stop offset="0.865" stop-color="#00ff96"/><stop offset="0.929" stop-color="#00ff91"/><stop offset="1.000" stop-color="#00ff64"/></linearGradient>
<rect x="283.7" y="371.00" width="64.60" height="4.00" fill="url(#c2s44)"/>
<linearGradient id="c2s45" gradientUnits="userSpaceOnUse" x1="289.70" y1="0" x2="360.11" y2="0"><stop offset="0.000" stop-color="#000000"/><stop offset="0.047" stop-color="#08000c"/><stop offset="0.089" stop-color="#280037"/><stop offset="0.146" stop-color="#460069"/><stop offset="0.209" stop-color="#5f0096"/><stop offset="0.264" stop-color="#5f00c8"/><stop offset="0.307" stop-color="#3200f0"/><stop offset="0.333" stop-color="#0000ff"/><stop offset="0.362" stop-color="#003cff"/><stop offset="0.404" stop-color="#008cff"/><stop offset="0.437" stop-color="#00beff"/><stop offset="0.467" stop-color="#00f0ff"/><stop offset="0.530" stop-color="#00fff0"/><stop offset="0.573" stop-color="#00ffc8"/><stop offset="0.639" stop-color="#00ff78"/><stop offset="0.689" stop-color="#00ff5a"/><stop offset="0.738" stop-color="#00ffaa"/><stop offset="0.866" stop-color="#00ff96"/><stop offset="0.931" stop-color="#00ff92"/><stop offset="1.000" stop-color="#00ff64"/></linearGradient>
<rect x="283.7" y="374.00" width="64.60" height="4.00" fill="url(#c2s45)"/>
<linearGradient id="c2s46" gradientUnits="userSpaceOnUse" x1="289.70" y1="0" x2="360.19" y2="0"><stop offset="0.000" stop-color="#000000"/><stop offset="0.047" stop-color="#08000c"/><stop offset="0.089" stop-color="#280037"/><stop offset="0.146" stop-color="#460069"/><stop offset="0.209" stop-color="#5f0096"/><stop offset="0.263" stop-color="#5f00c8"/><stop offset="0.307" stop-color="#3200f0"/><stop offset="0.333" stop-color="#0000ff"/><stop offset="0.361" stop-color="#003cff"/><stop offset="0.402" stop-color="#008cff"/><stop offset="0.435" stop-color="#00beff"/><stop offset="0.464" stop-color="#00f0ff"/><stop offset="0.525" stop-color="#00fff0"/><stop offset="0.569" stop-color="#00ffc8"/><stop offset="0.635" stop-color="#00ff78"/><stop offset="0.686" stop-color="#00ff5a"/><stop offset="0.735" stop-color="#00ffaa"/><stop offset="0.867" stop-color="#00ff96"/><stop offset="0.932" stop-color="#00ff92"/><stop offset="1.000" stop-color="#00ff64"/></linearGradient>
<rect x="283.7" y="377.00" width="64.60" height="4.00" fill="url(#c2s46)"/>
<linearGradient id="c2s47" gradientUnits="userSpaceOnUse" x1="289.70" y1="0" x2="360.26" y2="0"><stop offset="0.000" stop-color="#000000"/><stop offset="0.047" stop-color="#08000c"/><stop offset="0.089" stop-color="#280037"/><stop offset="0.146" stop-color="#460069"/><stop offset="0.208" stop-color="#5f0096"/><stop offset="0.264" stop-color="#5f00c8"/><stop offset="0.308" stop-color="#3200f0"/><stop offset="0.333" stop-color="#0000ff"/><stop offset="0.360" stop-color="#003cff"/><stop offset="0.400" stop-color="#008cff"/><stop offset="0.433" stop-color="#00beff"/><stop offset="0.461" stop-color="#00f0ff"/><stop offset="0.520" stop-color="#00fff0"/><stop offset="0.564" stop-color="#00ffc8"/><stop offset="0.631" stop-color="#00ff78"/><stop offset="0.683" stop-color="#00ff5a"/><stop offset="0.732" stop-color="#00ffaa"/><stop offset="0.867" stop-color="#00ff96"/><stop offset="0.933" stop-color="#00ff92"/><stop offset="1.000" stop-color="#00ff64"/></linearGradient>
<rect x="283.7" y="380.00" width="64.60" height="4.00" fill="url(#c2s47)"/>
<linearGradient id="c2s48" gradientUnits="userSpaceOnUse" x1="289.70" y1="0" x2="360.34" y2="0"><stop offset="0.000" stop-color="#000000"/><stop offset="0.047" stop-color="#08000c"/><stop offset="0.089" stop-color="#280037"/><stop offset="0.146" stop-color="#460069"/><stop offset="0.208" stop-color="#5f0096"/><stop offset="0.264" stop-color="#5f00c8"/><stop offset="0.308" stop-color="#3200f0"/><stop offset="0.334" stop-color="#0000ff"/><stop offset="0.359" stop-color="#003cff"/><stop offset="0.398" stop-color="#008cff"/><stop offset="0.430" stop-color="#00beff"/><stop offset="0.458" stop-color="#00f0ff"/><stop offset="0.515" stop-color="#00fff0"/><stop offset="0.560" stop-color="#00ffc8"/><stop offset="0.628" stop-color="#00ff78"/><stop offset="0.680" stop-color="#00ff5a"/><stop offset="0.729" stop-color="#00ffaa"/><stop offset="0.868" stop-color="#00ff96"/><stop offset="0.934" stop-color="#00ff93"/><stop offset="1.000" stop-color="#00ff64"/></linearGradient>
<rect x="283.7" y="383.00" width="64.60" height="4.00" fill="url(#c2s48)"/>
<linearGradient id="c2s49" gradientUnits="userSpaceOnUse" x1="289.70" y1="0" x2="360.41" y2="0"><stop offset="0.000" stop-color="#000000"/><stop offset="0.047" stop-color="#08000c"/><stop offset="0.089" stop-color="#280037"/><stop offset="0.146" stop-color="#460069"/><stop offset="0.207" stop-color="#5f0096"/><stop offset="0.264" stop-color="#5f00c8"/><stop offset="0.309" stop-color="#3200f0"/><stop offset="0.334" stop-color="#0000ff"/><stop offset="0.358" stop-color="#003cff"/><stop offset="0.397" stop-color="#008cff"/><stop offset="0.428" stop-color="#00beff"/><stop offset="0.455" stop-color="#00f0ff"/><stop offset="0.511" stop-color="#00fff0"/><stop offset="0.555" stop-color="#00ffc8"/><stop offset="0.624" stop-color="#00ff78"/><stop offset="0.677" stop-color="#00ff5a"/><stop offset="0.726" stop-color="#00ffaa"/><stop offset="0.869" stop-color="#00ff96"/><stop offset="0.935" stop-color="#00ff93"/><stop offset="1.000" stop-color="#00ff64"/></linearGradient>
<rect x="283.7" y="386.00" width="64.60" height="4.00" fill="url(#c2s49)"/>
<linearGradient id="c2s50" gradientUnits="userSpaceOnUse" x1="289.70" y1="0" x2="360.49" y2="0"><stop offset="0.000" stop-color="#000000"/><stop offset="0.047" stop-color="#08000c"/><stop offset="0.089" stop-color="#280037"/><stop offset="0.146" stop-color="#460069"/><stop offset="0.207" stop-color="#5f0096"/><stop offset="0.264" stop-color="#5f00c8"/><stop offset="0.309" stop-color="#3200f0"/><stop offset="0.334" stop-color="#0000ff"/><stop offset="0.357" stop-color="#003cff"/><stop offset="0.395" stop-color="#008cff"/><stop offset="0.426" stop-color="#00beff"/><stop offset="0.452" stop-color="#00f0ff"/><stop offset="0.506" stop-color="#00fff0"/><stop offset="0.551" stop-color="#00ffc8"/><stop offset="0.620" stop-color="#00ff78"/><stop offset="0.675" stop-color="#00ff5a"/><stop offset="0.723" stop-color="#00ffaa"/><stop offset="0.869" stop-color="#00ff96"/><stop offset="0.936" stop-color="#00ff93"/><stop offset="1.000" stop-color="#00ff64"/></linearGradient>
<rect x="283.7" y="389.00" width="64.60" height="4.00" fill="url(#c2s50)"/>
<linearGradient id="c2s51" gradientUnits="userSpaceOnUse" x1="289.70" y1="0" x2="360.56" y2="0"><stop offset="0.000" stop-color="#000000"/><stop offset="0.047" stop-color="#08000c"/><stop offset="0.089" stop-color="#280037"/><stop offset="0.145" stop-color="#460069"/><stop offset="0.207" stop-color="#5f0096"/><stop offset="0.264" stop-color="#5f00c8"/><stop offset="0.310" stop-color="#3200f0"/><stop offset="0.335" stop-color="#0000ff"/><stop offset="0.356" stop-color="#003cff"/><stop offset="0.393" stop-color="#008cff"/><stop offset="0.424" stop-color="#00beff"/><stop offset="0.449" stop-color="#00f0ff"/><stop offset="0.501" stop-color="#00fff0"/><stop offset="0.546" stop-color="#00ffc8"/><stop offset="0.616" stop-color="#00ff78"/><stop offset="0.672" stop-color="#00ff5a"/><stop offset="0.719" stop-color="#00ffaa"/><stop offset="0.870" stop-color="#00ff96"/><stop offset="0.937" stop-color="#00ff94"/><stop offset="1.000" stop-color="#00ff64"/></linearGradient>
<rect x="283.7" y="392.00" width="64.60" height="4.00" fill="url(#c2s51)"/>
<linearGradient id="c2s52" gradientUnits="userSpaceOnUse" x1="289.70" y1="0" x2="360.64" y2="0"><stop offset="0.000" stop-color="#000000"/><stop offset="0.047" stop-color="#08000c"/><stop offset="0.089" stop-color="#280037"/><stop offset="0.145" stop-color="#460069"/><stop offset="0.206" stop-color="#5f0096"/><stop offset="0.264" stop-color="#5f00c8"/><stop offset="0.310" stop-color="#3200f0"/><stop offset="0.335" stop-color="#0000ff"/><stop offset="0.355" stop-color="#003cff"/><stop offset="0.391" stop-color="#008cff"/><stop offset="0.421" stop-color="#00beff"/><stop offset="0.446" stop-color="#00f0ff"/><stop offset="0.496" stop-color="#00fff0"/><stop offset="0.542" stop-color="#00ffc8"/><stop offset="0.613" stop-color="#00ff78"/><stop offset="0.669" stop-color="#00ff5a"/><stop offset="0.716" stop-color="#00ffaa"/><stop offset="0.871" stop-color="#00ff96"/><stop offset="0.939" stop-color="#00ff94"/><stop offset="1.000" stop-color="#00ff64"/></linearGradient>
<rect x="283.7" y="395.00" width="64.60" height="4.00" fill="url(#c2s52)"/>
<linearGradient id="c2s53" gradientUnits="userSpaceOnUse" x1="289.70" y1="0" x2="360.71" y2="0"><stop offset="0.000" stop-color="#000000"/><stop offset="0.046" stop-color="#08000c"/><stop offset="0.089" stop-color="#280037"/><stop offset="0.145" stop-color="#460069"/><stop offset="0.206" stop-color="#5f0096"/><stop offset="0.265" stop-color="#5f00c8"/><stop offset="0.310" stop-color="#3200f0"/><stop offset="0.336" stop-color="#0000ff"/><stop offset="0.355" stop-color="#003cff"/><stop offset="0.389" stop-color="#008cff"/><stop offset="0.419" stop-color="#00beff"/><stop offset="0.443" stop-color="#00f0ff"/><stop offset="0.491" stop-color="#00fff0"/><stop offset="0.537" stop-color="#00ffc8"/><stop offset="0.609" stop-color="#00ff78"/><stop offset="0.666" stop-color="#00ff5a"/><stop offset="0.713" stop-color="#00ffaa"/><stop offset="0.871" stop-color="#00ff96"/><stop offset="0.940" stop-color="#00ff95"/><stop offset="1.000" stop-color="#00ff64"/></linearGradient>
<rect x="283.7" y="398.00" width="64.60" height="4.00" fill="url(#c2s53)"/>
<linearGradient id="c2s54" gradientUnits="userSpaceOnUse" x1="289.70" y1="0" x2="360.79" y2="0"><stop offset="0.000" stop-color="#000000"/><stop offset="0.046" stop-color="#08000c"/><stop offset="0.089" stop-color="#280037"/><stop offset="0.145" stop-color="#460069"/><stop offset="0.205" stop-color="#5f0096"/><stop offset="0.265" stop-color="#5f00c8"/><stop offset="0.311" stop-color="#3200f0"/><stop offset="0.336" stop-color="#0000ff"/><stop offset="0.354" stop-color="#003cff"/><stop offset="0.388" stop-color="#008cff"/><stop offset="0.417" stop-color="#00beff"/><stop offset="0.440" stop-color="#00f0ff"/><stop offset="0.487" stop-color="#00fff0"/><stop offset="0.533" stop-color="#00ffc8"/><stop offset="0.605" stop-color="#00ff78"/><stop offset="0.663" stop-color="#00ff5a"/><stop offset="0.709" stop-color="#00ffaa"/><stop offset="0.872" stop-color="#00ff96"/><stop offset="0.941" stop-color="#00ff95"/><stop offset="1.000" stop-color="#00ff64"/></linearGradient>
<rect x="283.7" y="401.00" width="64.60" height="4.00" fill="url(#c2s54)"/>
<linearGradient id="c2s55" gradientUnits="userSpaceOnUse" x1="289.70" y1="0" x2="360.86" y2="0"><stop offset="0.000" stop-color="#000000"/><stop offset="0.046" stop-color="#08000c"/><stop offset="0.089" stop-color="#280037"/><stop offset="0.145" stop-color="#460069"/><stop offset="0.204" stop-color="#5f0096"/><stop offset="0.265" stop-color="#5f00c8"/><stop offset="0.312" stop-color="#3200f0"/><stop offset="0.337" stop-color="#0000ff"/><stop offset="0.354" stop-color="#003cff"/><stop offset="0.386" stop-color="#008cff"/><stop offset="0.414" stop-color="#00beff"/><stop offset="0.437" stop-color="#00f0ff"/><stop offset="0.483" stop-color="#00fff0"/><stop offset="0.530" stop-color="#00ffc8"/><stop offset="0.601" stop-color="#00ff78"/><stop offset="0.659" stop-color="#00ff5a"/><stop offset="0.706" stop-color="#00ffaa"/><stop offset="0.873" stop-color="#00ff96"/><stop offset="0.942" stop-color="#00ff95"/><stop offset="1.000" stop-color="#00ff64"/></linearGradient>
<rect x="283.7" y="404.00" width="64.60" height="4.00" fill="url(#c2s55)"/>
<linearGradient id="c2s56" gradientUnits="userSpaceOnUse" x1="289.70" y1="0" x2="360.94" y2="0"><stop offset="0.000" stop-color="#000000"/><stop offset="0.046" stop-color="#08000c"/><stop offset="0.088" stop-color="#280037"/><stop offset="0.145" stop-color="#460069"/><stop offset="0.203" stop-color="#5f0096"/><stop offset="0.265" stop-color="#5f00c8"/><stop offset="0.312" stop-color="#3200f0"/><stop offset="0.338" stop-color="#0000ff"/><stop offset="0.353" stop-color="#003cff"/><stop offset="0.384" stop-color="#008cff"/><stop offset="0.412" stop-color="#00beff"/><stop offset="0.434" stop-color="#00f0ff"/><stop offset="0.480" stop-color="#00fff0"/><stop offset="0.526" stop-color="#00ffc8"/><stop offset="0.598" stop-color="#00ff78"/><stop offset="0.656" stop-color="#00ff5a"/><stop offset="0.702" stop-color="#00ffaa"/><stop offset="0.873" stop-color="#00ff96"/><stop offset="0.943" stop-color="#00ff96"/><stop offset="1.000" stop-color="#00ff64"/></linearGradient>
<rect x="283.7" y="407.00" width="64.60" height="4.00" fill="url(#c2s56)"/>
<linearGradient id="c2s57" gradientUnits="userSpaceOnUse" x1="289.70" y1="0" x2="361.01" y2="0"><stop offset="0.000" stop-color="#000000"/><stop offset="0.046" stop-color="#08000c"/><stop offset="0.088" stop-color="#280037"/><stop offset="0.144" stop-color="#460069"/><stop offset="0.203" stop-color="#5f0096"/><stop offset="0.265" stop-color="#5f00c8"/><stop offset="0.313" stop-color="#3200f0"/><stop offset="0.339" stop-color="#0000ff"/><stop offset="0.353" stop-color="#003cff"/><stop offset="0.382" stop-color="#008cff"/><stop offset="0.409" stop-color="#00beff"/><stop offset="0.431" stop-color="#00f0ff"/><stop offset="0.476" stop-color="#00fff0"/><stop offset="0.522" stop-color="#00ffc8"/><stop offset="0.594" stop-color="#00ff78"/><stop offset="0.653" stop-color="#00ff5a"/><stop offset="0.699" stop-color="#00ffaa"/><stop offset="0.874" stop-color="#00ff96"/><stop offset="0.944" stop-color="#00ff96"/><stop offset="1.000" stop-color="#00ff64"/></linearGradient>
<rect x="283.7" y="410.00" width="64.60" height="4.00" fill="url(#c2s57)"/>
<linearGradient id="c2s58" gradientUnits="userSpaceOnUse" x1="289.70" y1="0" x2="361.09" y2="0"><stop offset="0.000" stop-color="#000000"/><stop offset="0.046" stop-color="#08000c"/><stop offset="0.088" stop-color="#280037"/><stop offset="0.144" stop-color="#460069"/><stop offset="0.202" stop-color="#5f0096"/><stop offset="0.265" stop-color="#5f00c8"/><stop offset="0.314" stop-color="#3200f0"/><stop offset="0.339" stop-color="#0000ff"/><stop offset="0.352" stop-color="#003cff"/><stop offset="0.380" stop-color="#008cff"/><stop offset="0.407" stop-color="#00beff"/><stop offset="0.428" stop-color="#00f0ff"/><stop offset="0.472" stop-color="#00fff0"/><stop offset="0.518" stop-color="#00ffc8"/><stop offset="0.590" stop-color="#00ff78"/><stop offset="0.650" stop-color="#00ff5a"/><stop offset="0.695" stop-color="#00ffaa"/><stop offset="0.875" stop-color="#00ff96"/><stop offset="0.945" stop-color="#00ff96"/><stop offset="1.000" stop-color="#00ff64"/></linearGradient>
<rect x="283.7" y="413.00" width="64.60" height="4.00" fill="url(#c2s58)"/>
<linearGradient id="c2s59" gradientUnits="userSpaceOnUse" x1="289.70" y1="0" x2="361.16" y2="0"><stop offset="0.000" stop-color="#000000"/><stop offset="0.046" stop-color="#08000c"/><stop offset="0.088" stop-color="#280037"/><stop offset="0.144" stop-color="#460069"/><stop offset="0.201" stop-color="#5f0096"/><stop offset="0.265" stop-color="#5f00c8"/><stop offset="0.314" stop-color="#3200f0"/><stop offset="0.340" stop-color="#0000ff"/><stop offset="0.352" stop-color="#003cff"/><stop offset="0.379" stop-color="#008cff"/><stop offset="0.405" stop-color="#00beff"/><stop offset="0.425" stop-color="#00f0ff"/><stop offset="0.468" stop-color="#00fff0"/><stop offset="0.514" stop-color="#00ffc8"/><stop offset="0.587" stop-color="#00ff78"/><stop offset="0.646" stop-color="#00ff5a"/><stop offset="0.691" stop-color="#00ffaa"/><stop offset="0.875" stop-color="#00ff96"/><stop offset="0.946" stop-color="#00ff96"/><stop offset="1.000" stop-color="#00ff64"/></linearGradient>
<rect x="283.7" y="416.00" width="64.60" height="4.00" fill="url(#c2s59)"/>
<linearGradient id="c2s60" gradientUnits="userSpaceOnUse" x1="289.70" y1="0" x2="361.24" y2="0"><stop offset="0.000" stop-color="#000000"/><stop offset="0.046" stop-color="#08000c"/><stop offset="0.088" stop-color="#280037"/><stop offset="0.144" stop-color="#460069"/><stop offset="0.200" stop-color="#5f0096"/><stop offset="0.265" stop-color="#5f00c8"/><stop offset="0.315" stop-color="#3200f0"/><stop offset="0.341" stop-color="#0000ff"/><stop offset="0.351" stop-color="#003cff"/><stop offset="0.377" stop-color="#008cff"/><stop offset="0.402" stop-color="#00beff"/><stop offset="0.422" stop-color="#00f0ff"/><stop offset="0.464" stop-color="#00fff0"/><stop offset="0.511" stop-color="#00ffc8"/><stop offset="0.583" stop-color="#00ff78"/><stop offset="0.643" stop-color="#00ff5a"/><stop offset="0.688" stop-color="#00ffaa"/><stop offset="0.876" stop-color="#00ff96"/><stop offset="0.947" stop-color="#00ff96"/><stop offset="1.000" stop-color="#00ff64"/></linearGradient>
<rect x="283.7" y="419.00" width="64.60" height="4.00" fill="url(#c2s60)"/>
</g>
<g filter="url(#sblur)">
<clipPath id="c2b0"><rect x="318" y="239.2" width="16" height="182.80"/></clipPath>
<path clip-path="url(#c2b0)" d="M318.00,237.20L297.45,424.00M327.00,237.20L306.45,424.00M336.00,237.20L315.45,424.00M345.00,237.20L324.45,424.00M354.00,237.20L333.45,424.00M363.00,237.20L342.45,424.00" stroke="rgb(60,255,255)" stroke-opacity="0.5" stroke-width="2.2" fill="none"/>
<clipPath id="c2b1"><rect x="334" y="239.2" width="18" height="182.80"/></clipPath>
<path clip-path="url(#c2b1)" d="M337.10,237.20L316.55,424.00M346.10,237.20L325.55,424.00M355.10,237.20L334.55,424.00M364.10,237.20L343.55,424.00M373.10,237.20L352.55,424.00" stroke="rgb(0,255,255)" stroke-opacity="0.4" stroke-width="2.2" fill="none"/>
<clipPath id="c2b2"><rect x="352" y="239.2" width="32" height="182.80"/></clipPath>
<path clip-path="url(#c2b2)" d="M358.20,237.20L337.65,424.00M367.20,237.20L346.65,424.00M376.20,237.20L355.65,424.00M385.20,237.20L364.65,424.00M394.20,237.20L373.65,424.00M403.20,237.20L382.65,424.00M412.20,237.20L391.65,424.00" stroke="rgb(130,255,0)" stroke-opacity="0.45" stroke-width="2.2" fill="none"/>
<clipPath id="c2b3"><rect x="384" y="239.2" width="12" height="182.80"/></clipPath>
<path clip-path="url(#c2b3)" d="M384.30,237.20L363.75,424.00M393.30,237.20L372.75,424.00M402.30,237.20L381.75,424.00M411.30,237.20L390.75,424.00M420.30,237.20L399.75,424.00" stroke="rgb(0,255,255)" stroke-opacity="0.35" stroke-width="2.2" fill="none"/>
<clipPath id="c2b4"><rect x="432" y="239.2" width="23" height="182.80"/></clipPath>
<path clip-path="url(#c2b4)" d="M435.40,237.20L414.85,424.00M444.40,237.20L423.85,424.00M453.40,237.20L432.85,424.00M462.40,237.20L441.85,424.00M471.40,237.20L450.85,424.00M480.40,237.20L459.85,424.00" stroke="rgb(80,255,0)" stroke-opacity="0.25" stroke-width="2.2" fill="none"/>
<path d="M394.0,255.0L416.0,400.0" stroke="rgb(0,130,255)" stroke-opacity="0.45" stroke-width="3" fill="none"/>
<path d="M402.0,240.0L421.0,385.0" stroke="rgb(0,130,255)" stroke-opacity="0.45" stroke-width="3" fill="none"/>
</g>
<ellipse cx="442.3" cy="330" rx="13" ry="50" fill="url(#yb)"/>
</g>
<rect x="289.70" y="239.20" width="182.50" height="182.80" fill="none" stroke="#000" stroke-width="1" stroke-opacity="0.55"/>
<path d="M312.46,422.00V413.20M312.46,239.20V248.00M339.09,422.00V413.20M339.09,239.20V248.00M365.71,422.00V413.20M365.71,239.20V248.00M392.33,422.00V413.20M392.33,239.20V248.00M418.95,422.00V413.20M418.95,239.20V248.00M445.58,422.00V413.20M445.58,239.20V248.00M472.20,422.00V413.20M472.20,239.20V248.00" stroke="#000" stroke-width="1" stroke-opacity="0.6" fill="none"/>
<path d="M292.50,422.00V417.60M292.50,239.20V243.60M299.15,422.00V417.60M299.15,239.20V243.60M305.81,422.00V417.60M305.81,239.20V243.60M319.12,422.00V417.60M319.12,239.20V243.60M325.77,422.00V417.60M325.77,239.20V243.60M332.43,422.00V417.60M332.43,239.20V243.60M345.74,422.00V417.60M345.74,239.20V243.60M352.40,422.00V417.60M352.40,239.20V243.60M359.05,422.00V417.60M359.05,239.20V243.60M372.36,422.00V417.60M372.36,239.20V243.60M379.02,422.00V417.60M379.02,239.20V243.60M385.68,422.00V417.60M385.68,239.20V243.60M398.99,422.00V417.60M398.99,239.20V243.60M405.64,422.00V417.60M405.64,239.20V243.60M412.30,422.00V417.60M412.30,239.20V243.60M425.61,422.00V417.60M425.61,239.20V243.60M432.27,422.00V417.60M432.27,239.20V243.60M438.92,422.00V417.60M438.92,239.20V243.60M452.23,422.00V417.60M452.23,239.20V243.60M458.89,422.00V417.60M458.89,239.20V243.60M465.54,422.00V417.60M465.54,239.20V243.60" stroke="#000" stroke-width="1" stroke-opacity="0.6" fill="none"/>
<path d="M289.70,417.88H298.50M472.20,417.88H463.40M289.70,388.79H298.50M472.20,388.79H463.40M289.70,359.69H298.50M472.20,359.69H463.40M289.70,330.60H298.50M472.20,330.60H463.40M289.70,301.51H298.50M472.20,301.51H463.40M289.70,272.41H298.50M472.20,272.41H463.40M289.70,243.32H298.50M472.20,243.32H463.40" stroke="#000" stroke-width="1" stroke-opacity="0.5" fill="none"/>
<path d="M289.70,420.79H294.10M472.20,420.79H467.80M289.70,414.97H294.10M472.20,414.97H467.80M289.70,412.06H294.10M472.20,412.06H467.80M289.70,409.15H294.10M472.20,409.15H467.80M289.70,406.24H294.10M472.20,406.24H467.80M289.70,403.33H294.10M472.20,403.33H467.80M289.70,400.42H294.10M472.20,400.42H467.80M289.70,397.52H294.10M472.20,397.52H467.80M289.70,394.61H294.10M472.20,394.61H467.80M289.70,391.70H294.10M472.20,391.70H467.80M289.70,385.88H294.10M472.20,385.88H467.80M289.70,382.97H294.10M472.20,382.97H467.80M289.70,380.06H294.10M472.20,380.06H467.80M289.70,377.15H294.10M472.20,377.15H467.80M289.70,374.24H294.10M472.20,374.24H467.80M289.70,371.33H294.10M472.20,371.33H467.80M289.70,368.42H294.10M472.20,368.42H467.80M289.70,365.51H294.10M472.20,365.51H467.80M289.70,362.60H294.10M472.20,362.60H467.80M289.70,356.78H294.10M472.20,356.78H467.80M289.70,353.87H294.10M472.20,353.87H467.80M289.70,350.97H294.10M472.20,350.97H467.80M289.70,348.06H294.10M472.20,348.06H467.80M289.70,345.15H294.10M472.20,345.15H467.80M289.70,342.24H294.10M472.20,342.24H467.80M289.70,339.33H294.10M472.20,339.33H467.80M289.70,336.42H294.10M472.20,336.42H467.80M289.70,333.51H294.10M472.20,333.51H467.80M289.70,327.69H294.10M472.20,327.69H467.80M289.70,324.78H294.10M472.20,324.78H467.80M289.70,321.87H294.10M472.20,321.87H467.80M289.70,318.96H294.10M472.20,318.96H467.80M289.70,316.05H294.10M472.20,316.05H467.80M289.70,313.14H294.10M472.20,313.14H467.80M289.70,310.23H294.10M472.20,310.23H467.80M289.70,307.33H294.10M472.20,307.33H467.80M289.70,304.42H294.10M472.20,304.42H467.80M289.70,298.60H294.10M472.20,298.60H467.80M289.70,295.69H294.10M472.20,295.69H467.80M289.70,292.78H294.10M472.20,292.78H467.80M289.70,289.87H294.10M472.20,289.87H467.80M289.70,286.96H294.10M472.20,286.96H467.80M289.70,284.05H294.10M472.20,284.05H467.80M289.70,281.14H294.10M472.20,281.14H467.80M289.70,278.23H294.10M472.20,278.23H467.80M289.70,275.32H294.10M472.20,275.32H467.80M289.70,269.50H294.10M472.20,269.50H467.80M289.70,266.59H294.10M472.20,266.59H467.80M289.70,263.68H294.10M472.20,263.68H467.80M289.70,260.78H294.10M472.20,260.78H467.80M289.70,257.87H294.10M472.20,257.87H467.80M289.70,254.96H294.10M472.20,254.96H467.80M289.70,252.05H294.10M472.20,252.05H467.80M289.70,249.14H294.10M472.20,249.14H467.80M289.70,246.23H294.10M472.20,246.23H467.80M289.70,240.41H294.10M472.20,240.41H467.80" stroke="#000" stroke-width="1" stroke-opacity="0.5" fill="none"/>
<rect x="23.3" y="239.3" width="7.70" height="183.00" fill="url(#gcb)"/>
<path d="M23.3,239.8H31.0" stroke="rgb(150,185,185)" stroke-width="1"/>
<g clip-path="url(#cp1)" fill="none" stroke-linejoin="round" stroke-linecap="round">
<path d="M165.00,2.00 L165.60,23.00 L167.30,2.00 L168.50,71.50 L169.60,22.30 L173.70,116.00 L175.30,43.00 L182.00,121.00 L184.00,73.00 L185.70,89.00 L188.30,102.00 L190.60,145.00 L192.60,80.60 L194.30,60.30 L197.80,97.90 L200.30,112.00 L202.60,136.30 L205.20,71.00 L206.30,89.00 L208.80,97.70 L210.70,137.60 L214.80,69.30 L216.70,100.00 L217.60,117.70 L219.70,127.50 L221.40,103.10 L223.40,89.00 L224.40,109.10 L226.10,114.30 L228.70,95.20 L230.90,109.10 L233.40,100.60 L236.90,122.00 L237.70,109.10 L239.90,122.00 L241.10,103.10 L244.10,113.40 L247.10,108.30 L248.80,119.40 L251.40,110.40 L253.10,119.40 L254.80,121.60 L256.20,67.40 L259.60,74.60 L260.60,78.00 L262.00,73.80 L263.40,75.40 L266.40,104.90 L268.10,76.30 L271.10,82.30 L271.70,95.70 L273.30,85.00 L273.90,118.60 L276.40,100.00 L278.10,79.40 L279.40,87.10 L280.70,113.40 L282.00,95.70 L284.10,100.00 L285.90,110.00 L288.00,103.00 L290.10,114.70 L292.70,105.70 L295.70,120.30 L297.80,113.40 L300.80,122.40 L302.40,113.40 L302.80,79.40 L304.30,84.60 L306.00,98.30 L307.30,116.90 L308.20,104.30 L310.40,116.00 L314.60,95.70 L316.20,108.60 L317.80,105.30 L320.00,112.80 L321.10,106.40 L323.20,115.00 L326.40,109.60 L329.60,118.20 L332.80,113.90 L336.00,119.30 L338.20,116.00 L340.90,122.50 L343.00,116.00 L345.70,122.50 L347.30,117.10 L348.90,100.00 L350.00,102.10 L351.50,99.00" stroke="#000" stroke-width="1.0"/>
<path d="M174.60,44.00 L175.30,37.70 L176.20,44.00" stroke="#000" stroke-width="2"/>
<path d="M173.40,112.00 L174.60,121.30 L175.20,112.00" stroke="#000" stroke-width="2"/>
<path d="M179.60,100.00 L180.30,106.50 L181.00,100.00" stroke="#000" stroke-width="2"/>
<path d="M192.00,80.50 L194.00,78.80 L196.60,81.40" stroke="#000" stroke-width="2"/>
<path d="M194.30,93.50 L194.50,98.00" stroke="#000" stroke-width="2"/>
<path d="M211.60,89.00 L213.40,108.50" stroke="#000" stroke-width="2"/>
<path d="M189.40,115.50 L189.80,119.00" stroke="#000" stroke-width="2"/>
<path d="M209.00,121.50 L209.60,126.00" stroke="#000" stroke-width="2"/>
<path d="M221.50,95.00 L222.00,91.50 L222.60,95.00" stroke="#000" stroke-width="2"/>
<path d="M231.00,108.00 L231.80,111.50 L232.60,108.00" stroke="#000" stroke-width="2"/>
<path d="M249.30,120.00 L251.00,121.00 L252.70,120.00" stroke="#000" stroke-width="2"/>
<path d="M255.80,68.00 L257.00,59.30 L258.50,68.60 L260.00,71.00 L261.70,69.40 L263.00,74.00" stroke="#000" stroke-width="2"/>
<path d="M268.30,76.00 L269.40,73.20 L270.20,74.00 L271.00,80.00" stroke="#000" stroke-width="2"/>
<path d="M276.00,100.50 L276.80,101.00" stroke="#000" stroke-width="2"/>
<path d="M284.60,107.00 L285.40,108.50" stroke="#000" stroke-width="2"/>
<path d="M303.30,80.00 L304.30,84.60 L305.50,95.00" stroke="#000" stroke-width="2"/>
<path d="M307.20,106.00 L308.10,106.00" stroke="#000" stroke-width="2"/>
<path d="M300.80,122.80 L301.60,123.20" stroke="#000" stroke-width="2"/>
<path d="M317.20,105.50 L318.00,105.80" stroke="#000" stroke-width="2"/>
<path d="M326.20,115.20 L327.00,115.60" stroke="#000" stroke-width="2"/>
<path d="M339.80,123.50 L341.00,124.20" stroke="#000" stroke-width="2"/>
<path d="M165.00,2.00 L165.60,23.00 L167.30,2.00 L168.50,71.50 L169.60,22.30 L173.70,116.00 L175.30,43.00 L182.00,121.00 L184.00,73.00 L185.70,89.00 L188.30,102.00 L190.60,145.00 L192.60,80.60 L194.30,60.30 L197.80,97.90 L200.30,112.00 L202.60,136.30 L205.20,71.00 L206.30,89.00 L208.80,97.70 L210.70,137.60 L214.80,69.30 L216.70,100.00 L217.60,117.70 L219.70,127.50 L221.40,103.10 L223.40,89.00 L224.40,109.10 L226.10,114.30 L228.70,95.20 L230.90,109.10 L233.40,100.60 L236.90,122.00 L237.70,109.10 L239.90,122.00 L241.10,103.10 L244.10,113.40 L247.10,108.30 L248.80,119.40 L251.40,110.40 L253.10,119.40 L254.80,121.60 L256.20,67.40 L259.60,74.60 L260.60,78.00 L262.00,73.80 L263.40,75.40 L266.40,104.90 L268.10,76.30 L271.10,82.30 L271.70,95.70 L273.30,85.00 L273.90,118.60 L276.40,100.00 L278.10,79.40 L279.40,87.10 L280.70,113.40 L282.00,95.70 L284.10,100.00 L285.90,110.00 L288.00,103.00 L290.10,114.70 L292.70,105.70 L295.70,120.30 L297.80,113.40 L300.80,122.40 L302.40,113.40 L302.80,79.40 L304.30,84.60 L306.00,98.30 L307.30,116.90 L308.20,104.30 L310.40,116.00 L314.60,95.70 L316.20,108.60 L317.80,105.30 L320.00,112.80 L321.10,106.40 L323.20,115.00 L326.40,109.60 L329.60,118.20 L332.80,113.90 L336.00,119.30 L338.20,116.00 L340.90,122.50 L343.00,116.00 L345.70,122.50 L347.30,117.10 L348.90,100.00 L350.00,102.10 L351.50,99.00" stroke="#00ffff" stroke-width="2"/>
</g>
<rect x="96.30" y="4.50" width="255.20" height="182.50" fill="none" stroke="#000" stroke-width="1.6" stroke-opacity="1.0"/>
<path d="M96.30,187.00V183.30M96.30,4.50V8.20M147.34,187.00V183.30M147.34,4.50V8.20M198.38,187.00V183.30M198.38,4.50V8.20M249.42,187.00V183.30M249.42,4.50V8.20M300.46,187.00V183.30M300.46,4.50V8.20M351.50,187.00V183.30M351.50,4.50V8.20" stroke="#000" stroke-width="1.6" stroke-opacity="1.0" fill="none"/>
<path d="M106.51,187.00V185.10M106.51,4.50V6.40M116.72,187.00V185.10M116.72,4.50V6.40M126.92,187.00V185.10M126.92,4.50V6.40M137.13,187.00V185.10M137.13,4.50V6.40M157.55,187.00V185.10M157.55,4.50V6.40M167.76,187.00V185.10M167.76,4.50V6.40M177.96,187.00V185.10M177.96,4.50V6.40M188.17,187.00V185.10M188.17,4.50V6.40M208.59,187.00V185.10M208.59,4.50V6.40M218.80,187.00V185.10M218.80,4.50V6.40M229.00,187.00V185.10M229.00,4.50V6.40M239.21,187.00V185.10M239.21,4.50V6.40M259.63,187.00V185.10M259.63,4.50V6.40M269.84,187.00V185.10M269.84,4.50V6.40M280.04,187.00V185.10M280.04,4.50V6.40M290.25,187.00V185.10M290.25,4.50V6.40M310.67,187.00V185.10M310.67,4.50V6.40M320.88,187.00V185.10M320.88,4.50V6.40M331.08,187.00V185.10M331.08,4.50V6.40M341.29,187.00V185.10M341.29,4.50V6.40" stroke="#000" stroke-width="1.6" stroke-opacity="1.0" fill="none"/>
<path d="M96.30,187.00H101.40M351.50,187.00H346.40M96.30,150.50H101.40M351.50,150.50H346.40M96.30,114.00H101.40M351.50,114.00H346.40M96.30,77.50H101.40M351.50,77.50H346.40M96.30,41.00H101.40M351.50,41.00H346.40M96.30,4.50H101.40M351.50,4.50H346.40" stroke="#000" stroke-width="1.6" stroke-opacity="1.0" fill="none"/>
<path d="M96.30,183.35H98.90M351.50,183.35H348.90M96.30,179.70H98.90M351.50,179.70H348.90M96.30,176.05H98.90M351.50,176.05H348.90M96.30,172.40H98.90M351.50,172.40H348.90M96.30,168.75H98.90M351.50,168.75H348.90M96.30,165.10H98.90M351.50,165.10H348.90M96.30,161.45H98.90M351.50,161.45H348.90M96.30,157.80H98.90M351.50,157.80H348.90M96.30,154.15H98.90M351.50,154.15H348.90M96.30,146.85H98.90M351.50,146.85H348.90M96.30,143.20H98.90M351.50,143.20H348.90M96.30,139.55H98.90M351.50,139.55H348.90M96.30,135.90H98.90M351.50,135.90H348.90M96.30,132.25H98.90M351.50,132.25H348.90M96.30,128.60H98.90M351.50,128.60H348.90M96.30,124.95H98.90M351.50,124.95H348.90M96.30,121.30H98.90M351.50,121.30H348.90M96.30,117.65H98.90M351.50,117.65H348.90M96.30,110.35H98.90M351.50,110.35H348.90M96.30,106.70H98.90M351.50,106.70H348.90M96.30,103.05H98.90M351.50,103.05H348.90M96.30,99.40H98.90M351.50,99.40H348.90M96.30,95.75H98.90M351.50,95.75H348.90M96.30,92.10H98.90M351.50,92.10H348.90M96.30,88.45H98.90M351.50,88.45H348.90M96.30,84.80H98.90M351.50,84.80H348.90M96.30,81.15H98.90M351.50,81.15H348.90M96.30,73.85H98.90M351.50,73.85H348.90M96.30,70.20H98.90M351.50,70.20H348.90M96.30,66.55H98.90M351.50,66.55H348.90M96.30,62.90H98.90M351.50,62.90H348.90M96.30,59.25H98.90M351.50,59.25H348.90M96.30,55.60H98.90M351.50,55.60H348.90M96.30,51.95H98.90M351.50,51.95H348.90M96.30,48.30H98.90M351.50,48.30H348.90M96.30,44.65H98.90M351.50,44.65H348.90M96.30,37.35H98.90M351.50,37.35H348.90M96.30,33.70H98.90M351.50,33.70H348.90M96.30,30.05H98.90M351.50,30.05H348.90M96.30,26.40H98.90M351.50,26.40H348.90M96.30,22.75H98.90M351.50,22.75H348.90M96.30,19.10H98.90M351.50,19.10H348.90M96.30,15.45H98.90M351.50,15.45H348.90M96.30,11.80H98.90M351.50,11.80H348.90M96.30,8.15H98.90M351.50,8.15H348.90" stroke="#000" stroke-width="1.6" stroke-opacity="1.0" fill="none"/>
<path d="M96.2,187.6V3.8" stroke="#00ffff" stroke-width="1.9"/>
<g fill="none" stroke-linejoin="round">
<path d="M478.60,187.50 C478.73,184.58 479.12,175.75 479.40,170.00 C479.68,164.25 480.00,158.17 480.30,153.00 C480.60,147.83 480.87,143.17 481.20,139.00 C481.53,134.83 481.87,131.50 482.30,128.00 C482.73,124.50 483.22,121.67 483.80,118.00 C484.38,114.33 484.97,109.67 485.80,106.00 C486.63,102.33 487.63,99.25 488.80,96.00 C489.97,92.75 491.47,89.17 492.80,86.50 C494.13,83.83 495.47,81.83 496.80,80.00 C498.13,78.17 499.43,76.62 500.80,75.50 C502.17,74.38 503.47,73.72 505.00,73.30 C506.53,72.88 508.67,72.92 510.00,73.00 C511.33,73.08 512.05,73.52 513.00,73.80 C513.95,74.08 514.70,74.75 515.70,74.70 C516.70,74.65 517.78,74.08 519.00,73.50 C520.22,72.92 521.50,71.93 523.00,71.20 C524.50,70.47 526.50,69.53 528.00,69.10 C529.50,68.67 530.38,68.37 532.00,68.60 C533.62,68.83 535.78,69.53 537.70,70.50 C539.62,71.47 541.55,73.10 543.50,74.40 C545.45,75.70 547.62,77.03 549.40,78.30 C551.18,79.57 552.67,81.10 554.20,82.00 C555.73,82.90 557.22,83.78 558.60,83.70 C559.98,83.62 561.10,82.62 562.50,81.50 C563.90,80.38 565.58,78.58 567.00,77.00 C568.42,75.42 569.40,73.27 571.00,72.00 C572.60,70.73 575.10,69.68 576.60,69.40 C578.10,69.12 578.93,69.65 580.00,70.30 C581.07,70.95 582.00,71.93 583.00,73.30 C584.00,74.67 585.00,76.38 586.00,78.50 C587.00,80.62 588.00,83.17 589.00,86.00 C590.00,88.83 591.12,92.33 592.00,95.50 C592.88,98.67 593.43,101.02 594.30,105.00 C595.17,108.98 596.15,114.07 597.20,119.40 C598.25,124.73 599.42,130.92 600.60,137.00 C601.78,143.08 603.00,150.03 604.30,155.90 C605.60,161.77 607.25,167.68 608.40,172.20 C609.55,176.72 610.53,180.45 611.20,183.00 C611.87,185.55 612.20,186.75 612.40,187.50" stroke="#000" stroke-width="2"/>
<path d="M479.50,187.50 C479.63,184.78 480.03,176.58 480.30,171.20 C480.57,165.82 480.83,160.02 481.10,155.20 C481.37,150.38 481.63,146.32 481.90,142.30 C482.17,138.28 482.35,134.58 482.70,131.10 C483.05,127.62 483.60,124.08 484.00,121.40 C484.40,118.72 484.63,117.52 485.10,115.00 C485.57,112.48 485.98,109.47 486.80,106.30 C487.62,103.13 488.82,99.22 490.00,96.00 C491.18,92.78 492.62,89.57 493.90,87.00 C495.18,84.43 496.42,82.42 497.70,80.60 C498.98,78.78 500.32,77.28 501.60,76.10 C502.88,74.92 503.90,74.03 505.40,73.50 C506.90,72.97 508.88,72.90 510.60,72.90 C512.32,72.90 514.20,73.50 515.70,73.50 C517.20,73.50 518.32,73.33 519.60,72.90 C520.88,72.47 521.90,71.55 523.40,70.90 C524.90,70.25 527.18,69.38 528.60,69.00 C530.02,68.62 530.38,68.35 531.90,68.60 C533.42,68.85 535.77,69.53 537.70,70.50 C539.63,71.47 541.55,73.10 543.50,74.40 C545.45,75.70 547.62,77.00 549.40,78.30 C551.18,79.60 552.58,81.15 554.20,82.20 C555.82,83.25 557.63,84.60 559.10,84.60 C560.57,84.60 561.70,83.40 563.00,82.20 C564.30,81.00 565.60,79.35 566.90,77.40 C568.20,75.45 569.35,72.28 570.80,70.50 C572.25,68.72 574.32,67.18 575.60,66.70 C576.88,66.22 577.37,66.63 578.50,67.60 C579.63,68.57 581.10,70.72 582.40,72.50 C583.70,74.28 585.17,76.03 586.30,78.30 C587.43,80.57 588.23,83.18 589.20,86.10 C590.17,89.02 591.10,91.62 592.10,95.80 C593.10,99.98 594.18,105.92 595.20,111.20 C596.22,116.48 597.20,122.08 598.20,127.50 C599.20,132.92 600.02,138.28 601.20,143.70 C602.38,149.12 603.93,155.25 605.30,160.00 C606.67,164.75 608.05,168.82 609.40,172.20 C610.75,175.58 612.20,177.75 613.40,180.30 C614.60,182.85 616.07,186.30 616.60,187.50" stroke="#f00" stroke-width="2"/>
</g>
<rect x="425.00" y="4.40" width="255.00" height="182.60" fill="none" stroke="#000" stroke-width="1.6" stroke-opacity="1.0"/>
<path d="M425.00,187.00V183.30M425.00,4.40V8.10M510.00,187.00V183.30M510.00,4.40V8.10M595.00,187.00V183.30M595.00,4.40V8.10M680.00,187.00V183.30M680.00,4.40V8.10" stroke="#000" stroke-width="1.6" stroke-opacity="1.0" fill="none"/>
<path d="M450.59,187.00V185.10M450.59,4.40V6.30M465.56,187.00V185.10M465.56,4.40V6.30M476.18,187.00V185.10M476.18,4.40V6.30M484.41,187.00V185.10M484.41,4.40V6.30M491.14,187.00V185.10M491.14,4.40V6.30M496.83,187.00V185.10M496.83,4.40V6.30M501.76,187.00V185.10M501.76,4.40V6.30M506.11,187.00V185.10M506.11,4.40V6.30M535.59,187.00V185.10M535.59,4.40V6.30M550.56,187.00V185.10M550.56,4.40V6.30M561.18,187.00V185.10M561.18,4.40V6.30M569.41,187.00V185.10M569.41,4.40V6.30M576.14,187.00V185.10M576.14,4.40V6.30M581.83,187.00V185.10M581.83,4.40V6.30M586.76,187.00V185.10M586.76,4.40V6.30M591.11,187.00V185.10M591.11,4.40V6.30M620.59,187.00V185.10M620.59,4.40V6.30M635.56,187.00V185.10M635.56,4.40V6.30M646.18,187.00V185.10M646.18,4.40V6.30M654.41,187.00V185.10M654.41,4.40V6.30M661.14,187.00V185.10M661.14,4.40V6.30M666.83,187.00V185.10M666.83,4.40V6.30M671.76,187.00V185.10M671.76,4.40V6.30M676.11,187.00V185.10M676.11,4.40V6.30" stroke="#000" stroke-width="1.6" stroke-opacity="1.0" fill="none"/>
<path d="M425.00,187.00H430.10M680.00,187.00H674.90M425.00,141.35H430.10M680.00,141.35H674.90M425.00,95.70H430.10M680.00,95.70H674.90M425.00,50.05H430.10M680.00,50.05H674.90M425.00,4.40H430.10M680.00,4.40H674.90" stroke="#000" stroke-width="1.6" stroke-opacity="1.0" fill="none"/>
<path d="M425.00,173.26H427.60M680.00,173.26H677.40M425.00,165.22H427.60M680.00,165.22H677.40M425.00,159.52H427.60M680.00,159.52H677.40M425.00,155.09H427.60M680.00,155.09H677.40M425.00,151.48H427.60M680.00,151.48H677.40M425.00,148.42H427.60M680.00,148.42H677.40M425.00,145.77H427.60M680.00,145.77H677.40M425.00,143.44H427.60M680.00,143.44H677.40M425.00,127.61H427.60M680.00,127.61H677.40M425.00,119.57H427.60M680.00,119.57H677.40M425.00,113.87H427.60M680.00,113.87H677.40M425.00,109.44H427.60M680.00,109.44H677.40M425.00,105.83H427.60M680.00,105.83H677.40M425.00,102.77H427.60M680.00,102.77H677.40M425.00,100.12H427.60M680.00,100.12H677.40M425.00,97.79H427.60M680.00,97.79H677.40M425.00,81.96H427.60M680.00,81.96H677.40M425.00,73.92H427.60M680.00,73.92H677.40M425.00,68.22H427.60M680.00,68.22H677.40M425.00,63.79H427.60M680.00,63.79H677.40M425.00,60.18H427.60M680.00,60.18H677.40M425.00,57.12H427.60M680.00,57.12H677.40M425.00,54.47H427.60M680.00,54.47H677.40M425.00,52.14H427.60M680.00,52.14H677.40M425.00,36.31H427.60M680.00,36.31H677.40M425.00,28.27H427.60M680.00,28.27H677.40M425.00,22.57H427.60M680.00,22.57H677.40M425.00,18.14H427.60M680.00,18.14H677.40M425.00,14.53H427.60M680.00,14.53H677.40M425.00,11.47H427.60M680.00,11.47H677.40M425.00,8.82H427.60M680.00,8.82H677.40M425.00,6.49H427.60M680.00,6.49H677.40" stroke="#000" stroke-width="1.6" stroke-opacity="1.0" fill="none"/>
<path d="M574.7,31.7H593" stroke="#000" stroke-width="2"/>
<path d="M574.7,45.8H593" stroke="#f00" stroke-width="2"/>
<g clip-path="url(#cp4)" fill="none" stroke-linejoin="round">
<path d="M570.80,315.50 L570.80,327.50 L571.20,335.00 L572.00,366.40 L572.70,335.00 L573.50,334.20 L574.20,365.00 L575.70,342.50 L576.50,341.70 L577.20,348.40 L578.00,362.00 L578.70,362.70 L579.80,356.00 L580.70,353.00 L581.70,354.40 L583.20,360.40 L584.70,362.70 L586.20,361.20 L587.70,358.20 L589.20,357.40 L590.70,360.40 L593.00,359.00 L594.50,357.40 L596.70,359.70 L599.00,362.70 L600.90,364.40 L603.80,366.20 L606.80,366.50 L610.30,365.80 L613.80,364.40 L616.20,363.60 L618.50,363.80 L620.90,365.00 L623.80,366.20 L625.60,369.10 L627.40,373.80 L629.10,379.70 L630.90,386.80 L632.30,389.00 L634.30,390.00 L637.40,388.00 L640.40,390.00 L642.40,392.00 L644.50,389.00 L645.50,380.80 L646.50,370.60 L648.50,356.40 L649.40,349.80 L651.00,339.80 L652.40,330.90 L653.90,323.40 L655.40,315.90 L656.90,309.20 L658.10,304.70 L659.20,298.00 L659.90,292.00 L660.70,289.00 L662.20,288.20 L663.70,286.70 L665.90,282.20 L668.10,278.90 L670.40,275.50 L672.60,271.00 L673.70,273.20 L676.00,269.90 L678.20,267.60 L680.50,262.00 L682.70,257.50 L685.00,256.40 L687.20,257.50 L689.50,251.90 L691.70,245.10 L694.00,241.70 L697.40,240.60 L700.70,240.00" stroke="#000" stroke-width="2"/>
<path d="M570.50,326.00 L571.20,335.00 L572.00,367.20 L572.70,334.20 L573.50,335.00 L574.20,339.50 L575.00,360.40 L575.70,350.00 L576.50,349.20 L577.20,353.00 L578.00,359.00 L578.70,350.00 L579.80,351.40 L580.70,357.40 L581.70,360.40 L584.00,361.20 L586.20,362.00 L588.50,362.00 L590.70,359.70 L593.00,357.40 L595.20,358.20 L597.40,356.40 L599.70,355.20 L602.00,356.40 L604.40,355.90 L606.80,355.60 L609.70,355.00 L612.60,355.60 L615.00,356.40 L616.80,358.50 L618.50,362.60 L620.30,365.40 L621.50,365.60 L622.60,363.20 L623.80,356.20 L625.40,351.50 L626.50,350.90 L627.40,353.80 L628.30,362.00 L629.40,373.80 L630.00,390.00 L630.40,421.50 L631.30,421.50 L631.90,391.00 L632.90,370.60 L634.20,362.00 L635.00,361.50 L636.30,365.60 L638.40,380.80 L640.40,377.80 L642.40,370.60 L645.50,366.60 L646.50,364.60 L648.00,349.80 L649.40,336.80 L650.60,320.40 L651.70,314.40 L652.70,318.90 L653.60,330.90 L654.20,333.10 L655.10,320.40 L656.20,310.00 L657.20,307.00 L658.10,309.20 L659.20,305.40 L659.90,301.70 L661.00,299.40 L661.90,304.70 L662.90,298.00 L664.10,295.00 L665.10,298.80 L666.80,293.70 L669.40,291.10 L671.10,289.40 L672.80,286.80 L674.00,284.30 L675.40,286.80 L677.10,286.00 L678.80,286.80 L680.50,286.80 L681.40,293.70 L682.30,310.00 L683.10,307.40 L684.00,300.50 L684.80,303.00 L685.70,322.80 L686.50,348.50 L687.00,340.00 L687.40,314.20 L688.30,288.60 L689.10,283.40 L690.80,278.00 L694.00,264.20 L696.20,260.90 L698.50,257.50 L700.70,254.10 L701.70,253.00" stroke="#f00" stroke-width="2"/>
</g>
<rect x="534.70" y="239.30" width="167.00" height="182.70" fill="none" stroke="#000" stroke-width="1.6" stroke-opacity="1.0"/>
<path d="M534.70,422.00V418.30M534.70,239.30V243.00M590.37,422.00V418.30M590.37,239.30V243.00M646.03,422.00V418.30M646.03,239.30V243.00M701.70,422.00V418.30M701.70,239.30V243.00" stroke="#000" stroke-width="1.6" stroke-opacity="1.0" fill="none"/>
<path d="M551.46,422.00V420.10M551.46,239.30V241.20M561.26,422.00V420.10M561.26,239.30V241.20M568.21,422.00V420.10M568.21,239.30V241.20M573.61,422.00V420.10M573.61,239.30V241.20M578.02,422.00V420.10M578.02,239.30V241.20M581.74,422.00V420.10M581.74,239.30V241.20M584.97,422.00V420.10M584.97,239.30V241.20M587.82,422.00V420.10M587.82,239.30V241.20M607.12,422.00V420.10M607.12,239.30V241.20M616.93,422.00V420.10M616.93,239.30V241.20M623.88,422.00V420.10M623.88,239.30V241.20M629.28,422.00V420.10M629.28,239.30V241.20M633.68,422.00V420.10M633.68,239.30V241.20M637.41,422.00V420.10M637.41,239.30V241.20M640.64,422.00V420.10M640.64,239.30V241.20M643.49,422.00V420.10M643.49,239.30V241.20M662.79,422.00V420.10M662.79,239.30V241.20M672.59,422.00V420.10M672.59,239.30V241.20M679.55,422.00V420.10M679.55,239.30V241.20M684.94,422.00V420.10M684.94,239.30V241.20M689.35,422.00V420.10M689.35,239.30V241.20M693.08,422.00V420.10M693.08,239.30V241.20M696.31,422.00V420.10M696.31,239.30V241.20M699.15,422.00V420.10M699.15,239.30V241.20" stroke="#000" stroke-width="1.6" stroke-opacity="1.0" fill="none"/>
<path d="M534.70,422.00H538.10M701.70,422.00H698.30M534.70,385.46H538.10M701.70,385.46H698.30M534.70,348.92H538.10M701.70,348.92H698.30M534.70,312.38H538.10M701.70,312.38H698.30M534.70,275.84H538.10M701.70,275.84H698.30M534.70,239.30H538.10M701.70,239.30H698.30" stroke="#000" stroke-width="1.6" stroke-opacity="1.0" fill="none"/>
<path d="M534.70,411.00H536.40M701.70,411.00H700.00M534.70,404.57H536.40M701.70,404.57H700.00M534.70,400.00H536.40M701.70,400.00H700.00M534.70,396.46H536.40M701.70,396.46H700.00M534.70,393.57H536.40M701.70,393.57H700.00M534.70,391.12H536.40M701.70,391.12H700.00M534.70,389.00H536.40M701.70,389.00H700.00M534.70,387.13H536.40M701.70,387.13H700.00M534.70,374.46H536.40M701.70,374.46H700.00M534.70,368.03H536.40M701.70,368.03H700.00M534.70,363.46H536.40M701.70,363.46H700.00M534.70,359.92H536.40M701.70,359.92H700.00M534.70,357.03H536.40M701.70,357.03H700.00M534.70,354.58H536.40M701.70,354.58H700.00M534.70,352.46H536.40M701.70,352.46H700.00M534.70,350.59H536.40M701.70,350.59H700.00M534.70,337.92H536.40M701.70,337.92H700.00M534.70,331.49H536.40M701.70,331.49H700.00M534.70,326.92H536.40M701.70,326.92H700.00M534.70,323.38H536.40M701.70,323.38H700.00M534.70,320.49H536.40M701.70,320.49H700.00M534.70,318.04H536.40M701.70,318.04H700.00M534.70,315.92H536.40M701.70,315.92H700.00M534.70,314.05H536.40M701.70,314.05H700.00M534.70,301.38H536.40M701.70,301.38H700.00M534.70,294.95H536.40M701.70,294.95H700.00M534.70,290.38H536.40M701.70,290.38H700.00M534.70,286.84H536.40M701.70,286.84H700.00M534.70,283.95H536.40M701.70,283.95H700.00M534.70,281.50H536.40M701.70,281.50H700.00M534.70,279.38H536.40M701.70,279.38H700.00M534.70,277.51H536.40M701.70,277.51H700.00M534.70,264.84H536.40M701.70,264.84H700.00M534.70,258.41H536.40M701.70,258.41H700.00M534.70,253.84H536.40M701.70,253.84H700.00M534.70,250.30H536.40M701.70,250.30H700.00M534.70,247.41H536.40M701.70,247.41H700.00M534.70,244.96H536.40M701.70,244.96H700.00M534.70,242.84H536.40M701.70,242.84H700.00M534.70,240.97H536.40M701.70,240.97H700.00" stroke="#000" stroke-width="1.6" stroke-opacity="1.0" fill="none"/>
<g opacity="0.999" stroke="#000" stroke-width="0.42" fill="#000">
<path d="M0.2515,0.0000 L0.2515,-0.5859 L0.1221,-0.5078 L0.1221,-0.5859 L0.2588,-0.6880 L0.3398,-0.6880 L0.3398,0.0000Z" transform="translate(57.83 46.65) scale(16.720 15.352)" fill="#000" vector-effect="non-scaling-stroke"/>
<text x="38.77" y="46.65" font-size="15.35" textLength="37.66" lengthAdjust="spacingAndGlyphs" fill="#000">4× 0</text>
<text x="78.15" y="40.42" font-size="8.31" textLength="12.85" lengthAdjust="spacingAndGlyphs" fill="#000" font-weight="bold">−9</text>
<path d="M0.2515,0.0000 L0.2515,-0.5859 L0.1221,-0.5078 L0.1221,-0.5859 L0.2588,-0.6880 L0.3398,-0.6880 L0.3398,0.0000Z" transform="translate(57.66 83.05) scale(16.874 15.352)" fill="#000" vector-effect="non-scaling-stroke"/>
<text x="38.43" y="83.05" font-size="15.35" textLength="38.01" lengthAdjust="spacingAndGlyphs" fill="#000">3× 0</text>
<text x="78.15" y="76.82" font-size="8.31" textLength="12.85" lengthAdjust="spacingAndGlyphs" fill="#000" font-weight="bold">−9</text>
<path d="M0.2515,0.0000 L0.2515,-0.5859 L0.1221,-0.5078 L0.1221,-0.5859 L0.2588,-0.6880 L0.3398,-0.6880 L0.3398,0.0000Z" transform="translate(57.58 120.35) scale(16.952 15.352)" fill="#000" vector-effect="non-scaling-stroke"/>
<text x="38.25" y="120.35" font-size="15.35" textLength="38.18" lengthAdjust="spacingAndGlyphs" fill="#000">2× 0</text>
<text x="78.15" y="114.12" font-size="8.31" textLength="12.85" lengthAdjust="spacingAndGlyphs" fill="#000" font-weight="bold">−9</text>
<path d="M0.2515,0.0000 L0.2515,-0.5859 L0.1221,-0.5078 L0.1221,-0.5859 L0.2588,-0.6880 L0.3398,-0.6880 L0.3398,0.0000Z" transform="translate(39.68 156.35) scale(16.308 15.352)" fill="#000" vector-effect="non-scaling-stroke"/>
<path d="M0.2515,0.0000 L0.2515,-0.5859 L0.1221,-0.5078 L0.1221,-0.5859 L0.2588,-0.6880 L0.3398,-0.6880 L0.3398,0.0000Z" transform="translate(58.27 156.35) scale(16.308 15.352)" fill="#000" vector-effect="non-scaling-stroke"/>
<text x="39.68" y="156.35" font-size="15.35" textLength="36.73" lengthAdjust="spacingAndGlyphs" fill="#000"> × 0</text>
<text x="78.15" y="150.12" font-size="8.31" textLength="12.85" lengthAdjust="spacingAndGlyphs" fill="#000" font-weight="bold">−9</text>
<path d="M0.2515,0.0000 L0.2515,-0.5859 L0.1221,-0.5078 L0.1221,-0.5859 L0.2588,-0.6880 L0.3398,-0.6880 L0.3398,0.0000Z" transform="translate(57.66 14.55) scale(16.874 15.211)" fill="#000" vector-effect="non-scaling-stroke"/>
<text x="38.43" y="14.55" font-size="15.21" textLength="38.01" lengthAdjust="spacingAndGlyphs" fill="#000">5× 0</text>
<text x="78.15" y="7.42" font-size="8.31" textLength="12.85" lengthAdjust="spacingAndGlyphs" fill="#000" font-weight="bold">−9</text>
<text x="81.68" y="187.55" font-size="15.07" textLength="10.08" lengthAdjust="spacingAndGlyphs" fill="#000">0</text>
<text x="90.52" y="209.25" font-size="14.93" textLength="10.14" lengthAdjust="spacingAndGlyphs" fill="#000">0</text>
<text x="132.19" y="209.25" font-size="14.93" textLength="29.59" lengthAdjust="spacingAndGlyphs" fill="#000">500</text>
<path d="M0.2515,0.0000 L0.2515,-0.5859 L0.1221,-0.5078 L0.1221,-0.5859 L0.2588,-0.6880 L0.3398,-0.6880 L0.3398,0.0000Z" transform="translate(179.56 209.25) scale(16.548 14.930)" fill="#000" vector-effect="non-scaling-stroke"/>
<text x="179.56" y="209.25" font-size="14.93" textLength="36.82" lengthAdjust="spacingAndGlyphs" fill="#000"> 000</text>
<path d="M0.2515,0.0000 L0.2515,-0.5859 L0.1221,-0.5078 L0.1221,-0.5859 L0.2588,-0.6880 L0.3398,-0.6880 L0.3398,0.0000Z" transform="translate(230.78 209.25) scale(16.217 14.930)" fill="#000" vector-effect="non-scaling-stroke"/>
<text x="230.78" y="209.25" font-size="14.93" textLength="36.08" lengthAdjust="spacingAndGlyphs" fill="#000"> 500</text>
<text x="280.94" y="209.25" font-size="14.93" textLength="38.26" lengthAdjust="spacingAndGlyphs" fill="#000">2000</text>
<text x="332.14" y="209.25" font-size="14.93" textLength="38.46" lengthAdjust="spacingAndGlyphs" fill="#000">2500</text>
<text x="188.99" y="227.00" font-size="15.51" textLength="34.12" lengthAdjust="spacingAndGlyphs" fill="#000">Time</text>
<path d="M235.58,215.92C231.91,218.95 231.91,228.05 235.58,231.08" stroke="#000" stroke-width="1.45" fill="none" stroke-linecap="round"/>
<text x="237.82" y="226.87" font-size="12.96" textLength="12.65" lengthAdjust="spacingAndGlyphs" fill="#000">yr</text>
<path d="M252.53,215.92C256.33,218.95 256.33,228.05 252.53,231.08" stroke="#000" stroke-width="1.45" fill="none" stroke-linecap="round"/>
<text x="25.40" y="149.69" font-size="13.74" textLength="20.54" lengthAdjust="spacingAndGlyphs" fill="#000" transform="rotate(-90 25.40 149.69)">dM</text>
<path d="M25.1,129.0L15.6,120.2" stroke="#000" stroke-width="1.45" stroke-linecap="round"/>
<text x="25.40" y="119.52" font-size="13.74" textLength="14.98" lengthAdjust="spacingAndGlyphs" fill="#000" transform="rotate(-90 25.40 119.52)">dt</text>
<path d="M14.72,91.22C17.36,97.16 25.24,97.16 27.88,91.22" stroke="#000" stroke-width="1.45" fill="none" stroke-linecap="round"/>
<text x="26.60" y="90.04" font-size="15.36" textLength="9.82" lengthAdjust="spacingAndGlyphs" fill="#000" transform="rotate(-90 26.60 90.04)">M</text>
<text x="27.80" y="80.65" font-size="9.43" textLength="4.88" lengthAdjust="spacingAndGlyphs" fill="#000" transform="rotate(-90 27.80 80.65)">J</text>
<path d="M26.2,75.5L16.3,68.2" stroke="#000" stroke-width="1.45" stroke-linecap="round"/>
<text x="26.60" y="66.66" font-size="13.70" textLength="6.06" lengthAdjust="spacingAndGlyphs" fill="#000" transform="rotate(-90 26.60 66.66)">y</text>
<text x="26.60" y="60.58" font-size="13.70" textLength="7.06" lengthAdjust="spacingAndGlyphs" fill="#000" transform="rotate(-90 26.60 60.58)">r</text>
<path d="M14.72,51.17C17.36,43.38 25.24,43.38 27.88,51.17" stroke="#000" stroke-width="1.45" fill="none" stroke-linecap="round"/>
<path d="M0.2515,0.0000 L0.2515,-0.5859 L0.1221,-0.5078 L0.1221,-0.5859 L0.2588,-0.6880 L0.3398,-0.6880 L0.3398,0.0000Z" transform="translate(395.40 14.65) scale(16.000 14.507)" fill="#000" vector-effect="non-scaling-stroke"/>
<text x="395.40" y="14.65" font-size="14.51" textLength="17.80" lengthAdjust="spacingAndGlyphs" fill="#000"> 0</text>
<text x="413.82" y="7.00" font-size="9.72" textLength="6.67" lengthAdjust="spacingAndGlyphs" fill="#000">3</text>
<path d="M0.2515,0.0000 L0.2515,-0.5859 L0.1221,-0.5078 L0.1221,-0.5859 L0.2588,-0.6880 L0.3398,-0.6880 L0.3398,0.0000Z" transform="translate(395.40 55.75) scale(16.000 15.352)" fill="#000" vector-effect="non-scaling-stroke"/>
<text x="395.40" y="55.75" font-size="15.35" textLength="17.80" lengthAdjust="spacingAndGlyphs" fill="#000"> 0</text>
<text x="413.73" y="49.41" font-size="9.15" textLength="6.36" lengthAdjust="spacingAndGlyphs" fill="#000">2</text>
<path d="M0.2515,0.0000 L0.2515,-0.5859 L0.1221,-0.5078 L0.1221,-0.5859 L0.2588,-0.6880 L0.3398,-0.6880 L0.3398,0.0000Z" transform="translate(395.69 101.25) scale(16.100 15.211)" fill="#000" vector-effect="non-scaling-stroke"/>
<text x="395.69" y="101.25" font-size="15.21" textLength="17.91" lengthAdjust="spacingAndGlyphs" fill="#000"> 0</text>
<path d="M0.2515,0.0000 L0.2515,-0.5859 L0.1221,-0.5078 L0.1221,-0.5859 L0.2588,-0.6880 L0.3398,-0.6880 L0.3398,0.0000Z" transform="translate(415.07 93.71) scale(5.747 8.592)" fill="#000" vector-effect="non-scaling-stroke"/>
<path d="M0.2515,0.0000 L0.2515,-0.5859 L0.1221,-0.5078 L0.1221,-0.5859 L0.2588,-0.6880 L0.3398,-0.6880 L0.3398,0.0000Z" transform="translate(395.50 147.35) scale(16.000 14.789)" fill="#000" vector-effect="non-scaling-stroke"/>
<text x="395.50" y="147.35" font-size="14.79" textLength="17.80" lengthAdjust="spacingAndGlyphs" fill="#000"> 0</text>
<text x="413.70" y="141.42" font-size="8.45" textLength="6.95" lengthAdjust="spacingAndGlyphs" fill="#000">0</text>
<path d="M0.2515,0.0000 L0.2515,-0.5859 L0.1221,-0.5078 L0.1221,-0.5859 L0.2588,-0.6880 L0.3398,-0.6880 L0.3398,0.0000Z" transform="translate(388.00 186.35) scale(16.000 14.789)" fill="#000" vector-effect="non-scaling-stroke"/>
<text x="388.00" y="186.35" font-size="14.79" textLength="17.80" lengthAdjust="spacingAndGlyphs" fill="#000"> 0</text>
<path d="M0.2515,0.0000 L0.2515,-0.5859 L0.1221,-0.5078 L0.1221,-0.5859 L0.2588,-0.6880 L0.3398,-0.6880 L0.3398,0.0000Z" transform="translate(413.22 181.12) scale(10.718 8.451)" fill="#000" vector-effect="non-scaling-stroke"/>
<text x="406.96" y="181.12" font-size="8.45" textLength="12.22" lengthAdjust="spacingAndGlyphs" fill="#000">− </text>
<path d="M0.2515,0.0000 L0.2515,-0.5859 L0.1221,-0.5078 L0.1221,-0.5859 L0.2588,-0.6880 L0.3398,-0.6880 L0.3398,0.0000Z" transform="translate(420.91 209.05) scale(10.575 14.648)" fill="#000" vector-effect="non-scaling-stroke"/>
<path d="M0.2515,0.0000 L0.2515,-0.5859 L0.1221,-0.5078 L0.1221,-0.5859 L0.2588,-0.6880 L0.3398,-0.6880 L0.3398,0.0000Z" transform="translate(501.31 209.05) scale(15.800 14.648)" fill="#000" vector-effect="non-scaling-stroke"/>
<text x="501.31" y="209.05" font-size="14.65" textLength="17.58" lengthAdjust="spacingAndGlyphs" fill="#000"> 0</text>
<path d="M0.2515,0.0000 L0.2515,-0.5859 L0.1221,-0.5078 L0.1221,-0.5859 L0.2588,-0.6880 L0.3398,-0.6880 L0.3398,0.0000Z" transform="translate(581.15 209.05) scale(16.720 14.648)" fill="#000" vector-effect="non-scaling-stroke"/>
<text x="581.15" y="209.05" font-size="14.65" textLength="27.90" lengthAdjust="spacingAndGlyphs" fill="#000"> 00</text>
<path d="M0.2515,0.0000 L0.2515,-0.5859 L0.1221,-0.5078 L0.1221,-0.5859 L0.2588,-0.6880 L0.3398,-0.6880 L0.3398,0.0000Z" transform="translate(661.22 209.05) scale(17.021 14.648)" fill="#000" vector-effect="non-scaling-stroke"/>
<text x="661.22" y="209.05" font-size="14.65" textLength="37.87" lengthAdjust="spacingAndGlyphs" fill="#000"> 000</text>
<text x="528.92" y="227.30" font-size="14.49" textLength="9.71" lengthAdjust="spacingAndGlyphs" fill="#000">R</text>
<path d="M551.38,215.82C547.71,218.81 547.71,227.78 551.38,230.78" stroke="#000" stroke-width="1.45" fill="none" stroke-linecap="round"/>
<text x="553.32" y="227.30" font-size="14.49" textLength="9.71" lengthAdjust="spacingAndGlyphs" fill="#000">R</text>
<text x="563.46" y="231.41" font-size="8.71" textLength="4.63" lengthAdjust="spacingAndGlyphs" fill="#000">J</text>
<path d="M569.43,215.82C573.62,218.81 573.62,227.78 569.43,230.78" stroke="#000" stroke-width="1.45" fill="none" stroke-linecap="round"/>
<text x="594.42" y="463.00" font-size="14.49" textLength="9.71" lengthAdjust="spacingAndGlyphs" fill="#000">R</text>
<path d="M616.88,451.52C613.21,454.51 613.21,463.48 616.88,466.47" stroke="#000" stroke-width="1.45" fill="none" stroke-linecap="round"/>
<text x="618.82" y="463.00" font-size="14.49" textLength="9.71" lengthAdjust="spacingAndGlyphs" fill="#000">R</text>
<text x="628.96" y="467.11" font-size="8.71" textLength="4.63" lengthAdjust="spacingAndGlyphs" fill="#000">J</text>
<path d="M634.93,451.52C639.12,454.51 639.12,463.48 634.93,466.47" stroke="#000" stroke-width="1.45" fill="none" stroke-linecap="round"/>
<text x="374.20" y="136.17" font-size="15.36" textLength="10.73" lengthAdjust="spacingAndGlyphs" fill="#000" transform="rotate(-90 374.20 136.17)">Σ</text>
<path d="M362.23,116.22C365.14,124.56 373.86,124.56 376.77,116.22" stroke="#000" stroke-width="1.45" fill="none" stroke-linecap="round"/>
<text x="374.20" y="115.26" font-size="14.26" textLength="10.63" lengthAdjust="spacingAndGlyphs" fill="#000" transform="rotate(-90 374.20 115.26)">g</text>
<text x="374.20" y="97.73" font-size="14.00" textLength="6.67" lengthAdjust="spacingAndGlyphs" fill="#000" transform="rotate(-90 374.20 97.73)">c</text>
<text x="374.20" y="91.57" font-size="14.26" textLength="13.71" lengthAdjust="spacingAndGlyphs" fill="#000" transform="rotate(-90 374.20 91.57)">m</text>
<text x="366.50" y="77.42" font-size="9.71" textLength="9.54" lengthAdjust="spacingAndGlyphs" fill="#000" transform="rotate(-90 366.50 77.42)">−2</text>
<path d="M362.23,63.77C365.14,54.11 373.86,54.11 376.77,63.77" stroke="#000" stroke-width="1.45" fill="none" stroke-linecap="round"/>
<path d="M0.2515,0.0000 L0.2515,-0.5859 L0.1221,-0.5078 L0.1221,-0.5859 L0.2588,-0.6880 L0.3398,-0.6880 L0.3398,0.0000Z" transform="translate(602.65 35.00) scale(16.730 14.783)" fill="#000" vector-effect="non-scaling-stroke"/>
<text x="602.65" y="35.00" font-size="14.78" textLength="37.22" lengthAdjust="spacingAndGlyphs" fill="#000"> 496</text>
<text x="647.62" y="34.87" font-size="12.96" textLength="22.03" lengthAdjust="spacingAndGlyphs" fill="#000">yrs</text>
<path d="M0.2515,0.0000 L0.2515,-0.5859 L0.1221,-0.5078 L0.1221,-0.5859 L0.2588,-0.6880 L0.3398,-0.6880 L0.3398,0.0000Z" transform="translate(602.65 49.60) scale(16.730 14.493)" fill="#000" vector-effect="non-scaling-stroke"/>
<text x="602.65" y="49.60" font-size="14.49" textLength="37.22" lengthAdjust="spacingAndGlyphs" fill="#000"> 603</text>
<text x="647.62" y="49.47" font-size="12.96" textLength="22.03" lengthAdjust="spacingAndGlyphs" fill="#000">yrs</text>
<text x="0.08" y="247.38" font-size="11.69" textLength="20.10" lengthAdjust="spacingAndGlyphs" fill="#000">70.</text>
<text x="0.23" y="280.58" font-size="11.69" textLength="19.94" lengthAdjust="spacingAndGlyphs" fill="#000">56.</text>
<text x="0.52" y="317.98" font-size="11.69" textLength="19.63" lengthAdjust="spacingAndGlyphs" fill="#000">42.</text>
<text x="0.08" y="354.18" font-size="11.69" textLength="20.10" lengthAdjust="spacingAndGlyphs" fill="#000">28.</text>
<path d="M0.2515,0.0000 L0.2515,-0.5859 L0.1221,-0.5078 L0.1221,-0.5859 L0.2588,-0.6880 L0.3398,-0.6880 L0.3398,0.0000Z" transform="translate(0.97 390.48) scale(13.770 11.690)" fill="#000" vector-effect="non-scaling-stroke"/>
<text x="0.97" y="390.48" font-size="11.69" textLength="19.14" lengthAdjust="spacingAndGlyphs" fill="#000"> 4.</text>
<text x="8.97" y="422.58" font-size="11.69" textLength="11.08" lengthAdjust="spacingAndGlyphs" fill="#000">0.</text>
<text x="46.30" y="364.58" font-size="11.88" textLength="7.23" lengthAdjust="spacingAndGlyphs" fill="#000" transform="rotate(-90 46.30 364.58)">Σ</text>
<path d="M36.92,347.62C39.21,354.62 46.09,354.62 48.38,347.62" stroke="#000" stroke-width="1.25" fill="none" stroke-linecap="round"/>
<text x="46.30" y="345.88" font-size="11.11" textLength="8.03" lengthAdjust="spacingAndGlyphs" fill="#000" transform="rotate(-90 46.30 345.88)">g</text>
<text x="46.30" y="333.52" font-size="10.91" textLength="5.29" lengthAdjust="spacingAndGlyphs" fill="#000" transform="rotate(-90 46.30 333.52)">c</text>
<text x="46.30" y="328.22" font-size="11.11" textLength="10.52" lengthAdjust="spacingAndGlyphs" fill="#000" transform="rotate(-90 46.30 328.22)">m</text>
<text x="42.20" y="314.84" font-size="7.00" textLength="9.98" lengthAdjust="spacingAndGlyphs" fill="#000" transform="rotate(-90 42.20 314.84)">−2</text>
<path d="M36.92,302.68C39.21,295.94 46.09,295.94 48.38,302.68" stroke="#000" stroke-width="1.25" fill="none" stroke-linecap="round"/>
<path d="M0.2515,0.0000 L0.2515,-0.5859 L0.1221,-0.5078 L0.1221,-0.5859 L0.2588,-0.6880 L0.3398,-0.6880 L0.3398,0.0000Z" transform="translate(505.00 249.65) scale(16.000 14.789)" fill="#000" vector-effect="non-scaling-stroke"/>
<text x="505.00" y="249.65" font-size="14.79" textLength="17.80" lengthAdjust="spacingAndGlyphs" fill="#000"> 0</text>
<text x="523.68" y="242.61" font-size="9.01" textLength="5.91" lengthAdjust="spacingAndGlyphs" fill="#000">0</text>
<path d="M0.2515,0.0000 L0.2515,-0.5859 L0.1221,-0.5078 L0.1221,-0.5859 L0.2588,-0.6880 L0.3398,-0.6880 L0.3398,0.0000Z" transform="translate(497.20 281.45) scale(16.000 14.648)" fill="#000" vector-effect="non-scaling-stroke"/>
<text x="497.20" y="281.45" font-size="14.65" textLength="17.80" lengthAdjust="spacingAndGlyphs" fill="#000"> 0</text>
<path d="M0.2334,0.0000 L0.2334,-0.5713 L0.0684,-0.4683 L0.0684,-0.5762 L0.2407,-0.6880 L0.3706,-0.6880 L0.3706,0.0000Z" transform="translate(522.52 275.31) scale(11.442 8.592)" fill="#000" vector-effect="non-scaling-stroke"/>
<text x="515.84" y="275.31" font-size="8.59" textLength="13.05" lengthAdjust="spacingAndGlyphs" fill="#000" font-weight="bold">− </text>
<path d="M0.2515,0.0000 L0.2515,-0.5859 L0.1221,-0.5078 L0.1221,-0.5859 L0.2588,-0.6880 L0.3398,-0.6880 L0.3398,0.0000Z" transform="translate(497.20 319.85) scale(16.000 14.648)" fill="#000" vector-effect="non-scaling-stroke"/>
<text x="497.20" y="319.85" font-size="14.65" textLength="17.80" lengthAdjust="spacingAndGlyphs" fill="#000"> 0</text>
<text x="515.84" y="313.71" font-size="8.59" textLength="13.23" lengthAdjust="spacingAndGlyphs" fill="#000" font-weight="bold">−2</text>
<path d="M0.2515,0.0000 L0.2515,-0.5859 L0.1221,-0.5078 L0.1221,-0.5859 L0.2588,-0.6880 L0.3398,-0.6880 L0.3398,0.0000Z" transform="translate(497.20 355.85) scale(16.000 14.648)" fill="#000" vector-effect="non-scaling-stroke"/>
<text x="497.20" y="355.85" font-size="14.65" textLength="17.80" lengthAdjust="spacingAndGlyphs" fill="#000"> 0</text>
<text x="515.84" y="349.71" font-size="8.59" textLength="13.17" lengthAdjust="spacingAndGlyphs" fill="#000" font-weight="bold">−3</text>
<path d="M0.2515,0.0000 L0.2515,-0.5859 L0.1221,-0.5078 L0.1221,-0.5859 L0.2588,-0.6880 L0.3398,-0.6880 L0.3398,0.0000Z" transform="translate(497.20 391.15) scale(16.000 14.648)" fill="#000" vector-effect="non-scaling-stroke"/>
<text x="497.20" y="391.15" font-size="14.65" textLength="17.80" lengthAdjust="spacingAndGlyphs" fill="#000"> 0</text>
<text x="515.85" y="385.01" font-size="8.59" textLength="12.81" lengthAdjust="spacingAndGlyphs" fill="#000" font-weight="bold">−4</text>
<path d="M0.2515,0.0000 L0.2515,-0.5859 L0.1221,-0.5078 L0.1221,-0.5859 L0.2588,-0.6880 L0.3398,-0.6880 L0.3398,0.0000Z" transform="translate(497.20 421.35) scale(16.000 14.648)" fill="#000" vector-effect="non-scaling-stroke"/>
<text x="497.20" y="421.35" font-size="14.65" textLength="17.80" lengthAdjust="spacingAndGlyphs" fill="#000"> 0</text>
<text x="515.84" y="415.21" font-size="8.59" textLength="13.05" lengthAdjust="spacingAndGlyphs" fill="#000" font-weight="bold">−5</text>
<path d="M0.2515,0.0000 L0.2515,-0.5859 L0.1221,-0.5078 L0.1221,-0.5859 L0.2588,-0.6880 L0.3398,-0.6880 L0.3398,0.0000Z" transform="translate(531.52 443.55) scale(10.345 14.789)" fill="#000" vector-effect="non-scaling-stroke"/>
<path d="M0.2515,0.0000 L0.2515,-0.5859 L0.1221,-0.5078 L0.1221,-0.5859 L0.2588,-0.6880 L0.3398,-0.6880 L0.3398,0.0000Z" transform="translate(581.60 443.55) scale(16.000 14.789)" fill="#000" vector-effect="non-scaling-stroke"/>
<text x="581.60" y="443.55" font-size="14.79" textLength="17.80" lengthAdjust="spacingAndGlyphs" fill="#000"> 0</text>
<path d="M0.2515,0.0000 L0.2515,-0.5859 L0.1221,-0.5078 L0.1221,-0.5859 L0.2588,-0.6880 L0.3398,-0.6880 L0.3398,0.0000Z" transform="translate(631.10 443.55) scale(17.299 14.789)" fill="#000" vector-effect="non-scaling-stroke"/>
<text x="631.10" y="443.55" font-size="14.79" textLength="28.86" lengthAdjust="spacingAndGlyphs" fill="#000"> 00</text>
<path d="M0.2515,0.0000 L0.2515,-0.5859 L0.1221,-0.5078 L0.1221,-0.5859 L0.2588,-0.6880 L0.3398,-0.6880 L0.3398,0.0000Z" transform="translate(683.12 443.55) scale(17.069 14.789)" fill="#000" vector-effect="non-scaling-stroke"/>
<text x="683.12" y="443.55" font-size="14.79" textLength="37.97" lengthAdjust="spacingAndGlyphs" fill="#000"> 000</text>
<text x="484.50" y="344.36" font-size="15.64" textLength="11.00" lengthAdjust="spacingAndGlyphs" fill="#000" transform="rotate(-90 484.50 344.36)">α</text>
<text x="487.30" y="334.51" font-size="8.70" textLength="17.25" lengthAdjust="spacingAndGlyphs" fill="#000" font-weight="bold" transform="rotate(-90 487.30 334.51)">Rey</text>
</g>
<g opacity="0.999" fill="#686868" stroke="#fff" stroke-width="0.3">
<text x="52.40" y="421.73" font-size="14.93" textLength="20.63" lengthAdjust="spacingAndGlyphs" fill="#686868">−3</text>
<text x="52.39" y="394.44" font-size="14.93" textLength="20.83" lengthAdjust="spacingAndGlyphs" fill="#686868">−2</text>
<path d="M0.2661,0.0000 L0.2661,-0.5957 L0.1318,-0.5176 L0.1318,-0.5762 L0.2734,-0.6880 L0.3198,-0.6880 L0.3198,0.0000Z" transform="translate(63.01 365.34) scale(18.182 14.930)" fill="#686868" vector-effect="non-scaling-stroke"/>
<text x="52.39" y="365.34" font-size="14.93" textLength="20.73" lengthAdjust="spacingAndGlyphs" fill="#686868">− </text>
<text x="63.85" y="336.25" font-size="14.93" textLength="9.04" lengthAdjust="spacingAndGlyphs" fill="#686868">0</text>
<path d="M0.2661,0.0000 L0.2661,-0.5957 L0.1318,-0.5176 L0.1318,-0.5762 L0.2734,-0.6880 L0.3198,-0.6880 L0.3198,0.0000Z" transform="translate(63.16 307.16) scale(17.931 14.930)" fill="#686868" vector-effect="non-scaling-stroke"/>
<text x="63.64" y="278.06" font-size="14.93" textLength="9.53" lengthAdjust="spacingAndGlyphs" fill="#686868">2</text>
<text x="63.84" y="250.97" font-size="14.93" textLength="9.13" lengthAdjust="spacingAndGlyphs" fill="#686868">3</text>
<text x="89.73" y="443.55" font-size="14.65" textLength="22.07" lengthAdjust="spacingAndGlyphs" fill="#686868">0.8</text>
<path d="M0.2661,0.0000 L0.2661,-0.5957 L0.1318,-0.5176 L0.1318,-0.5762 L0.2734,-0.6880 L0.3198,-0.6880 L0.3198,0.0000Z" transform="translate(115.77 443.55) scale(16.250 14.648)" fill="#686868" vector-effect="non-scaling-stroke"/>
<text x="115.77" y="443.55" font-size="14.65" textLength="22.59" lengthAdjust="spacingAndGlyphs" fill="#686868"> .0</text>
<path d="M0.2661,0.0000 L0.2661,-0.5957 L0.1318,-0.5176 L0.1318,-0.5762 L0.2734,-0.6880 L0.3198,-0.6880 L0.3198,0.0000Z" transform="translate(142.38 443.55) scale(16.443 14.648)" fill="#686868" vector-effect="non-scaling-stroke"/>
<text x="142.38" y="443.55" font-size="14.65" textLength="22.86" lengthAdjust="spacingAndGlyphs" fill="#686868"> .2</text>
<path d="M0.2661,0.0000 L0.2661,-0.5957 L0.1318,-0.5176 L0.1318,-0.5762 L0.2734,-0.6880 L0.3198,-0.6880 L0.3198,0.0000Z" transform="translate(169.02 443.55) scale(16.187 14.648)" fill="#686868" vector-effect="non-scaling-stroke"/>
<text x="169.02" y="443.55" font-size="14.65" textLength="22.50" lengthAdjust="spacingAndGlyphs" fill="#686868"> .4</text>
<path d="M0.2661,0.0000 L0.2661,-0.5957 L0.1318,-0.5176 L0.1318,-0.5762 L0.2734,-0.6880 L0.3198,-0.6880 L0.3198,0.0000Z" transform="translate(195.63 443.55) scale(16.314 14.648)" fill="#686868" vector-effect="non-scaling-stroke"/>
<text x="195.63" y="443.55" font-size="14.65" textLength="22.68" lengthAdjust="spacingAndGlyphs" fill="#686868"> .6</text>
<path d="M0.2661,0.0000 L0.2661,-0.5957 L0.1318,-0.5176 L0.1318,-0.5762 L0.2734,-0.6880 L0.3198,-0.6880 L0.3198,0.0000Z" transform="translate(222.25 443.55) scale(16.314 14.648)" fill="#686868" vector-effect="non-scaling-stroke"/>
<text x="222.25" y="443.55" font-size="14.65" textLength="22.68" lengthAdjust="spacingAndGlyphs" fill="#686868"> .8</text>
<text x="249.30" y="443.55" font-size="14.65" textLength="22.16" lengthAdjust="spacingAndGlyphs" fill="#686868">2.0</text>
<text x="121.77" y="462.60" font-size="14.35" textLength="25.58" lengthAdjust="spacingAndGlyphs" fill="#686868">Log</text>
<path d="M0.2661,0.0000 L0.2661,-0.5957 L0.1318,-0.5176 L0.1318,-0.5762 L0.2734,-0.6880 L0.3198,-0.6880 L0.3198,0.0000Z" transform="translate(147.65 466.00) scale(11.300 10.000)" fill="#686868" vector-effect="non-scaling-stroke"/>
<text x="147.65" y="466.00" font-size="10.00" textLength="12.57" lengthAdjust="spacingAndGlyphs" fill="#686868"> 0</text>
<path d="M172.00,451.80C167.87,454.68 167.87,463.32 172.00,466.20" stroke="#686868" stroke-width="1.2" fill="none" stroke-linecap="round"/>
<text x="174.35" y="462.60" font-size="14.35" textLength="9.47" lengthAdjust="spacingAndGlyphs" fill="#686868">R</text>
<path d="M185.20,462.2L191.10,452.6" stroke="#686868" stroke-width="1.2" stroke-linecap="round"/>
<text x="194.25" y="462.60" font-size="14.35" textLength="8.62" lengthAdjust="spacingAndGlyphs" fill="#686868">R</text>
<text x="203.54" y="466.71" font-size="9.00" textLength="5.24" lengthAdjust="spacingAndGlyphs" fill="#686868">J</text>
<path d="M211.40,451.80C215.53,454.68 215.53,463.32 211.40,466.20" stroke="#686868" stroke-width="1.2" fill="none" stroke-linecap="round"/>
<text x="263.90" y="421.73" font-size="14.93" textLength="20.63" lengthAdjust="spacingAndGlyphs" fill="#686868">−3</text>
<text x="263.89" y="394.44" font-size="14.93" textLength="20.83" lengthAdjust="spacingAndGlyphs" fill="#686868">−2</text>
<path d="M0.2661,0.0000 L0.2661,-0.5957 L0.1318,-0.5176 L0.1318,-0.5762 L0.2734,-0.6880 L0.3198,-0.6880 L0.3198,0.0000Z" transform="translate(274.51 365.34) scale(18.182 14.930)" fill="#686868" vector-effect="non-scaling-stroke"/>
<text x="263.89" y="365.34" font-size="14.93" textLength="20.73" lengthAdjust="spacingAndGlyphs" fill="#686868">− </text>
<text x="275.35" y="336.25" font-size="14.93" textLength="9.04" lengthAdjust="spacingAndGlyphs" fill="#686868">0</text>
<path d="M0.2661,0.0000 L0.2661,-0.5957 L0.1318,-0.5176 L0.1318,-0.5762 L0.2734,-0.6880 L0.3198,-0.6880 L0.3198,0.0000Z" transform="translate(274.66 307.16) scale(17.931 14.930)" fill="#686868" vector-effect="non-scaling-stroke"/>
<text x="275.14" y="278.06" font-size="14.93" textLength="9.53" lengthAdjust="spacingAndGlyphs" fill="#686868">2</text>
<text x="275.34" y="250.97" font-size="14.93" textLength="9.13" lengthAdjust="spacingAndGlyphs" fill="#686868">3</text>
<text x="301.43" y="443.55" font-size="14.65" textLength="22.07" lengthAdjust="spacingAndGlyphs" fill="#686868">0.8</text>
<path d="M0.2661,0.0000 L0.2661,-0.5957 L0.1318,-0.5176 L0.1318,-0.5762 L0.2734,-0.6880 L0.3198,-0.6880 L0.3198,0.0000Z" transform="translate(327.47 443.55) scale(16.250 14.648)" fill="#686868" vector-effect="non-scaling-stroke"/>
<text x="327.47" y="443.55" font-size="14.65" textLength="22.59" lengthAdjust="spacingAndGlyphs" fill="#686868"> .0</text>
<path d="M0.2661,0.0000 L0.2661,-0.5957 L0.1318,-0.5176 L0.1318,-0.5762 L0.2734,-0.6880 L0.3198,-0.6880 L0.3198,0.0000Z" transform="translate(354.08 443.55) scale(16.443 14.648)" fill="#686868" vector-effect="non-scaling-stroke"/>
<text x="354.08" y="443.55" font-size="14.65" textLength="22.86" lengthAdjust="spacingAndGlyphs" fill="#686868"> .2</text>
<path d="M0.2661,0.0000 L0.2661,-0.5957 L0.1318,-0.5176 L0.1318,-0.5762 L0.2734,-0.6880 L0.3198,-0.6880 L0.3198,0.0000Z" transform="translate(380.72 443.55) scale(16.187 14.648)" fill="#686868" vector-effect="non-scaling-stroke"/>
<text x="380.72" y="443.55" font-size="14.65" textLength="22.50" lengthAdjust="spacingAndGlyphs" fill="#686868"> .4</text>
<path d="M0.2661,0.0000 L0.2661,-0.5957 L0.1318,-0.5176 L0.1318,-0.5762 L0.2734,-0.6880 L0.3198,-0.6880 L0.3198,0.0000Z" transform="translate(407.33 443.55) scale(16.314 14.648)" fill="#686868" vector-effect="non-scaling-stroke"/>
<text x="407.33" y="443.55" font-size="14.65" textLength="22.68" lengthAdjust="spacingAndGlyphs" fill="#686868"> .6</text>
<path d="M0.2661,0.0000 L0.2661,-0.5957 L0.1318,-0.5176 L0.1318,-0.5762 L0.2734,-0.6880 L0.3198,-0.6880 L0.3198,0.0000Z" transform="translate(433.95 443.55) scale(16.314 14.648)" fill="#686868" vector-effect="non-scaling-stroke"/>
<text x="433.95" y="443.55" font-size="14.65" textLength="22.68" lengthAdjust="spacingAndGlyphs" fill="#686868"> .8</text>
<text x="461.00" y="443.55" font-size="14.65" textLength="22.16" lengthAdjust="spacingAndGlyphs" fill="#686868">2.0</text>
<text x="333.47" y="462.60" font-size="14.35" textLength="25.58" lengthAdjust="spacingAndGlyphs" fill="#686868">Log</text>
<path d="M0.2661,0.0000 L0.2661,-0.5957 L0.1318,-0.5176 L0.1318,-0.5762 L0.2734,-0.6880 L0.3198,-0.6880 L0.3198,0.0000Z" transform="translate(359.35 466.00) scale(11.300 10.000)" fill="#686868" vector-effect="non-scaling-stroke"/>
<text x="359.35" y="466.00" font-size="10.00" textLength="12.57" lengthAdjust="spacingAndGlyphs" fill="#686868"> 0</text>
<path d="M383.70,451.80C379.57,454.68 379.57,463.32 383.70,466.20" stroke="#686868" stroke-width="1.2" fill="none" stroke-linecap="round"/>
<text x="386.05" y="462.60" font-size="14.35" textLength="9.47" lengthAdjust="spacingAndGlyphs" fill="#686868">R</text>
<path d="M396.90,462.2L402.80,452.6" stroke="#686868" stroke-width="1.2" stroke-linecap="round"/>
<text x="405.95" y="462.60" font-size="14.35" textLength="8.62" lengthAdjust="spacingAndGlyphs" fill="#686868">R</text>
<text x="415.24" y="466.71" font-size="9.00" textLength="5.24" lengthAdjust="spacingAndGlyphs" fill="#686868">J</text>
<path d="M423.10,451.80C427.23,454.68 427.23,463.32 423.10,466.20" stroke="#686868" stroke-width="1.2" fill="none" stroke-linecap="round"/>
</g>
</svg></body></html>
